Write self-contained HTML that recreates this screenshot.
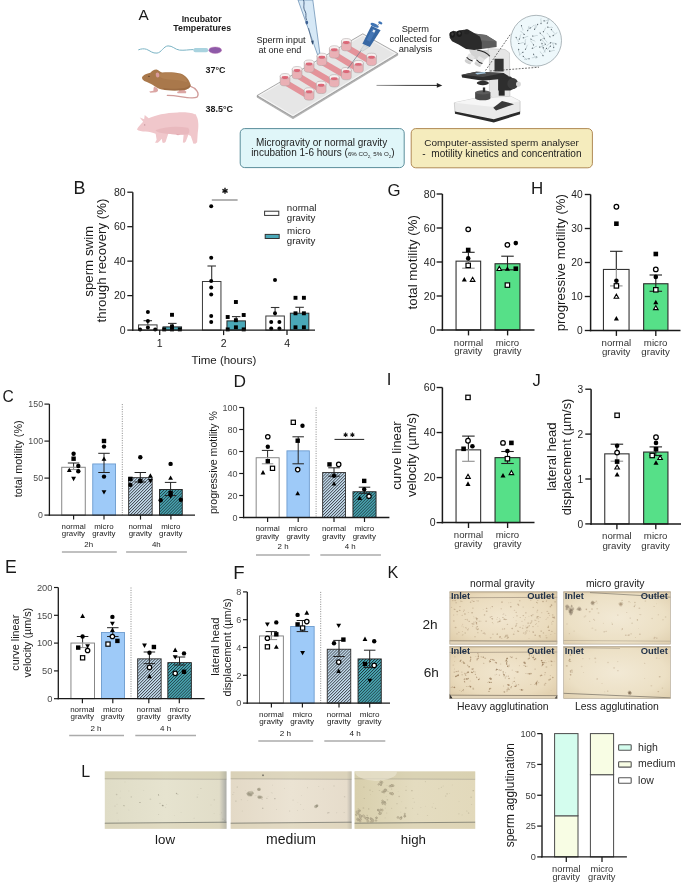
<!DOCTYPE html>
<html><head><meta charset="utf-8"><style>html,body{margin:0;padding:0;background:#fff;}svg{display:block;will-change:transform;}text{font-family:"Liberation Sans", sans-serif;}</style></head>
<body><svg width="685" height="884" viewBox="0 0 685 884" font-family='"Liberation Sans", sans-serif'>
<defs>
<pattern id="hl" patternUnits="userSpaceOnUse" width="2.1" height="2.1" patternTransform="rotate(45)">
<rect width="2.1" height="2.1" fill="#c9e2f3"/><rect width="0.85" height="2.1" fill="#454c55"/></pattern>
<pattern id="ht" patternUnits="userSpaceOnUse" width="2.1" height="2.1" patternTransform="rotate(45)">
<rect width="2.1" height="2.1" fill="#4fb3c1"/><rect width="0.85" height="2.1" fill="#1d3a40"/></pattern>

<radialGradient id="kg1" cx="0.5" cy="0.5" r="0.75"><stop offset="0" stop-color="#f1e6cf"/><stop offset="0.6" stop-color="#eadbbd"/><stop offset="1" stop-color="#d9c5a0"/></radialGradient>
<radialGradient id="kg2" cx="0.5" cy="0.5" r="0.75"><stop offset="0" stop-color="#f2e9d5"/><stop offset="0.6" stop-color="#ece0c5"/><stop offset="1" stop-color="#dccba9"/></radialGradient>
<linearGradient id="lg1" x1="0" y1="0" x2="1" y2="0"><stop offset="0" stop-color="#dfdcc6"/><stop offset="0.5" stop-color="#e6e3cf"/><stop offset="0.94" stop-color="#e1ddc8"/><stop offset="1" stop-color="#a9aaa6"/></linearGradient>
<linearGradient id="lg2" x1="0" y1="0" x2="1" y2="0"><stop offset="0" stop-color="#e3d9c6"/><stop offset="0.5" stop-color="#ebe3d3"/><stop offset="0.96" stop-color="#e6dccb"/><stop offset="1" stop-color="#b9b4aa"/></linearGradient>
<linearGradient id="lg3" x1="0" y1="0" x2="1" y2="0"><stop offset="0" stop-color="#d8cfac"/><stop offset="0.5" stop-color="#e4dcc0"/><stop offset="1" stop-color="#e2d9bb"/></linearGradient>
</defs>
<path d="M138.3,49.9 C141,48.8 144,48.4 146.5,49.3 C150,50.6 152.5,53.6 157,53.1 C161.5,52.6 163.5,46.2 168,45.9 C172.5,45.6 175,49.6 179.5,50.1 C184,50.6 189,49.6 193.6,49.6" fill="none" stroke="#7ab3c4" stroke-width="1.0"/><rect x="193.4" y="48.1" width="14.8" height="4.2" rx="2" fill="#a9d3df"/><ellipse cx="215.2" cy="50.2" rx="6.4" ry="3.3" fill="#8e5aa8" stroke="#c87fb8" stroke-width="0.4"/><g transform="translate(138,65) scale(0.09635)"><path d="M540,220 C600,240 645,290 612,333 C580,350 500,338 440,328 C390,320 340,316 305,316" fill="none" stroke="#d09c9a" stroke-width="14" stroke-linecap="round"/><path d="M168,222 L204,245 L208,270 L188,283 L128,287 L116,276 L160,266 L162,240 Z" fill="#dba6a4"/><path d="M415,250 L475,252 L502,278 L497,292 L412,293 L404,280 L428,270 Z" fill="#dba6a4"/><path d="M42,128 C50,110 75,92 128,80 C145,62 165,46 192,47 C212,52 222,68 250,78 C300,72 380,72 440,88 C500,108 535,160 545,205 C548,235 520,252 480,260 C420,266 340,266 280,260 C235,255 200,242 170,218 C140,196 100,180 65,165 C48,155 40,142 42,128 Z" fill="#a9784b"/><path d="M250,240 C320,250 420,250 480,240 C520,230 540,210 545,200 C548,235 520,252 480,260 C420,266 340,266 280,260 Z" fill="#976840" opacity="0.8"/><path d="M230,90 C300,78 400,80 450,100 C495,125 515,160 505,180 C440,150 330,160 260,140 C225,128 215,105 230,90 Z" fill="#b8865a" opacity="0.55"/><ellipse cx="203" cy="104" rx="19" ry="26" fill="#d79a9a" transform="rotate(-10 203 104)"/><circle cx="114" cy="118" r="7" fill="#4a3020"/></g><g transform="translate(134,110) scale(0.09927)"><path d="M30,196 C38,175 62,150 92,118 L58,76 L102,92 L108,50 L148,84 C210,50 320,28 440,24 C520,22 580,28 612,44 L622,42 L630,62 C652,100 652,170 642,232 L636,325 L618,340 L596,338 L592,320 L572,262 L548,250 L522,318 L508,330 L492,328 L500,250 C460,252 400,244 345,238 L318,322 L302,332 L286,328 L280,290 L262,310 L240,330 L212,330 L228,300 L218,240 C190,226 150,218 118,216 C80,216 45,212 30,196 Z" fill="#f0c7cb"/><path d="M215,205 C300,170 430,160 545,180 C565,205 560,240 535,248 C460,252 360,242 310,236 C265,232 232,225 215,205 Z" fill="#e4adb5" opacity="0.55"/><path d="M420,240 L470,250 L440,255 Z" fill="#e0a5ad"/><circle cx="108" cy="150" r="6" fill="#b88890"/></g><path d="M257,95.6 L293,117 L397.8,53.5 L397.8,55.2 L293,118.8 L257,97.2 Z" fill="#b8b8b8" stroke="#8a8a8a" stroke-width="0.4"/><path d="M257,95.6 L362.8,33.8 L397.8,53.5 L293,117 Z" fill="#e6e6e6" stroke="#8c8c8c" stroke-width="0.7"/><path d="M259.2,95.6 L362.8,35.2 L395.4,53.6 L293,115.6 Z" fill="none" stroke="#fafafa" stroke-width="0.8"/><line x1="285.03" y1="82.24" x2="309.12" y2="96.47" stroke="#e4939a" stroke-width="6.0"/><line x1="297.08" y1="75.23" x2="321.16" y2="89.90" stroke="#e4939a" stroke-width="6.0"/><line x1="309.12" y1="68.66" x2="334.30" y2="83.34" stroke="#e4939a" stroke-width="6.0"/><line x1="321.82" y1="61.88" x2="346.34" y2="76.11" stroke="#e4939a" stroke-width="6.0"/><line x1="334.30" y1="54.43" x2="358.39" y2="69.10" stroke="#e4939a" stroke-width="6.0"/><line x1="346.34" y1="47.21" x2="371.52" y2="61.88" stroke="#e4939a" stroke-width="6.0"/><path d="M280.13,76.24 L280.13,83.24 A4.9,2.6950000000000003 0 0 0 289.93,83.24 L289.93,76.24 Z" fill="#eab0b5" stroke="#a9a0a0" stroke-width="0.5"/><ellipse cx="285.03" cy="76.24" rx="4.9" ry="2.70" fill="#f7f0f0" stroke="#a9a0a0" stroke-width="0.5"/><ellipse cx="285.03" cy="77.54" rx="3.43" ry="1.47" fill="#dc6878"/><path d="M292.18,69.23 L292.18,76.23 A4.9,2.6950000000000003 0 0 0 301.98,76.23 L301.98,69.23 Z" fill="#eab0b5" stroke="#a9a0a0" stroke-width="0.5"/><ellipse cx="297.08" cy="69.23" rx="4.9" ry="2.70" fill="#f7f0f0" stroke="#a9a0a0" stroke-width="0.5"/><ellipse cx="297.08" cy="70.53" rx="3.43" ry="1.47" fill="#dc6878"/><path d="M304.22,62.66 L304.22,69.66 A4.9,2.6950000000000003 0 0 0 314.02,69.66 L314.02,62.66 Z" fill="#eab0b5" stroke="#a9a0a0" stroke-width="0.5"/><ellipse cx="309.12" cy="62.66" rx="4.9" ry="2.70" fill="#f7f0f0" stroke="#a9a0a0" stroke-width="0.5"/><ellipse cx="309.12" cy="63.96" rx="3.43" ry="1.47" fill="#dc6878"/><path d="M316.92,55.88 L316.92,62.88 A4.9,2.6950000000000003 0 0 0 326.72,62.88 L326.72,55.88 Z" fill="#eab0b5" stroke="#a9a0a0" stroke-width="0.5"/><ellipse cx="321.82" cy="55.88" rx="4.9" ry="2.70" fill="#f7f0f0" stroke="#a9a0a0" stroke-width="0.5"/><ellipse cx="321.82" cy="57.18" rx="3.43" ry="1.47" fill="#dc6878"/><path d="M329.40,48.43 L329.40,55.43 A4.9,2.6950000000000003 0 0 0 339.20,55.43 L339.20,48.43 Z" fill="#eab0b5" stroke="#a9a0a0" stroke-width="0.5"/><ellipse cx="334.30" cy="48.43" rx="4.9" ry="2.70" fill="#f7f0f0" stroke="#a9a0a0" stroke-width="0.5"/><ellipse cx="334.30" cy="49.73" rx="3.43" ry="1.47" fill="#dc6878"/><path d="M341.44,41.21 L341.44,48.21 A4.9,2.6950000000000003 0 0 0 351.24,48.21 L351.24,41.21 Z" fill="#eab0b5" stroke="#a9a0a0" stroke-width="0.5"/><ellipse cx="346.34" cy="41.21" rx="4.9" ry="2.70" fill="#f7f0f0" stroke="#a9a0a0" stroke-width="0.5"/><ellipse cx="346.34" cy="42.51" rx="3.43" ry="1.47" fill="#dc6878"/><path d="M304.22,90.47 L304.22,97.47 A4.9,2.6950000000000003 0 0 0 314.02,97.47 L314.02,90.47 Z" fill="#eab0b5" stroke="#a9a0a0" stroke-width="0.5"/><ellipse cx="309.12" cy="90.47" rx="4.9" ry="2.70" fill="#f7f0f0" stroke="#a9a0a0" stroke-width="0.5"/><ellipse cx="309.12" cy="91.77" rx="3.43" ry="1.47" fill="#dc6878"/><path d="M316.26,83.90 L316.26,90.90 A4.9,2.6950000000000003 0 0 0 326.06,90.90 L326.06,83.90 Z" fill="#eab0b5" stroke="#a9a0a0" stroke-width="0.5"/><ellipse cx="321.16" cy="83.90" rx="4.9" ry="2.70" fill="#f7f0f0" stroke="#a9a0a0" stroke-width="0.5"/><ellipse cx="321.16" cy="85.20" rx="3.43" ry="1.47" fill="#dc6878"/><path d="M329.40,77.34 L329.40,84.34 A4.9,2.6950000000000003 0 0 0 339.20,84.34 L339.20,77.34 Z" fill="#eab0b5" stroke="#a9a0a0" stroke-width="0.5"/><ellipse cx="334.30" cy="77.34" rx="4.9" ry="2.70" fill="#f7f0f0" stroke="#a9a0a0" stroke-width="0.5"/><ellipse cx="334.30" cy="78.64" rx="3.43" ry="1.47" fill="#dc6878"/><path d="M341.44,70.11 L341.44,77.11 A4.9,2.6950000000000003 0 0 0 351.24,77.11 L351.24,70.11 Z" fill="#eab0b5" stroke="#a9a0a0" stroke-width="0.5"/><ellipse cx="346.34" cy="70.11" rx="4.9" ry="2.70" fill="#f7f0f0" stroke="#a9a0a0" stroke-width="0.5"/><ellipse cx="346.34" cy="71.41" rx="3.43" ry="1.47" fill="#dc6878"/><path d="M353.49,63.10 L353.49,70.10 A4.9,2.6950000000000003 0 0 0 363.29,70.10 L363.29,63.10 Z" fill="#eab0b5" stroke="#a9a0a0" stroke-width="0.5"/><ellipse cx="358.39" cy="63.10" rx="4.9" ry="2.70" fill="#f7f0f0" stroke="#a9a0a0" stroke-width="0.5"/><ellipse cx="358.39" cy="64.40" rx="3.43" ry="1.47" fill="#dc6878"/><path d="M366.62,55.88 L366.62,62.88 A4.9,2.6950000000000003 0 0 0 376.42,62.88 L376.42,55.88 Z" fill="#eab0b5" stroke="#a9a0a0" stroke-width="0.5"/><ellipse cx="371.52" cy="55.88" rx="4.9" ry="2.70" fill="#f7f0f0" stroke="#a9a0a0" stroke-width="0.5"/><ellipse cx="371.52" cy="57.18" rx="3.43" ry="1.47" fill="#dc6878"/><path d="M298.0,0 L312.8,0 L319.8,53 L317.6,54.8 Z" fill="#d6e8f6" stroke="#5f86ad" stroke-width="0.7"/><path d="M303.5,0 C305,4 302.5,7 305,11 C307,14 305,17 306.5,20" fill="none" stroke="#2f4a6e" stroke-width="0.8"/><ellipse cx="306.8" cy="22.5" rx="1.3" ry="2.0" fill="#3d5f92"/><path d="M308.5,28 L312.5,44" stroke="#2f4a6e" stroke-width="0.6"/><path d="M311.2,41 L312.8,45 L313.8,40.6 Z" fill="#2f4a6e"/><line x1="361.5" y1="50" x2="347.6" y2="68.9" stroke="#6b7a86" stroke-width="0.7"/><path d="M363.8,45.2 L368.6,47.4 L362.4,51.2 L360.6,50.0 Z" fill="#d9dde0" stroke="#9aa" stroke-width="0.3"/><path d="M362.4,43.8 L371.3,25.8 L380.6,30.2 L369.8,46.9 Z" fill="#3767a3"/><path d="M366.5,40 L372.5,28.5 L376,30.2 L370,41.8 Z" fill="#4a7cba" opacity="0.8"/><rect x="372.8" y="29.8" width="2.2" height="2.6" fill="#e8eef4" transform="rotate(27 374 31)"/><ellipse cx="374.6" cy="25.3" rx="4.4" ry="1.7" fill="#3f74b5" transform="rotate(25 374.6 25.3)"/><line x1="376.8" y1="26" x2="379.6" y2="23.4" stroke="#8a96a2" stroke-width="0.8"/><ellipse cx="380.3" cy="22.9" rx="2.2" ry="1.3" fill="#3f74b5" transform="rotate(25 380.3 22.9)"/><g transform="translate(445,25) scale(0.11679)"><path d="M367,202 L514,210 L552,238 L556,610 L430,640 L380,600 L380,280 Z" fill="#e6e6e6" stroke="#bdbdbd" stroke-width="5"/><rect x="424" y="289" width="78" height="109" fill="#333"/><path d="M80,666 L258,628 L568,614 L643,652 L643,746 L418,816 L85,746 Z" fill="#e9e9e9" stroke="#b5b5b5" stroke-width="5"/><path d="M80,666 L258,628 L568,614 L643,652 L399,699 Z" fill="#f6f6f6"/><path d="M85,741 L418,807 L643,741 L643,764 L418,835 L85,760 Z" fill="#2a2a2a"/><path d="M413,708 L488,650 L591,678 L437,732 Z" fill="#3a3a3a"/><rect x="258" y="577" width="131" height="50" fill="#4a4a4a"/><ellipse cx="323.5" cy="627" rx="65.5" ry="18" fill="#4a4a4a"/><ellipse cx="323.5" cy="577" rx="65.5" ry="18" fill="#5c5c5c"/><rect x="324" y="535" width="20" height="40" fill="#2e2e2e"/><rect x="460" y="474" width="51" height="131" fill="#2a2a2a"/><path d="M455,440 L560,440 L598,468 L598,540 L560,560 L455,560 Z" fill="#2e2e2e"/><ellipse cx="580" cy="502" rx="46" ry="48" fill="#3c3c3c"/><ellipse cx="629" cy="506" rx="21" ry="23" fill="#dadada"/><ellipse cx="324" cy="497" rx="52" ry="19" fill="#2f2f2f"/><path d="M141,427 L267,401 L502,410 L544,436 L544,455 L324,478 L146,450 Z" fill="#2d2d2d"/><path d="M146,427 L267,401 L502,410 L324,446 Z" fill="#4a4a4a"/><path d="M258,410 L340,402 L352,414 L275,424 Z" fill="#a9cbe3"/><path d="M205,212 L372,214 L388,262 L335,300 L240,292 Z" fill="#d3d3d3"/><path d="M275,214 C325,222 362,240 384,268" fill="none" stroke="#1f1f1f" stroke-width="9"/><g transform="rotate(32 212 290)"><rect x="182" y="252" width="60" height="70" rx="8" fill="#e3e3e3"/><path d="M182,292 Q212,304 242,292" fill="none" stroke="#1f1f1f" stroke-width="8"/><ellipse cx="212" cy="322" rx="30" ry="12" fill="#cfcfcf"/></g><g transform="rotate(32 296 312)"><rect x="266" y="274" width="60" height="70" rx="8" fill="#e3e3e3"/><path d="M266,314 Q296,326 326,314" fill="none" stroke="#1f1f1f" stroke-width="8"/><ellipse cx="296" cy="344" rx="30" ry="12" fill="#cfcfcf"/></g><path d="M218,68 L352,86 L442,142 L442,188 L315,206 L248,188 Z" fill="#5b5b5b"/><path d="M218,68 L352,86 L442,142 L300,130 Z" fill="#6a6a6a"/><path d="M40,70 L70,50 L100,55 L130,45 L165,40 L200,40 L235,60 L300,100 L315,150 L315,205 L250,215 L180,205 L120,170 L60,140 L40,110 Z" fill="#2b2b2b"/><ellipse cx="62" cy="82" rx="23" ry="27" fill="#1a1a1a"/><ellipse cx="122" cy="75" rx="23" ry="27" fill="#1a1a1a"/><ellipse cx="186" cy="58" rx="22" ry="22" fill="#262626"/><ellipse cx="64" cy="78" rx="10" ry="13" fill="#3c3c3c"/><ellipse cx="124" cy="71" rx="10" ry="13" fill="#3c3c3c"/></g><line x1="485.5" y1="70.5" x2="511" y2="33.5" stroke="#444" stroke-width="0.8" stroke-dasharray="1.8,1.4"/><line x1="490" y1="71" x2="539" y2="67.2" stroke="#444" stroke-width="0.8" stroke-dasharray="1.8,1.4"/><circle cx="536.1" cy="40.7" r="25.4" fill="#eef8fb" stroke="#9aa6ab" stroke-width="0.8"/><path d="M532.4,48.2 C534.3,48.5 535.0,46.0 537.0,46.2" fill="none" stroke="#a3b2b9" stroke-width="0.5"/><ellipse cx="532.4" cy="48.2" rx="0.75" ry="0.55" fill="#56636a" transform="rotate(337 532.4 48.2)"/><path d="M532.7,36.0 C534.4,36.9 535.9,34.8 537.7,35.6" fill="none" stroke="#a3b2b9" stroke-width="0.5"/><ellipse cx="532.7" cy="36.0" rx="0.75" ry="0.55" fill="#56636a" transform="rotate(356 532.7 36.0)"/><path d="M523.4,37.8 C525.3,38.3 526.3,35.9 528.2,36.4" fill="none" stroke="#a3b2b9" stroke-width="0.5"/><ellipse cx="523.4" cy="37.8" rx="0.75" ry="0.55" fill="#56636a" transform="rotate(344 523.4 37.8)"/><path d="M550.4,46.2 C548.6,46.7 549.0,49.3 547.1,49.9" fill="none" stroke="#a3b2b9" stroke-width="0.5"/><ellipse cx="550.4" cy="46.2" rx="0.75" ry="0.55" fill="#56636a" transform="rotate(131 550.4 46.2)"/><path d="M542.0,43.5 C541.3,45.3 543.6,46.5 542.9,48.4" fill="none" stroke="#a3b2b9" stroke-width="0.5"/><ellipse cx="542.0" cy="43.5" rx="0.75" ry="0.55" fill="#56636a" transform="rotate(79 542.0 43.5)"/><path d="M518.7,49.6 C518.0,51.4 520.2,52.7 519.4,54.6" fill="none" stroke="#a3b2b9" stroke-width="0.5"/><ellipse cx="518.7" cy="49.6" rx="0.75" ry="0.55" fill="#56636a" transform="rotate(82 518.7 49.6)"/><path d="M543.3,47.8 C542.9,49.7 545.4,50.6 545.0,52.6" fill="none" stroke="#a3b2b9" stroke-width="0.5"/><ellipse cx="543.3" cy="47.8" rx="0.75" ry="0.55" fill="#56636a" transform="rotate(71 543.3 47.8)"/><path d="M521.5,25.7 C521.0,27.5 523.4,28.6 522.9,30.5" fill="none" stroke="#a3b2b9" stroke-width="0.5"/><ellipse cx="521.5" cy="25.7" rx="0.75" ry="0.55" fill="#56636a" transform="rotate(74 521.5 25.7)"/><path d="M524.1,34.4 C523.6,32.5 521.1,32.8 520.6,30.9" fill="none" stroke="#a3b2b9" stroke-width="0.5"/><ellipse cx="524.1" cy="34.4" rx="0.75" ry="0.55" fill="#56636a" transform="rotate(225 524.1 34.4)"/><path d="M540.7,40.0 C542.6,39.9 542.8,37.3 544.7,37.1" fill="none" stroke="#a3b2b9" stroke-width="0.5"/><ellipse cx="540.7" cy="40.0" rx="0.75" ry="0.55" fill="#56636a" transform="rotate(324 540.7 40.0)"/><path d="M543.4,31.7 C545.1,30.9 544.3,28.4 546.1,27.5" fill="none" stroke="#a3b2b9" stroke-width="0.5"/><ellipse cx="543.4" cy="31.7" rx="0.75" ry="0.55" fill="#56636a" transform="rotate(303 543.4 31.7)"/><path d="M529.1,58.8 C527.4,58.0 526.0,60.2 524.2,59.5" fill="none" stroke="#a3b2b9" stroke-width="0.5"/><ellipse cx="529.1" cy="58.8" rx="0.75" ry="0.55" fill="#56636a" transform="rotate(173 529.1 58.8)"/><path d="M543.0,55.6 C542.9,53.6 540.3,53.4 540.2,51.5" fill="none" stroke="#a3b2b9" stroke-width="0.5"/><ellipse cx="543.0" cy="55.6" rx="0.75" ry="0.55" fill="#56636a" transform="rotate(235 543.0 55.6)"/><path d="M527.7,30.6 C529.1,29.4 527.7,27.2 529.2,25.9" fill="none" stroke="#a3b2b9" stroke-width="0.5"/><ellipse cx="527.7" cy="30.6" rx="0.75" ry="0.55" fill="#56636a" transform="rotate(288 527.7 30.6)"/><path d="M531.0,39.1 C531.9,40.8 534.3,39.9 535.3,41.6" fill="none" stroke="#a3b2b9" stroke-width="0.5"/><ellipse cx="531.0" cy="39.1" rx="0.75" ry="0.55" fill="#56636a" transform="rotate(31 531.0 39.1)"/><path d="M545.2,44.3 C545.1,42.3 542.6,42.0 542.5,40.0" fill="none" stroke="#a3b2b9" stroke-width="0.5"/><ellipse cx="545.2" cy="44.3" rx="0.75" ry="0.55" fill="#56636a" transform="rotate(238 545.2 44.3)"/><path d="M530.1,28.0 C532.1,27.9 532.4,25.3 534.4,25.3" fill="none" stroke="#a3b2b9" stroke-width="0.5"/><ellipse cx="530.1" cy="28.0" rx="0.75" ry="0.55" fill="#56636a" transform="rotate(328 530.1 28.0)"/><path d="M524.8,44.1 C526.1,42.7 524.5,40.7 525.8,39.2" fill="none" stroke="#a3b2b9" stroke-width="0.5"/><ellipse cx="524.8" cy="44.1" rx="0.75" ry="0.55" fill="#56636a" transform="rotate(282 524.8 44.1)"/><path d="M541.0,23.4 C542.0,21.8 540.1,20.1 541.1,18.4" fill="none" stroke="#a3b2b9" stroke-width="0.5"/><ellipse cx="541.0" cy="23.4" rx="0.75" ry="0.55" fill="#56636a" transform="rotate(270 541.0 23.4)"/><path d="M536.7,57.0 C534.9,56.2 533.6,58.4 531.8,57.7" fill="none" stroke="#a3b2b9" stroke-width="0.5"/><ellipse cx="536.7" cy="57.0" rx="0.75" ry="0.55" fill="#56636a" transform="rotate(172 536.7 57.0)"/><path d="M516.2,37.5 C516.1,39.4 518.6,40.1 518.4,42.0" fill="none" stroke="#a3b2b9" stroke-width="0.5"/><ellipse cx="516.2" cy="37.5" rx="0.75" ry="0.55" fill="#56636a" transform="rotate(64 516.2 37.5)"/><path d="M534.6,29.3 C536.0,27.9 534.4,25.8 535.8,24.4" fill="none" stroke="#a3b2b9" stroke-width="0.5"/><ellipse cx="534.6" cy="29.3" rx="0.75" ry="0.55" fill="#56636a" transform="rotate(284 534.6 29.3)"/><path d="M537.6,24.5 C535.9,25.4 536.8,27.9 535.1,28.8" fill="none" stroke="#a3b2b9" stroke-width="0.5"/><ellipse cx="537.6" cy="24.5" rx="0.75" ry="0.55" fill="#56636a" transform="rotate(120 537.6 24.5)"/><path d="M547.3,23.1 C548.8,21.8 547.4,19.6 548.9,18.3" fill="none" stroke="#a3b2b9" stroke-width="0.5"/><ellipse cx="547.3" cy="23.1" rx="0.75" ry="0.55" fill="#56636a" transform="rotate(288 547.3 23.1)"/><path d="M518.8,43.5 C520.6,44.2 521.9,42.0 523.7,42.7" fill="none" stroke="#a3b2b9" stroke-width="0.5"/><ellipse cx="518.8" cy="43.5" rx="0.75" ry="0.55" fill="#56636a" transform="rotate(350 518.8 43.5)"/><path d="M522.9,52.3 C520.9,52.5 520.8,55.1 518.9,55.3" fill="none" stroke="#a3b2b9" stroke-width="0.5"/><ellipse cx="522.9" cy="52.3" rx="0.75" ry="0.55" fill="#56636a" transform="rotate(143 522.9 52.3)"/><path d="M550.6,42.8 C548.6,42.9 548.5,45.5 546.5,45.7" fill="none" stroke="#a3b2b9" stroke-width="0.5"/><ellipse cx="550.6" cy="42.8" rx="0.75" ry="0.55" fill="#56636a" transform="rotate(144 550.6 42.8)"/><path d="M539.7,47.1 C541.6,47.5 542.5,45.1 544.4,45.5" fill="none" stroke="#a3b2b9" stroke-width="0.5"/><ellipse cx="539.7" cy="47.1" rx="0.75" ry="0.55" fill="#56636a" transform="rotate(341 539.7 47.1)"/><path d="M553.7,47.5 C554.4,45.7 552.2,44.4 552.9,42.6" fill="none" stroke="#a3b2b9" stroke-width="0.5"/><ellipse cx="553.7" cy="47.5" rx="0.75" ry="0.55" fill="#56636a" transform="rotate(261 553.7 47.5)"/><path d="M533.6,54.3 C533.6,56.3 536.1,56.7 536.0,58.7" fill="none" stroke="#a3b2b9" stroke-width="0.5"/><ellipse cx="533.6" cy="54.3" rx="0.75" ry="0.55" fill="#56636a" transform="rotate(61 533.6 54.3)"/><path d="M523.3,56.4 C523.8,58.3 526.4,58.0 526.8,60.0" fill="none" stroke="#a3b2b9" stroke-width="0.5"/><ellipse cx="523.3" cy="56.4" rx="0.75" ry="0.55" fill="#56636a" transform="rotate(46 523.3 56.4)"/><path d="M544.2,38.5 C544.3,40.4 546.9,40.6 547.1,42.6" fill="none" stroke="#a3b2b9" stroke-width="0.5"/><ellipse cx="544.2" cy="38.5" rx="0.75" ry="0.55" fill="#56636a" transform="rotate(54 544.2 38.5)"/><path d="M553.2,35.5 C555.1,35.4 555.4,32.8 557.3,32.7" fill="none" stroke="#a3b2b9" stroke-width="0.5"/><ellipse cx="553.2" cy="35.5" rx="0.75" ry="0.55" fill="#56636a" transform="rotate(326 553.2 35.5)"/><path d="M519.3,39.1 C520.8,37.9 519.5,35.6 521.0,34.4" fill="none" stroke="#a3b2b9" stroke-width="0.5"/><ellipse cx="519.3" cy="39.1" rx="0.75" ry="0.55" fill="#56636a" transform="rotate(290 519.3 39.1)"/><path d="M551.4,29.5 C551.6,31.4 554.2,31.5 554.5,33.5" fill="none" stroke="#a3b2b9" stroke-width="0.5"/><ellipse cx="551.4" cy="29.5" rx="0.75" ry="0.55" fill="#56636a" transform="rotate(53 551.4 29.5)"/><path d="M525.5,49.2 C527.2,48.2 526.1,45.8 527.8,44.8" fill="none" stroke="#a3b2b9" stroke-width="0.5"/><ellipse cx="525.5" cy="49.2" rx="0.75" ry="0.55" fill="#56636a" transform="rotate(298 525.5 49.2)"/><path d="M549.7,51.1 C551.5,51.9 552.9,49.7 554.7,50.5" fill="none" stroke="#a3b2b9" stroke-width="0.5"/><ellipse cx="549.7" cy="51.1" rx="0.75" ry="0.55" fill="#56636a" transform="rotate(353 549.7 51.1)"/><path d="M533.5,44.9 C533.4,42.9 530.8,42.7 530.7,40.7" fill="none" stroke="#a3b2b9" stroke-width="0.5"/><ellipse cx="533.5" cy="44.9" rx="0.75" ry="0.55" fill="#56636a" transform="rotate(237 533.5 44.9)"/><path d="M546.5,48.4 C544.7,49.2 545.4,51.7 543.6,52.5" fill="none" stroke="#a3b2b9" stroke-width="0.5"/><ellipse cx="546.5" cy="48.4" rx="0.75" ry="0.55" fill="#56636a" transform="rotate(126 546.5 48.4)"/><path d="M555.9,43.9 C554.7,42.5 552.5,43.9 551.2,42.4" fill="none" stroke="#a3b2b9" stroke-width="0.5"/><ellipse cx="555.9" cy="43.9" rx="0.75" ry="0.55" fill="#56636a" transform="rotate(198 555.9 43.9)"/><path d="M540.2,33.1 C540.6,35.0 543.2,34.8 543.6,36.8" fill="none" stroke="#a3b2b9" stroke-width="0.5"/><ellipse cx="540.2" cy="33.1" rx="0.75" ry="0.55" fill="#56636a" transform="rotate(47 540.2 33.1)"/><path d="M547.8,27.1 C549.4,28.3 551.2,26.4 552.8,27.6" fill="none" stroke="#a3b2b9" stroke-width="0.5"/><ellipse cx="547.8" cy="27.1" rx="0.75" ry="0.55" fill="#56636a" transform="rotate(5 547.8 27.1)"/><path d="M544.1,20.9 C545.9,21.6 547.2,19.4 549.1,20.0" fill="none" stroke="#a3b2b9" stroke-width="0.5"/><ellipse cx="544.1" cy="20.9" rx="0.75" ry="0.55" fill="#56636a" transform="rotate(350 544.1 20.9)"/><path d="M549.9,36.8 C549.8,34.9 547.2,34.7 547.0,32.8" fill="none" stroke="#a3b2b9" stroke-width="0.5"/><ellipse cx="549.9" cy="36.8" rx="0.75" ry="0.55" fill="#56636a" transform="rotate(234 549.9 36.8)"/><text x="138.40" y="20.40" font-size="15.34" fill="#1a1a1a">A</text><text x="181.68" y="21.60" font-size="8.78" font-weight="bold" fill="#1a1a1a">Incubator</text><text x="173.36" y="30.50" font-size="8.83" font-weight="bold" fill="#1a1a1a">Temperatures</text><text x="205.58" y="73.20" font-size="8.94" font-weight="bold" fill="#1a1a1a">37°C</text><text x="205.58" y="112.00" font-size="8.96" font-weight="bold" fill="#1a1a1a">38.5°C</text><text x="256.39" y="42.70" font-size="9.14" fill="#222">Sperm input</text><text x="258.44" y="52.90" font-size="9.09" fill="#222">at one end</text><text x="401.68" y="31.80" font-size="9.28" fill="#222">Sperm</text><text x="389.42" y="42.30" font-size="9.52" fill="#222">collected for</text><text x="398.63" y="52.40" font-size="9.29" fill="#222">analysis</text><defs><linearGradient id="arr" x1="0" x2="1" y1="0" y2="0"><stop offset="0" stop-color="#9a9a9a"/><stop offset="0.5" stop-color="#444"/><stop offset="1" stop-color="#222"/></linearGradient></defs><rect x="376.5" y="84.9" width="61" height="1.0" fill="url(#arr)"/><path d="M442.3,85.4 L436.8,83.0 L436.8,87.8 Z" fill="#222"/><rect x="240.2" y="128.6" width="164" height="39" rx="4.5" fill="#e0f6f9" stroke="#5b8d9a" stroke-width="1.0"/><rect x="411.2" y="128.6" width="181.2" height="39.2" rx="4.5" fill="#f5ecbd" stroke="#b08a55" stroke-width="1.0"/><text x="256.00" y="146.00" font-size="10.00" fill="#1e1e1e">Microgravity or normal gravity</text><text x="251.15" y="156.4" font-size="10.0" fill="#1e1e1e">incubation 1-6 hours (<tspan font-size="6.2">6% CO</tspan><tspan font-size="4.4" dy="1.2">2,</tspan><tspan font-size="6.2" dy="-1.2"> 5% O</tspan><tspan font-size="4.4" dy="1.2">2</tspan><tspan dy="-1.2">)</tspan></text><text x="424.30" y="146.20" font-size="9.97" fill="#1e1e1e">Computer-assisted sperm analyser</text><text x="422.35" y="156.60" font-size="10.06" fill="#1e1e1e">-  motility kinetics and concentration</text><text x="73.56" y="194.00" font-size="17.94" fill="#1a1a1a">B</text><line x1="132.80" y1="192.20" x2="132.80" y2="330.80" stroke="#1a1a1a" stroke-width="1.4"/><line x1="127.30" y1="330.10" x2="132.80" y2="330.10" stroke="#1a1a1a" stroke-width="1.26"/><text x="119.84" y="333.83" font-size="10.50" fill="#262626">0</text><line x1="127.30" y1="295.62" x2="132.80" y2="295.62" stroke="#1a1a1a" stroke-width="1.26"/><text x="114.01" y="299.35" font-size="10.50" fill="#262626">20</text><line x1="127.30" y1="261.15" x2="132.80" y2="261.15" stroke="#1a1a1a" stroke-width="1.26"/><text x="114.01" y="264.88" font-size="10.50" fill="#262626">40</text><line x1="127.30" y1="226.68" x2="132.80" y2="226.68" stroke="#1a1a1a" stroke-width="1.26"/><text x="114.01" y="230.40" font-size="10.50" fill="#262626">60</text><line x1="127.30" y1="192.20" x2="132.80" y2="192.20" stroke="#1a1a1a" stroke-width="1.26"/><text x="114.01" y="195.93" font-size="10.50" fill="#262626">80</text><rect x="138.55" y="324.90" width="18.50" height="5.20" fill="#ffffff" stroke="#3a3a3a" stroke-width="1.0"/><rect x="163.05" y="326.90" width="18.50" height="3.20" fill="#4aa8b8" stroke="#2a2a2a" stroke-width="1.0"/><line x1="147.80" y1="320.70" x2="147.80" y2="324.40" stroke="#333" stroke-width="1.1"/><line x1="143.55" y1="320.70" x2="152.05" y2="320.70" stroke="#333" stroke-width="1.1"/><line x1="172.30" y1="323.40" x2="172.30" y2="326.40" stroke="#333" stroke-width="1.1"/><line x1="168.05" y1="323.40" x2="176.55" y2="323.40" stroke="#333" stroke-width="1.1"/><rect x="202.45" y="281.50" width="18.50" height="48.60" fill="#ffffff" stroke="#3a3a3a" stroke-width="1.0"/><rect x="226.95" y="320.90" width="18.50" height="9.20" fill="#4aa8b8" stroke="#2a2a2a" stroke-width="1.0"/><line x1="211.70" y1="266.00" x2="211.70" y2="281.00" stroke="#333" stroke-width="1.1"/><line x1="207.45" y1="266.00" x2="215.95" y2="266.00" stroke="#333" stroke-width="1.1"/><line x1="236.20" y1="316.60" x2="236.20" y2="320.40" stroke="#333" stroke-width="1.1"/><line x1="231.95" y1="316.60" x2="240.45" y2="316.60" stroke="#333" stroke-width="1.1"/><rect x="265.85" y="316.00" width="18.50" height="14.10" fill="#ffffff" stroke="#3a3a3a" stroke-width="1.0"/><rect x="290.35" y="313.20" width="18.50" height="16.90" fill="#4aa8b8" stroke="#2a2a2a" stroke-width="1.0"/><line x1="275.10" y1="307.50" x2="275.10" y2="315.50" stroke="#333" stroke-width="1.1"/><line x1="270.85" y1="307.50" x2="279.35" y2="307.50" stroke="#333" stroke-width="1.1"/><line x1="299.60" y1="307.30" x2="299.60" y2="312.70" stroke="#333" stroke-width="1.1"/><line x1="295.35" y1="307.30" x2="303.85" y2="307.30" stroke="#333" stroke-width="1.1"/><circle cx="147.90" cy="312.10" r="2.00" fill="#000"/><circle cx="147.90" cy="320.90" r="2.00" fill="#000"/><circle cx="147.90" cy="327.40" r="2.00" fill="#000"/><circle cx="140.10" cy="329.60" r="2.00" fill="#000"/><circle cx="155.20" cy="329.60" r="2.00" fill="#000"/><circle cx="211.20" cy="206.20" r="2.00" fill="#000"/><circle cx="211.20" cy="257.80" r="2.00" fill="#000"/><circle cx="211.20" cy="281.00" r="2.00" fill="#000"/><circle cx="211.20" cy="287.50" r="2.00" fill="#000"/><circle cx="211.20" cy="294.60" r="2.00" fill="#000"/><circle cx="211.20" cy="315.90" r="2.00" fill="#000"/><circle cx="211.20" cy="322.00" r="2.00" fill="#000"/><circle cx="275.00" cy="280.00" r="2.00" fill="#000"/><circle cx="275.00" cy="313.30" r="2.00" fill="#000"/><circle cx="271.20" cy="322.00" r="2.00" fill="#000"/><circle cx="279.40" cy="322.00" r="2.00" fill="#000"/><circle cx="271.20" cy="328.40" r="2.00" fill="#000"/><circle cx="279.40" cy="328.40" r="2.00" fill="#000"/><rect x="170.05" y="312.85" width="3.90" height="3.90" fill="#000"/><rect x="170.05" y="324.45" width="3.90" height="3.90" fill="#000"/><rect x="162.25" y="327.45" width="3.90" height="3.90" fill="#000"/><rect x="170.05" y="327.45" width="3.90" height="3.90" fill="#000"/><rect x="177.85" y="327.45" width="3.90" height="3.90" fill="#000"/><rect x="233.95" y="300.05" width="3.90" height="3.90" fill="#000"/><rect x="225.75" y="315.05" width="3.90" height="3.90" fill="#000"/><rect x="241.75" y="313.05" width="3.90" height="3.90" fill="#000"/><rect x="233.95" y="318.25" width="3.90" height="3.90" fill="#000"/><rect x="225.75" y="327.45" width="3.90" height="3.90" fill="#000"/><rect x="233.95" y="325.35" width="3.90" height="3.90" fill="#000"/><rect x="241.75" y="327.45" width="3.90" height="3.90" fill="#000"/><rect x="293.55" y="295.85" width="3.90" height="3.90" fill="#000"/><rect x="301.95" y="295.85" width="3.90" height="3.90" fill="#000"/><rect x="293.55" y="311.35" width="3.90" height="3.90" fill="#000"/><rect x="301.95" y="311.35" width="3.90" height="3.90" fill="#000"/><rect x="293.55" y="325.35" width="3.90" height="3.90" fill="#000"/><rect x="301.95" y="325.35" width="3.90" height="3.90" fill="#000"/><line x1="132.10" y1="330.10" x2="315.00" y2="330.10" stroke="#1a1a1a" stroke-width="1.4"/><line x1="159.70" y1="330.10" x2="159.70" y2="335.10" stroke="#1a1a1a" stroke-width="1.26"/><line x1="223.60" y1="330.10" x2="223.60" y2="335.10" stroke="#1a1a1a" stroke-width="1.26"/><line x1="287.00" y1="330.10" x2="287.00" y2="335.10" stroke="#1a1a1a" stroke-width="1.26"/><text x="156.63" y="346.80" font-size="10.50" fill="#1a1a1a">1</text><text x="220.69" y="346.80" font-size="10.50" fill="#1a1a1a">2</text><text x="284.14" y="346.80" font-size="10.50" fill="#1a1a1a">4</text><text x="191.57" y="363.60" font-size="11.51" fill="#1a1a1a">Time (hours)</text><text transform="translate(92.53,296.75) rotate(-90)" x="0" y="0" font-size="13.30" fill="#1a1a1a">sperm swim</text><text transform="translate(106.22,322.40) rotate(-90)" x="0" y="0" font-size="13.28" fill="#1a1a1a">through recovery (%)</text><line x1="211.80" y1="200.00" x2="237.60" y2="200.00" stroke="#8a8a8a" stroke-width="1.3"/><line x1="225.00" y1="187.80" x2="225.00" y2="193.80" stroke="#111" stroke-width="1.4"/><line x1="222.40" y1="189.30" x2="227.60" y2="192.30" stroke="#111" stroke-width="1.4"/><line x1="227.60" y1="189.30" x2="222.40" y2="192.30" stroke="#111" stroke-width="1.4"/><rect x="264.60" y="211.20" width="14.20" height="4.20" fill="#ffffff" stroke="#333" stroke-width="1.0"/><rect x="265.20" y="234.40" width="14.00" height="4.10" fill="#4aa8b8" stroke="#333" stroke-width="1.0"/><text x="286.87" y="211.30" font-size="9.70" fill="#1a1a1a">normal</text><text x="286.81" y="221.30" font-size="9.70" fill="#1a1a1a">gravity</text><text x="287.07" y="234.30" font-size="9.70" fill="#1a1a1a">micro</text><text x="286.81" y="243.50" font-size="9.70" fill="#1a1a1a">gravity</text><text x="2.42" y="401.80" font-size="15.59" fill="#1a1a1a">C</text><line x1="122.30" y1="404.10" x2="122.30" y2="515.10" stroke="#8a8a8a" stroke-width="1.0" stroke-dasharray="1,1.4"/><rect x="61.75" y="467.25" width="23.50" height="47.85" fill="#ffffff" stroke="#7a7a7a" stroke-width="0.9"/><rect x="92.75" y="463.95" width="22.80" height="51.15" fill="#9ecaf8" stroke="#6d9ccf" stroke-width="0.9"/><rect x="128.65" y="477.65" width="23.50" height="37.45" fill="url(#hl)" stroke="#2e2e2e" stroke-width="0.9"/><rect x="159.55" y="489.45" width="22.70" height="25.65" fill="url(#ht)" stroke="#1e1e1e" stroke-width="0.9"/><line x1="73.60" y1="463.00" x2="73.60" y2="466.80" stroke="#222" stroke-width="1.0"/><line x1="73.60" y1="466.80" x2="73.60" y2="469.60" stroke="#8f8f8f" stroke-width="1.0"/><line x1="67.85" y1="463.00" x2="79.35" y2="463.00" stroke="#222" stroke-width="1.0"/><line x1="67.85" y1="469.60" x2="79.35" y2="469.60" stroke="#8f8f8f" stroke-width="1.0"/><line x1="104.00" y1="453.30" x2="104.00" y2="472.50" stroke="#222" stroke-width="1.0"/><line x1="98.25" y1="453.30" x2="109.75" y2="453.30" stroke="#222" stroke-width="1.0"/><line x1="98.25" y1="472.50" x2="109.75" y2="472.50" stroke="#222" stroke-width="1.0"/><line x1="140.30" y1="472.50" x2="140.30" y2="482.00" stroke="#222" stroke-width="1.0"/><line x1="134.55" y1="472.50" x2="146.05" y2="472.50" stroke="#222" stroke-width="1.0"/><line x1="134.55" y1="482.00" x2="146.05" y2="482.00" stroke="#222" stroke-width="1.0"/><line x1="170.60" y1="482.40" x2="170.60" y2="495.60" stroke="#222" stroke-width="1.0"/><line x1="164.85" y1="482.40" x2="176.35" y2="482.40" stroke="#222" stroke-width="1.0"/><line x1="164.85" y1="495.60" x2="176.35" y2="495.60" stroke="#222" stroke-width="1.0"/><circle cx="73.60" cy="453.80" r="2.20" fill="#000"/><rect x="71.40" y="456.50" width="4.40" height="4.40" fill="#000"/><circle cx="78.30" cy="466.00" r="2.20" fill="#000"/><path d="M69.30,467.68L71.72,472.04L66.88,472.04Z" fill="#000"/><circle cx="78.30" cy="471.20" r="2.20" fill="#000"/><path d="M73.60,481.22L76.02,476.86L71.18,476.86Z" fill="#000"/><rect x="101.80" y="438.80" width="4.40" height="4.40" fill="#000"/><circle cx="104.00" cy="446.60" r="2.20" fill="#000"/><path d="M104.00,456.48L106.42,460.84L101.58,460.84Z" fill="#000"/><circle cx="104.00" cy="476.60" r="2.20" fill="#000"/><path d="M104.00,494.52L106.42,490.16L101.58,490.16Z" fill="#000"/><circle cx="140.30" cy="457.30" r="2.20" fill="#000"/><rect x="128.20" y="476.70" width="4.40" height="4.40" fill="#000"/><circle cx="130.40" cy="484.90" r="2.20" fill="#000"/><rect x="138.10" y="478.80" width="4.40" height="4.40" fill="#000"/><path d="M150.40,473.18L152.82,477.54L147.98,477.54Z" fill="#000"/><path d="M150.40,483.42L152.82,479.06L147.98,479.06Z" fill="#000"/><circle cx="170.60" cy="463.90" r="2.20" fill="#000"/><path d="M170.60,475.38L173.02,479.74L168.18,479.74Z" fill="#000"/><rect x="168.40" y="490.90" width="4.40" height="4.40" fill="#000"/><path d="M170.60,498.82L173.02,494.46L168.18,494.46Z" fill="#000"/><circle cx="160.70" cy="500.20" r="2.20" fill="#000"/><circle cx="180.80" cy="499.70" r="2.20" fill="#000"/><line x1="49.40" y1="404.10" x2="49.40" y2="515.75" stroke="#1a1a1a" stroke-width="1.3"/><line x1="44.40" y1="515.10" x2="49.40" y2="515.10" stroke="#1a1a1a" stroke-width="1.1700000000000002"/><text x="38.12" y="518.22" font-size="8.80" fill="#4a4a4a">0</text><line x1="44.40" y1="478.10" x2="49.40" y2="478.10" stroke="#1a1a1a" stroke-width="1.1700000000000002"/><text x="33.24" y="481.22" font-size="8.80" fill="#4a4a4a">50</text><line x1="44.40" y1="441.10" x2="49.40" y2="441.10" stroke="#1a1a1a" stroke-width="1.1700000000000002"/><text x="28.36" y="444.22" font-size="8.80" fill="#4a4a4a">100</text><line x1="44.40" y1="404.10" x2="49.40" y2="404.10" stroke="#1a1a1a" stroke-width="1.1700000000000002"/><text x="28.36" y="407.22" font-size="8.80" fill="#4a4a4a">150</text><line x1="48.75" y1="515.10" x2="195.00" y2="515.10" stroke="#1a1a1a" stroke-width="1.3"/><line x1="73.60" y1="515.10" x2="73.60" y2="519.60" stroke="#1a1a1a" stroke-width="1.1700000000000002"/><line x1="104.00" y1="515.10" x2="104.00" y2="519.60" stroke="#1a1a1a" stroke-width="1.1700000000000002"/><line x1="140.50" y1="515.10" x2="140.50" y2="519.60" stroke="#1a1a1a" stroke-width="1.1700000000000002"/><line x1="170.90" y1="515.10" x2="170.90" y2="519.60" stroke="#1a1a1a" stroke-width="1.1700000000000002"/><text x="61.53" y="528.60" font-size="7.90" fill="#1a1a1a">normal</text><text x="61.81" y="535.80" font-size="7.90" fill="#1a1a1a">gravity</text><text x="94.24" y="528.60" font-size="7.90" fill="#1a1a1a">micro</text><text x="92.21" y="535.80" font-size="7.90" fill="#1a1a1a">gravity</text><text x="128.43" y="528.60" font-size="7.90" fill="#1a1a1a">normal</text><text x="128.71" y="535.80" font-size="7.90" fill="#1a1a1a">gravity</text><text x="161.14" y="528.60" font-size="7.90" fill="#1a1a1a">micro</text><text x="159.11" y="535.80" font-size="7.90" fill="#1a1a1a">gravity</text><text x="84.37" y="547.00" font-size="7.90" fill="#1a1a1a">2h</text><text x="151.99" y="547.00" font-size="7.90" fill="#1a1a1a">4h</text><line x1="61.90" y1="552.00" x2="116.80" y2="552.00" stroke="#ababab" stroke-width="1.5"/><line x1="126.10" y1="552.00" x2="186.90" y2="552.00" stroke="#ababab" stroke-width="1.5"/><text transform="translate(22.08,497.16) rotate(-90)" x="0" y="0" font-size="10.80" fill="#1a1a1a">total motility (%)</text><text x="233.62" y="387.20" font-size="17.31" fill="#1a1a1a">D</text><line x1="316.10" y1="407.50" x2="316.10" y2="517.50" stroke="#8a8a8a" stroke-width="1.0" stroke-dasharray="1,1.4"/><rect x="256.15" y="457.75" width="23.00" height="59.75" fill="#ffffff" stroke="#7a7a7a" stroke-width="0.9"/><rect x="286.95" y="450.85" width="22.40" height="66.65" fill="#9ecaf8" stroke="#6d9ccf" stroke-width="0.9"/><rect x="322.65" y="472.45" width="22.90" height="45.05" fill="url(#hl)" stroke="#2e2e2e" stroke-width="0.9"/><rect x="352.95" y="491.75" width="23.10" height="25.75" fill="url(#ht)" stroke="#1e1e1e" stroke-width="0.9"/><line x1="267.60" y1="450.40" x2="267.60" y2="457.30" stroke="#222" stroke-width="1.0"/><line x1="267.60" y1="457.30" x2="267.60" y2="463.80" stroke="#8f8f8f" stroke-width="1.0"/><line x1="261.85" y1="450.40" x2="273.35" y2="450.40" stroke="#222" stroke-width="1.0"/><line x1="261.85" y1="463.80" x2="273.35" y2="463.80" stroke="#8f8f8f" stroke-width="1.0"/><line x1="298.20" y1="436.80" x2="298.20" y2="463.80" stroke="#222" stroke-width="1.0"/><line x1="292.45" y1="436.80" x2="303.95" y2="436.80" stroke="#222" stroke-width="1.0"/><line x1="292.45" y1="463.80" x2="303.95" y2="463.80" stroke="#222" stroke-width="1.0"/><line x1="334.00" y1="467.80" x2="334.00" y2="476.20" stroke="#222" stroke-width="1.0"/><line x1="328.25" y1="467.80" x2="339.75" y2="467.80" stroke="#222" stroke-width="1.0"/><line x1="328.25" y1="476.20" x2="339.75" y2="476.20" stroke="#222" stroke-width="1.0"/><line x1="364.50" y1="487.20" x2="364.50" y2="493.30" stroke="#222" stroke-width="1.0"/><line x1="358.75" y1="487.20" x2="370.25" y2="487.20" stroke="#222" stroke-width="1.0"/><line x1="358.75" y1="493.30" x2="370.25" y2="493.30" stroke="#222" stroke-width="1.0"/><circle cx="267.80" cy="436.80" r="2.20" fill="#fff" stroke="#000" stroke-width="1.25"/><circle cx="267.80" cy="446.80" r="2.20" fill="#000"/><rect x="265.60" y="459.00" width="4.40" height="4.40" fill="#000"/><path d="M263.00,470.08L265.42,474.44L260.58,474.44Z" fill="#000"/><rect x="270.40" y="466.20" width="4.20" height="4.20" fill="#fff" stroke="#000" stroke-width="1.2"/><rect x="291.20" y="420.20" width="4.20" height="4.20" fill="#fff" stroke="#000" stroke-width="1.2"/><circle cx="302.50" cy="425.70" r="2.20" fill="#000"/><rect x="295.50" y="438.50" width="4.40" height="4.40" fill="#000"/><circle cx="297.70" cy="469.60" r="2.20" fill="#fff" stroke="#000" stroke-width="1.25"/><path d="M297.70,490.88L300.12,495.24L295.28,495.24Z" fill="#000"/><rect x="327.30" y="462.20" width="4.40" height="4.40" fill="#000"/><circle cx="338.70" cy="464.40" r="2.20" fill="#fff" stroke="#000" stroke-width="1.25"/><circle cx="334.00" cy="475.70" r="2.20" fill="#000"/><path d="M334.00,481.18L336.42,485.54L331.58,485.54Z" fill="#000"/><rect x="362.00" y="478.70" width="4.40" height="4.40" fill="#000"/><circle cx="364.20" cy="489.30" r="2.20" fill="#000"/><path d="M359.70,495.58L362.12,499.94L357.28,499.94Z" fill="#000"/><circle cx="369.00" cy="496.20" r="2.20" fill="#fff" stroke="#000" stroke-width="1.25"/><line x1="243.60" y1="407.50" x2="243.60" y2="518.15" stroke="#1a1a1a" stroke-width="1.3"/><line x1="239.20" y1="517.50" x2="243.60" y2="517.50" stroke="#1a1a1a" stroke-width="1.1700000000000002"/><text x="232.52" y="520.70" font-size="9.00" fill="#4a4a4a">0</text><line x1="239.20" y1="495.50" x2="243.60" y2="495.50" stroke="#1a1a1a" stroke-width="1.1700000000000002"/><text x="227.52" y="498.69" font-size="9.00" fill="#4a4a4a">20</text><line x1="239.20" y1="473.50" x2="243.60" y2="473.50" stroke="#1a1a1a" stroke-width="1.1700000000000002"/><text x="227.52" y="476.69" font-size="9.00" fill="#4a4a4a">40</text><line x1="239.20" y1="451.50" x2="243.60" y2="451.50" stroke="#1a1a1a" stroke-width="1.1700000000000002"/><text x="227.52" y="454.69" font-size="9.00" fill="#4a4a4a">60</text><line x1="239.20" y1="429.50" x2="243.60" y2="429.50" stroke="#1a1a1a" stroke-width="1.1700000000000002"/><text x="227.52" y="432.69" font-size="9.00" fill="#4a4a4a">80</text><line x1="239.20" y1="407.50" x2="243.60" y2="407.50" stroke="#1a1a1a" stroke-width="1.1700000000000002"/><text x="222.53" y="410.69" font-size="9.00" fill="#4a4a4a">100</text><line x1="242.95" y1="517.50" x2="389.40" y2="517.50" stroke="#1a1a1a" stroke-width="1.3"/><line x1="267.60" y1="517.50" x2="267.60" y2="522.00" stroke="#1a1a1a" stroke-width="1.1700000000000002"/><line x1="298.20" y1="517.50" x2="298.20" y2="522.00" stroke="#1a1a1a" stroke-width="1.1700000000000002"/><line x1="334.00" y1="517.50" x2="334.00" y2="522.00" stroke="#1a1a1a" stroke-width="1.1700000000000002"/><line x1="364.50" y1="517.50" x2="364.50" y2="522.00" stroke="#1a1a1a" stroke-width="1.1700000000000002"/><text x="255.53" y="531.40" font-size="7.90" fill="#1a1a1a">normal</text><text x="255.81" y="539.00" font-size="7.90" fill="#1a1a1a">gravity</text><text x="288.44" y="531.40" font-size="7.90" fill="#1a1a1a">micro</text><text x="286.41" y="539.00" font-size="7.90" fill="#1a1a1a">gravity</text><text x="321.93" y="531.40" font-size="7.90" fill="#1a1a1a">normal</text><text x="322.21" y="539.00" font-size="7.90" fill="#1a1a1a">gravity</text><text x="354.74" y="531.40" font-size="7.90" fill="#1a1a1a">micro</text><text x="352.71" y="539.00" font-size="7.90" fill="#1a1a1a">gravity</text><text x="277.57" y="549.20" font-size="7.90" fill="#1a1a1a">2 h</text><text x="344.79" y="549.20" font-size="7.90" fill="#1a1a1a">4 h</text><line x1="256.00" y1="555.00" x2="309.80" y2="555.00" stroke="#ababab" stroke-width="1.5"/><line x1="320.30" y1="555.00" x2="380.90" y2="555.00" stroke="#ababab" stroke-width="1.5"/><text transform="translate(217.23,514.09) rotate(-90)" x="0" y="0" font-size="10.60" fill="#1a1a1a">progressive motility %</text><text x="4.99" y="573.10" font-size="17.61" fill="#1a1a1a">E</text><line x1="131.00" y1="587.50" x2="131.00" y2="698.70" stroke="#8a8a8a" stroke-width="1.0" stroke-dasharray="1,1.4"/><rect x="70.95" y="643.05" width="23.50" height="55.65" fill="#ffffff" stroke="#7a7a7a" stroke-width="0.9"/><rect x="101.45" y="632.55" width="23.10" height="66.15" fill="#9ecaf8" stroke="#6d9ccf" stroke-width="0.9"/><rect x="137.65" y="658.85" width="23.50" height="39.85" fill="url(#hl)" stroke="#2e2e2e" stroke-width="0.9"/><rect x="167.85" y="662.65" width="23.50" height="36.05" fill="url(#ht)" stroke="#1e1e1e" stroke-width="0.9"/><line x1="82.60" y1="636.50" x2="82.60" y2="642.60" stroke="#222" stroke-width="1.0"/><line x1="82.60" y1="642.60" x2="82.60" y2="647.60" stroke="#8f8f8f" stroke-width="1.0"/><line x1="76.85" y1="636.50" x2="88.35" y2="636.50" stroke="#222" stroke-width="1.0"/><line x1="76.85" y1="647.60" x2="88.35" y2="647.60" stroke="#8f8f8f" stroke-width="1.0"/><line x1="112.80" y1="627.70" x2="112.80" y2="636.50" stroke="#222" stroke-width="1.0"/><line x1="107.05" y1="627.70" x2="118.55" y2="627.70" stroke="#222" stroke-width="1.0"/><line x1="107.05" y1="636.50" x2="118.55" y2="636.50" stroke="#222" stroke-width="1.0"/><line x1="149.40" y1="652.00" x2="149.40" y2="663.60" stroke="#222" stroke-width="1.0"/><line x1="143.65" y1="652.00" x2="155.15" y2="652.00" stroke="#222" stroke-width="1.0"/><line x1="143.65" y1="663.60" x2="155.15" y2="663.60" stroke="#222" stroke-width="1.0"/><line x1="179.50" y1="657.00" x2="179.50" y2="665.00" stroke="#222" stroke-width="1.0"/><line x1="173.75" y1="657.00" x2="185.25" y2="657.00" stroke="#222" stroke-width="1.0"/><line x1="173.75" y1="665.00" x2="185.25" y2="665.00" stroke="#222" stroke-width="1.0"/><path d="M82.60,613.58L85.02,617.94L80.18,617.94Z" fill="#000"/><circle cx="82.60" cy="636.50" r="2.20" fill="#000"/><rect x="76.00" y="645.40" width="4.40" height="4.40" fill="#000"/><path d="M87.60,648.52L90.02,644.16L85.18,644.16Z" fill="#000"/><circle cx="87.60" cy="650.50" r="2.20" fill="#fff" stroke="#000" stroke-width="1.25"/><rect x="80.50" y="655.70" width="4.20" height="4.20" fill="#fff" stroke="#000" stroke-width="1.2"/><circle cx="112.40" cy="616.90" r="2.20" fill="#000"/><path d="M112.40,626.02L114.82,621.66L109.98,621.66Z" fill="#000"/><path d="M112.40,627.58L114.82,631.94L109.98,631.94Z" fill="#000"/><circle cx="112.40" cy="636.50" r="2.20" fill="#fff" stroke="#000" stroke-width="1.25"/><rect x="115.20" y="638.70" width="4.40" height="4.40" fill="#000"/><rect x="105.90" y="642.00" width="4.20" height="4.20" fill="#fff" stroke="#000" stroke-width="1.2"/><path d="M144.50,647.92L146.92,643.56L142.08,643.56Z" fill="#000"/><rect x="151.70" y="644.80" width="4.40" height="4.40" fill="#000"/><circle cx="149.50" cy="652.80" r="2.20" fill="#000"/><circle cx="149.50" cy="667.40" r="2.20" fill="#fff" stroke="#000" stroke-width="1.25"/><path d="M149.50,673.78L151.92,678.14L147.08,678.14Z" fill="#000"/><path d="M175.20,647.58L177.62,651.94L172.78,651.94Z" fill="#000"/><circle cx="184.00" cy="653.40" r="2.20" fill="#000"/><path d="M175.20,659.62L177.62,655.26L172.78,655.26Z" fill="#000"/><rect x="181.80" y="669.60" width="4.40" height="4.40" fill="#000"/><circle cx="175.20" cy="673.30" r="2.20" fill="#fff" stroke="#000" stroke-width="1.25"/><line x1="58.30" y1="587.50" x2="58.30" y2="699.35" stroke="#1a1a1a" stroke-width="1.3"/><line x1="54.00" y1="698.70" x2="58.30" y2="698.70" stroke="#1a1a1a" stroke-width="1.1700000000000002"/><text x="47.26" y="702.00" font-size="9.30" fill="#4a4a4a">0</text><line x1="54.00" y1="670.90" x2="58.30" y2="670.90" stroke="#1a1a1a" stroke-width="1.1700000000000002"/><text x="42.10" y="674.20" font-size="9.30" fill="#4a4a4a">50</text><line x1="54.00" y1="643.10" x2="58.30" y2="643.10" stroke="#1a1a1a" stroke-width="1.1700000000000002"/><text x="36.94" y="646.40" font-size="9.30" fill="#4a4a4a">100</text><line x1="54.00" y1="615.30" x2="58.30" y2="615.30" stroke="#1a1a1a" stroke-width="1.1700000000000002"/><text x="36.94" y="618.60" font-size="9.30" fill="#4a4a4a">150</text><line x1="54.00" y1="587.50" x2="58.30" y2="587.50" stroke="#1a1a1a" stroke-width="1.1700000000000002"/><text x="36.94" y="590.80" font-size="9.30" fill="#4a4a4a">200</text><line x1="57.65" y1="698.70" x2="204.60" y2="698.70" stroke="#1a1a1a" stroke-width="1.3"/><line x1="82.40" y1="698.70" x2="82.40" y2="703.20" stroke="#1a1a1a" stroke-width="1.1700000000000002"/><line x1="112.80" y1="698.70" x2="112.80" y2="703.20" stroke="#1a1a1a" stroke-width="1.1700000000000002"/><line x1="148.80" y1="698.70" x2="148.80" y2="703.20" stroke="#1a1a1a" stroke-width="1.1700000000000002"/><line x1="179.30" y1="698.70" x2="179.30" y2="703.20" stroke="#1a1a1a" stroke-width="1.1700000000000002"/><text x="70.18" y="711.50" font-size="8.00" fill="#1a1a1a">normal</text><text x="70.46" y="719.20" font-size="8.00" fill="#1a1a1a">gravity</text><text x="102.92" y="711.50" font-size="8.00" fill="#1a1a1a">micro</text><text x="100.86" y="719.20" font-size="8.00" fill="#1a1a1a">gravity</text><text x="136.58" y="711.50" font-size="8.00" fill="#1a1a1a">normal</text><text x="136.86" y="719.20" font-size="8.00" fill="#1a1a1a">gravity</text><text x="169.42" y="711.50" font-size="8.00" fill="#1a1a1a">micro</text><text x="167.36" y="719.20" font-size="8.00" fill="#1a1a1a">gravity</text><text x="90.40" y="731.00" font-size="8.00" fill="#1a1a1a">2 h</text><text x="160.12" y="731.00" font-size="8.00" fill="#1a1a1a">4 h</text><line x1="69.20" y1="735.60" x2="124.00" y2="735.60" stroke="#ababab" stroke-width="1.5"/><line x1="135.30" y1="735.60" x2="196.00" y2="735.60" stroke="#ababab" stroke-width="1.5"/><text transform="translate(18.98,670.73) rotate(-90)" x="0" y="0" font-size="10.84" fill="#1a1a1a">curve linear</text><text transform="translate(30.77,677.40) rotate(-90)" x="0" y="0" font-size="10.77" fill="#1a1a1a">velocity (µm/s)</text><text x="233.21" y="578.90" font-size="18.57" fill="#1a1a1a">F</text><line x1="320.70" y1="591.90" x2="320.70" y2="703.10" stroke="#8a8a8a" stroke-width="1.0" stroke-dasharray="1,1.4"/><rect x="259.55" y="635.95" width="23.80" height="67.15" fill="#ffffff" stroke="#7a7a7a" stroke-width="0.9"/><rect x="290.65" y="626.45" width="23.50" height="76.65" fill="#9ecaf8" stroke="#6d9ccf" stroke-width="0.9"/><rect x="327.25" y="649.25" width="23.50" height="53.85" fill="url(#hl)" stroke="#2e2e2e" stroke-width="0.9"/><rect x="358.05" y="658.95" width="23.20" height="44.15" fill="url(#ht)" stroke="#1e1e1e" stroke-width="0.9"/><line x1="271.40" y1="631.60" x2="271.40" y2="635.50" stroke="#222" stroke-width="1.0"/><line x1="271.40" y1="635.50" x2="271.40" y2="639.60" stroke="#8f8f8f" stroke-width="1.0"/><line x1="265.65" y1="631.60" x2="277.15" y2="631.60" stroke="#222" stroke-width="1.0"/><line x1="265.65" y1="639.60" x2="277.15" y2="639.60" stroke="#8f8f8f" stroke-width="1.0"/><line x1="302.40" y1="620.50" x2="302.40" y2="631.60" stroke="#222" stroke-width="1.0"/><line x1="296.65" y1="620.50" x2="308.15" y2="620.50" stroke="#222" stroke-width="1.0"/><line x1="296.65" y1="631.60" x2="308.15" y2="631.60" stroke="#222" stroke-width="1.0"/><line x1="339.00" y1="640.40" x2="339.00" y2="656.50" stroke="#222" stroke-width="1.0"/><line x1="333.25" y1="640.40" x2="344.75" y2="640.40" stroke="#222" stroke-width="1.0"/><line x1="333.25" y1="656.50" x2="344.75" y2="656.50" stroke="#222" stroke-width="1.0"/><line x1="369.70" y1="650.20" x2="369.70" y2="667.60" stroke="#222" stroke-width="1.0"/><line x1="363.95" y1="650.20" x2="375.45" y2="650.20" stroke="#222" stroke-width="1.0"/><line x1="363.95" y1="667.60" x2="375.45" y2="667.60" stroke="#222" stroke-width="1.0"/><path d="M267.40,626.82L269.82,622.46L264.98,622.46Z" fill="#000"/><circle cx="276.30" cy="622.40" r="2.20" fill="#000"/><rect x="274.10" y="632.10" width="4.40" height="4.40" fill="#000"/><circle cx="267.40" cy="638.20" r="2.20" fill="#fff" stroke="#000" stroke-width="1.25"/><rect x="265.30" y="644.70" width="4.20" height="4.20" fill="#fff" stroke="#000" stroke-width="1.2"/><path d="M276.30,644.38L278.72,648.74L273.88,648.74Z" fill="#000"/><circle cx="297.60" cy="614.90" r="2.20" fill="#000"/><path d="M306.80,610.28L309.22,614.64L304.38,614.64Z" fill="#000"/><rect x="295.40" y="622.20" width="4.40" height="4.40" fill="#000"/><circle cx="306.80" cy="621.60" r="2.20" fill="#fff" stroke="#000" stroke-width="1.25"/><rect x="300.50" y="625.90" width="4.20" height="4.20" fill="#fff" stroke="#000" stroke-width="1.2"/><path d="M302.60,655.32L305.02,650.96L300.18,650.96Z" fill="#000"/><path d="M338.70,628.12L341.12,623.76L336.28,623.76Z" fill="#000"/><rect x="341.20" y="637.40" width="4.40" height="4.40" fill="#000"/><circle cx="334.00" cy="643.20" r="2.20" fill="#000"/><circle cx="338.70" cy="662.10" r="2.20" fill="#fff" stroke="#000" stroke-width="1.25"/><path d="M338.70,668.58L341.12,672.94L336.28,672.94Z" fill="#000"/><path d="M365.00,636.58L367.42,640.94L362.58,640.94Z" fill="#000"/><circle cx="374.20" cy="641.30" r="2.20" fill="#000"/><rect x="362.80" y="661.80" width="4.40" height="4.40" fill="#000"/><circle cx="374.20" cy="665.40" r="2.20" fill="#fff" stroke="#000" stroke-width="1.25"/><path d="M369.80,683.12L372.22,678.76L367.38,678.76Z" fill="#000"/><line x1="247.30" y1="591.90" x2="247.30" y2="703.75" stroke="#1a1a1a" stroke-width="1.3"/><line x1="243.00" y1="703.10" x2="247.30" y2="703.10" stroke="#1a1a1a" stroke-width="1.1700000000000002"/><text x="236.32" y="706.37" font-size="9.20" fill="#4a4a4a">0</text><line x1="243.00" y1="675.30" x2="247.30" y2="675.30" stroke="#1a1a1a" stroke-width="1.1700000000000002"/><text x="236.45" y="678.57" font-size="9.20" fill="#4a4a4a">2</text><line x1="243.00" y1="647.50" x2="247.30" y2="647.50" stroke="#1a1a1a" stroke-width="1.1700000000000002"/><text x="236.27" y="650.77" font-size="9.20" fill="#4a4a4a">4</text><line x1="243.00" y1="619.70" x2="247.30" y2="619.70" stroke="#1a1a1a" stroke-width="1.1700000000000002"/><text x="236.36" y="622.97" font-size="9.20" fill="#4a4a4a">6</text><line x1="243.00" y1="591.90" x2="247.30" y2="591.90" stroke="#1a1a1a" stroke-width="1.1700000000000002"/><text x="236.36" y="595.17" font-size="9.20" fill="#4a4a4a">8</text><line x1="246.65" y1="703.10" x2="390.00" y2="703.10" stroke="#1a1a1a" stroke-width="1.3"/><line x1="271.40" y1="703.10" x2="271.40" y2="707.60" stroke="#1a1a1a" stroke-width="1.1700000000000002"/><line x1="302.40" y1="703.10" x2="302.40" y2="707.60" stroke="#1a1a1a" stroke-width="1.1700000000000002"/><line x1="339.00" y1="703.10" x2="339.00" y2="707.60" stroke="#1a1a1a" stroke-width="1.1700000000000002"/><line x1="369.70" y1="703.10" x2="369.70" y2="707.60" stroke="#1a1a1a" stroke-width="1.1700000000000002"/><text x="259.03" y="716.70" font-size="8.10" fill="#1a1a1a">normal</text><text x="259.31" y="724.30" font-size="8.10" fill="#1a1a1a">gravity</text><text x="292.40" y="716.70" font-size="8.10" fill="#1a1a1a">micro</text><text x="290.31" y="724.30" font-size="8.10" fill="#1a1a1a">gravity</text><text x="326.63" y="716.70" font-size="8.10" fill="#1a1a1a">normal</text><text x="326.91" y="724.30" font-size="8.10" fill="#1a1a1a">gravity</text><text x="359.70" y="716.70" font-size="8.10" fill="#1a1a1a">micro</text><text x="357.61" y="724.30" font-size="8.10" fill="#1a1a1a">gravity</text><text x="279.73" y="736.10" font-size="8.10" fill="#1a1a1a">2 h</text><text x="349.55" y="736.10" font-size="8.10" fill="#1a1a1a">4 h</text><line x1="258.30" y1="740.90" x2="313.20" y2="740.90" stroke="#ababab" stroke-width="1.5"/><line x1="324.30" y1="740.90" x2="385.30" y2="740.90" stroke="#ababab" stroke-width="1.5"/><text transform="translate(218.59,675.82) rotate(-90)" x="0" y="0" font-size="11.15" fill="#1a1a1a">lateral head</text><text transform="translate(230.50,696.39) rotate(-90)" x="0" y="0" font-size="10.89" fill="#1a1a1a">displacement (µm/s)</text><line x1="334.50" y1="439.40" x2="364.20" y2="439.40" stroke="#222" stroke-width="1.0"/><line x1="345.60" y1="432.60" x2="345.60" y2="437.00" stroke="#111" stroke-width="1.1"/><line x1="343.69" y1="433.70" x2="347.51" y2="435.90" stroke="#111" stroke-width="1.1"/><line x1="347.51" y1="433.70" x2="343.69" y2="435.90" stroke="#111" stroke-width="1.1"/><line x1="352.40" y1="432.60" x2="352.40" y2="437.00" stroke="#111" stroke-width="1.1"/><line x1="350.49" y1="433.70" x2="354.31" y2="435.90" stroke="#111" stroke-width="1.1"/><line x1="354.31" y1="433.70" x2="350.49" y2="435.90" stroke="#111" stroke-width="1.1"/><text x="387.46" y="195.80" font-size="16.79" fill="#1a1a1a">G</text><rect x="456.05" y="261.15" width="24.60" height="68.85" fill="#ffffff" stroke="#333" stroke-width="1.1"/><rect x="495.05" y="263.75" width="24.90" height="66.25" fill="#56e088" stroke="#2a2a2a" stroke-width="1.1"/><line x1="468.40" y1="252.30" x2="468.40" y2="260.60" stroke="#222" stroke-width="1.1"/><line x1="468.40" y1="260.60" x2="468.40" y2="268.20" stroke="#8f8f8f" stroke-width="1.1"/><line x1="462.15" y1="252.30" x2="474.65" y2="252.30" stroke="#222" stroke-width="1.1"/><line x1="462.15" y1="268.20" x2="474.65" y2="268.20" stroke="#8f8f8f" stroke-width="1.1"/><line x1="507.50" y1="256.20" x2="507.50" y2="269.80" stroke="#222" stroke-width="1.1"/><line x1="501.25" y1="256.20" x2="513.75" y2="256.20" stroke="#222" stroke-width="1.1"/><line x1="501.25" y1="269.80" x2="513.75" y2="269.80" stroke="#222" stroke-width="1.1"/><circle cx="468.20" cy="229.30" r="2.30" fill="#fff" stroke="#000" stroke-width="1.25"/><rect x="465.90" y="247.70" width="4.60" height="4.60" fill="#000"/><circle cx="468.20" cy="258.40" r="2.30" fill="#000"/><rect x="466.00" y="263.20" width="4.40" height="4.40" fill="#fff" stroke="#000" stroke-width="1.2"/><path d="M464.30,277.07L466.83,281.62L461.77,281.62Z" fill="#000"/><path d="M472.60,277.30L474.90,281.33L470.30,281.33Z" fill="#fff" stroke="#000" stroke-width="1.1" stroke-linejoin="miter"/><circle cx="507.40" cy="244.80" r="2.30" fill="#fff" stroke="#000" stroke-width="1.25"/><circle cx="515.80" cy="243.10" r="2.30" fill="#000"/><path d="M499.30,266.40L501.60,270.43L497.00,270.43Z" fill="#fff" stroke="#000" stroke-width="1.1" stroke-linejoin="miter"/><path d="M507.40,266.17L509.93,270.72L504.87,270.72Z" fill="#000"/><rect x="513.50" y="266.40" width="4.60" height="4.60" fill="#000"/><rect x="505.20" y="282.90" width="4.40" height="4.40" fill="#fff" stroke="#000" stroke-width="1.2"/><line x1="442.40" y1="194.00" x2="442.40" y2="330.75" stroke="#1a1a1a" stroke-width="1.5"/><line x1="436.60" y1="330.00" x2="442.40" y2="330.00" stroke="#1a1a1a" stroke-width="1.35"/><text x="429.64" y="333.73" font-size="10.50" fill="#1e1e1e">0</text><line x1="436.60" y1="296.00" x2="442.40" y2="296.00" stroke="#1a1a1a" stroke-width="1.35"/><text x="423.81" y="299.73" font-size="10.50" fill="#1e1e1e">20</text><line x1="436.60" y1="262.00" x2="442.40" y2="262.00" stroke="#1a1a1a" stroke-width="1.35"/><text x="423.81" y="265.73" font-size="10.50" fill="#1e1e1e">40</text><line x1="436.60" y1="228.00" x2="442.40" y2="228.00" stroke="#1a1a1a" stroke-width="1.35"/><text x="423.81" y="231.73" font-size="10.50" fill="#1e1e1e">60</text><line x1="436.60" y1="194.00" x2="442.40" y2="194.00" stroke="#1a1a1a" stroke-width="1.35"/><text x="423.81" y="197.73" font-size="10.50" fill="#1e1e1e">80</text><line x1="441.65" y1="330.00" x2="534.50" y2="330.00" stroke="#1a1a1a" stroke-width="1.5"/><line x1="468.50" y1="330.00" x2="468.50" y2="335.40" stroke="#1a1a1a" stroke-width="1.35"/><line x1="507.60" y1="330.00" x2="507.60" y2="335.40" stroke="#1a1a1a" stroke-width="1.35"/><text x="453.84" y="345.80" font-size="9.60" fill="#333">normal</text><text x="454.17" y="354.40" font-size="9.60" fill="#333">gravity</text><text x="495.74" y="345.80" font-size="9.60" fill="#333">micro</text><text x="493.27" y="354.40" font-size="9.60" fill="#333">gravity</text><text transform="translate(417.41,309.40) rotate(-90)" x="0" y="0" font-size="13.25" fill="#1a1a1a">total motility (%)</text><text x="530.94" y="194.00" font-size="16.96" fill="#1a1a1a">H</text><rect x="603.45" y="269.45" width="25.60" height="61.05" fill="#ffffff" stroke="#333" stroke-width="1.1"/><rect x="643.65" y="283.75" width="24.30" height="46.75" fill="#56e088" stroke="#2a2a2a" stroke-width="1.1"/><line x1="616.30" y1="251.30" x2="616.30" y2="268.90" stroke="#222" stroke-width="1.1"/><line x1="616.30" y1="268.90" x2="616.30" y2="285.90" stroke="#8f8f8f" stroke-width="1.1"/><line x1="610.05" y1="251.30" x2="622.55" y2="251.30" stroke="#222" stroke-width="1.1"/><line x1="610.05" y1="285.90" x2="622.55" y2="285.90" stroke="#8f8f8f" stroke-width="1.1"/><line x1="655.80" y1="275.00" x2="655.80" y2="291.30" stroke="#222" stroke-width="1.1"/><line x1="649.55" y1="275.00" x2="662.05" y2="275.00" stroke="#222" stroke-width="1.1"/><line x1="649.55" y1="291.30" x2="662.05" y2="291.30" stroke="#222" stroke-width="1.1"/><circle cx="616.40" cy="206.70" r="2.30" fill="#fff" stroke="#000" stroke-width="1.25"/><rect x="614.10" y="221.40" width="4.60" height="4.60" fill="#000"/><circle cx="616.40" cy="280.70" r="2.30" fill="#000"/><rect x="614.20" y="283.70" width="4.40" height="4.40" fill="#fff" stroke="#000" stroke-width="1.2"/><path d="M616.40,294.20L618.70,298.23L614.10,298.23Z" fill="#fff" stroke="#000" stroke-width="1.1" stroke-linejoin="miter"/><path d="M616.40,315.97L618.93,320.52L613.87,320.52Z" fill="#000"/><rect x="653.50" y="251.70" width="4.60" height="4.60" fill="#000"/><circle cx="655.80" cy="269.40" r="2.30" fill="#fff" stroke="#000" stroke-width="1.25"/><circle cx="655.80" cy="276.90" r="2.30" fill="#000"/><rect x="653.60" y="287.60" width="4.40" height="4.40" fill="#fff" stroke="#000" stroke-width="1.2"/><path d="M655.80,299.67L658.33,304.22L653.27,304.22Z" fill="#000"/><path d="M655.80,305.60L658.10,309.62L653.50,309.62Z" fill="#fff" stroke="#000" stroke-width="1.1" stroke-linejoin="miter"/><line x1="590.60" y1="194.50" x2="590.60" y2="331.25" stroke="#1a1a1a" stroke-width="1.5"/><line x1="584.80" y1="330.50" x2="590.60" y2="330.50" stroke="#1a1a1a" stroke-width="1.35"/><text x="576.90" y="334.12" font-size="10.20" fill="#1e1e1e">0</text><line x1="584.80" y1="296.50" x2="590.60" y2="296.50" stroke="#1a1a1a" stroke-width="1.35"/><text x="571.24" y="300.12" font-size="10.20" fill="#1e1e1e">10</text><line x1="584.80" y1="262.50" x2="590.60" y2="262.50" stroke="#1a1a1a" stroke-width="1.35"/><text x="571.24" y="266.12" font-size="10.20" fill="#1e1e1e">20</text><line x1="584.80" y1="228.50" x2="590.60" y2="228.50" stroke="#1a1a1a" stroke-width="1.35"/><text x="571.24" y="232.12" font-size="10.20" fill="#1e1e1e">30</text><line x1="584.80" y1="194.50" x2="590.60" y2="194.50" stroke="#1a1a1a" stroke-width="1.35"/><text x="571.24" y="198.12" font-size="10.20" fill="#1e1e1e">40</text><line x1="589.85" y1="330.50" x2="680.50" y2="330.50" stroke="#1a1a1a" stroke-width="1.5"/><line x1="616.40" y1="330.50" x2="616.40" y2="335.90" stroke="#1a1a1a" stroke-width="1.35"/><line x1="655.80" y1="330.50" x2="655.80" y2="335.90" stroke="#1a1a1a" stroke-width="1.35"/><text x="601.58" y="345.50" font-size="9.70" fill="#333">normal</text><text x="601.92" y="355.00" font-size="9.70" fill="#333">gravity</text><text x="643.82" y="345.50" font-size="9.70" fill="#333">micro</text><text x="641.32" y="355.00" font-size="9.70" fill="#333">gravity</text><text transform="translate(565.11,331.36) rotate(-90)" x="0" y="0" font-size="13.23" fill="#1a1a1a">progressive motility (%)</text><text x="386.78" y="385.30" font-size="16.84" fill="#1a1a1a">I</text><rect x="456.05" y="449.85" width="24.60" height="72.75" fill="#ffffff" stroke="#333" stroke-width="1.1"/><rect x="495.05" y="457.65" width="24.90" height="64.95" fill="#56e088" stroke="#2a2a2a" stroke-width="1.1"/><line x1="468.40" y1="436.10" x2="468.40" y2="449.30" stroke="#222" stroke-width="1.1"/><line x1="468.40" y1="449.30" x2="468.40" y2="461.30" stroke="#8f8f8f" stroke-width="1.1"/><line x1="462.15" y1="436.10" x2="474.65" y2="436.10" stroke="#222" stroke-width="1.1"/><line x1="462.15" y1="461.30" x2="474.65" y2="461.30" stroke="#8f8f8f" stroke-width="1.1"/><line x1="507.50" y1="451.50" x2="507.50" y2="463.50" stroke="#222" stroke-width="1.1"/><line x1="501.25" y1="451.50" x2="513.75" y2="451.50" stroke="#222" stroke-width="1.1"/><line x1="501.25" y1="463.50" x2="513.75" y2="463.50" stroke="#222" stroke-width="1.1"/><rect x="465.80" y="395.20" width="4.40" height="4.40" fill="#fff" stroke="#000" stroke-width="1.2"/><circle cx="468.00" cy="440.70" r="2.30" fill="#fff" stroke="#000" stroke-width="1.25"/><circle cx="472.40" cy="446.20" r="2.30" fill="#000"/><rect x="461.30" y="446.50" width="4.60" height="4.60" fill="#000"/><path d="M468.00,474.30L470.30,478.33L465.70,478.33Z" fill="#fff" stroke="#000" stroke-width="1.1" stroke-linejoin="miter"/><path d="M468.00,481.37L470.53,485.92L465.47,485.92Z" fill="#000"/><circle cx="503.00" cy="442.90" r="2.30" fill="#fff" stroke="#000" stroke-width="1.25"/><rect x="509.10" y="440.60" width="4.60" height="4.60" fill="#000"/><circle cx="507.40" cy="451.00" r="2.30" fill="#000"/><rect x="505.20" y="456.50" width="4.40" height="4.40" fill="#fff" stroke="#000" stroke-width="1.2"/><path d="M503.00,472.97L505.53,477.52L500.47,477.52Z" fill="#000"/><path d="M511.40,470.60L513.70,474.62L509.10,474.62Z" fill="#fff" stroke="#000" stroke-width="1.1" stroke-linejoin="miter"/><line x1="442.40" y1="387.50" x2="442.40" y2="523.35" stroke="#1a1a1a" stroke-width="1.5"/><line x1="436.60" y1="522.60" x2="442.40" y2="522.60" stroke="#1a1a1a" stroke-width="1.35"/><text x="429.64" y="526.33" font-size="10.50" fill="#1e1e1e">0</text><line x1="436.60" y1="477.57" x2="442.40" y2="477.57" stroke="#1a1a1a" stroke-width="1.35"/><text x="423.81" y="481.29" font-size="10.50" fill="#1e1e1e">20</text><line x1="436.60" y1="432.53" x2="442.40" y2="432.53" stroke="#1a1a1a" stroke-width="1.35"/><text x="423.81" y="436.26" font-size="10.50" fill="#1e1e1e">40</text><line x1="436.60" y1="387.50" x2="442.40" y2="387.50" stroke="#1a1a1a" stroke-width="1.35"/><text x="423.81" y="391.23" font-size="10.50" fill="#1e1e1e">60</text><line x1="441.65" y1="522.60" x2="534.50" y2="522.60" stroke="#1a1a1a" stroke-width="1.5"/><line x1="468.50" y1="522.60" x2="468.50" y2="528.00" stroke="#1a1a1a" stroke-width="1.35"/><line x1="507.60" y1="522.60" x2="507.60" y2="528.00" stroke="#1a1a1a" stroke-width="1.35"/><text x="453.84" y="538.00" font-size="9.60" fill="#333">normal</text><text x="454.17" y="547.40" font-size="9.60" fill="#333">gravity</text><text x="495.74" y="538.00" font-size="9.60" fill="#333">micro</text><text x="493.27" y="547.40" font-size="9.60" fill="#333">gravity</text><text transform="translate(401.04,489.83) rotate(-90)" x="0" y="0" font-size="13.27" fill="#1a1a1a">curve linear</text><text transform="translate(416.15,497.07) rotate(-90)" x="0" y="0" font-size="13.01" fill="#1a1a1a">velocity (µm/s)</text><text x="532.45" y="385.80" font-size="16.59" fill="#1a1a1a">J</text><rect x="604.75" y="453.85" width="24.30" height="70.05" fill="#ffffff" stroke="#333" stroke-width="1.1"/><rect x="643.65" y="452.05" width="24.30" height="71.85" fill="#56e088" stroke="#2a2a2a" stroke-width="1.1"/><line x1="616.90" y1="444.20" x2="616.90" y2="453.30" stroke="#222" stroke-width="1.1"/><line x1="616.90" y1="453.30" x2="616.90" y2="461.20" stroke="#8f8f8f" stroke-width="1.1"/><line x1="610.65" y1="444.20" x2="623.15" y2="444.20" stroke="#222" stroke-width="1.1"/><line x1="610.65" y1="461.20" x2="623.15" y2="461.20" stroke="#8f8f8f" stroke-width="1.1"/><line x1="655.80" y1="446.90" x2="655.80" y2="455.50" stroke="#222" stroke-width="1.1"/><line x1="649.55" y1="446.90" x2="662.05" y2="446.90" stroke="#222" stroke-width="1.1"/><line x1="649.55" y1="455.50" x2="662.05" y2="455.50" stroke="#222" stroke-width="1.1"/><rect x="614.90" y="413.10" width="4.40" height="4.40" fill="#fff" stroke="#000" stroke-width="1.2"/><circle cx="617.10" cy="445.80" r="2.30" fill="#000"/><circle cx="617.10" cy="452.60" r="2.30" fill="#fff" stroke="#000" stroke-width="1.25"/><rect x="614.80" y="459.30" width="4.60" height="4.60" fill="#000"/><path d="M617.10,465.00L619.40,469.03L614.80,469.03Z" fill="#fff" stroke="#000" stroke-width="1.1" stroke-linejoin="miter"/><path d="M617.10,471.97L619.63,476.52L614.57,476.52Z" fill="#000"/><circle cx="656.00" cy="437.20" r="2.30" fill="#fff" stroke="#000" stroke-width="1.25"/><circle cx="656.00" cy="442.90" r="2.30" fill="#000"/><rect x="653.70" y="446.90" width="4.60" height="4.60" fill="#000"/><rect x="650.00" y="453.30" width="4.40" height="4.40" fill="#fff" stroke="#000" stroke-width="1.2"/><path d="M660.10,455.50L662.40,459.53L657.80,459.53Z" fill="#fff" stroke="#000" stroke-width="1.1" stroke-linejoin="miter"/><path d="M656.00,460.27L658.53,464.82L653.47,464.82Z" fill="#000"/><line x1="591.10" y1="389.20" x2="591.10" y2="524.65" stroke="#1a1a1a" stroke-width="1.5"/><line x1="585.30" y1="523.90" x2="591.10" y2="523.90" stroke="#1a1a1a" stroke-width="1.35"/><text x="577.40" y="527.52" font-size="10.20" fill="#1e1e1e">0</text><line x1="585.30" y1="479.00" x2="591.10" y2="479.00" stroke="#1a1a1a" stroke-width="1.35"/><text x="577.50" y="482.62" font-size="10.20" fill="#1e1e1e">1</text><line x1="585.30" y1="434.10" x2="591.10" y2="434.10" stroke="#1a1a1a" stroke-width="1.35"/><text x="577.55" y="437.72" font-size="10.20" fill="#1e1e1e">2</text><line x1="585.30" y1="389.20" x2="591.10" y2="389.20" stroke="#1a1a1a" stroke-width="1.35"/><text x="577.45" y="392.82" font-size="10.20" fill="#1e1e1e">3</text><line x1="590.35" y1="523.90" x2="681.00" y2="523.90" stroke="#1a1a1a" stroke-width="1.5"/><line x1="616.90" y1="523.90" x2="616.90" y2="529.30" stroke="#1a1a1a" stroke-width="1.35"/><line x1="655.80" y1="523.90" x2="655.80" y2="529.30" stroke="#1a1a1a" stroke-width="1.35"/><text x="602.08" y="539.00" font-size="9.70" fill="#333">normal</text><text x="602.42" y="548.50" font-size="9.70" fill="#333">gravity</text><text x="643.82" y="539.00" font-size="9.70" fill="#333">micro</text><text x="641.32" y="548.50" font-size="9.70" fill="#333">gravity</text><text transform="translate(556.49,490.85) rotate(-90)" x="0" y="0" font-size="13.11" fill="#1a1a1a">lateral head</text><text transform="translate(571.03,515.32) rotate(-90)" x="0" y="0" font-size="12.94" fill="#1a1a1a">displacement (µm/s)</text><rect x="554.60" y="815.80" width="23.40" height="41.10" fill="#f8fde4" stroke="#4a4a4a" stroke-width="1.0"/><rect x="554.60" y="733.60" width="23.40" height="82.20" fill="#d4fdee" stroke="#4a4a4a" stroke-width="1.0"/><rect x="590.40" y="774.70" width="23.20" height="82.20" fill="#fff" stroke="#4a4a4a" stroke-width="1.0"/><rect x="590.40" y="733.60" width="23.20" height="41.10" fill="#f8fde4" stroke="#4a4a4a" stroke-width="1.0"/><line x1="542.00" y1="733.60" x2="542.00" y2="857.60" stroke="#1a1a1a" stroke-width="1.4"/><line x1="537.20" y1="856.90" x2="542.00" y2="856.90" stroke="#1a1a1a" stroke-width="1.26"/><text x="530.72" y="860.17" font-size="9.20" fill="#3a3a3a">0</text><line x1="537.20" y1="826.07" x2="542.00" y2="826.07" stroke="#1a1a1a" stroke-width="1.26"/><text x="525.66" y="829.34" font-size="9.20" fill="#3a3a3a">25</text><line x1="537.20" y1="795.25" x2="542.00" y2="795.25" stroke="#1a1a1a" stroke-width="1.26"/><text x="525.61" y="798.52" font-size="9.20" fill="#3a3a3a">50</text><line x1="537.20" y1="764.42" x2="542.00" y2="764.42" stroke="#1a1a1a" stroke-width="1.26"/><text x="525.66" y="767.69" font-size="9.20" fill="#3a3a3a">75</text><line x1="537.20" y1="733.60" x2="542.00" y2="733.60" stroke="#1a1a1a" stroke-width="1.26"/><text x="520.50" y="736.87" font-size="9.20" fill="#3a3a3a">100</text><line x1="541.30" y1="856.90" x2="626.90" y2="856.90" stroke="#1a1a1a" stroke-width="1.4"/><line x1="566.30" y1="856.90" x2="566.30" y2="861.90" stroke="#1a1a1a" stroke-width="1.26"/><line x1="602.00" y1="856.90" x2="602.00" y2="861.90" stroke="#1a1a1a" stroke-width="1.26"/><text x="552.09" y="871.60" font-size="9.30" fill="#333">normal</text><text x="552.42" y="879.80" font-size="9.30" fill="#333">gravity</text><text x="590.51" y="871.60" font-size="9.30" fill="#333">micro</text><text x="588.12" y="879.80" font-size="9.30" fill="#333">gravity</text><text transform="translate(514.38,847.31) rotate(-90)" x="0" y="0" font-size="11.95" fill="#1a1a1a">sperm agglutination</text><rect x="618.6" y="744.80" width="12.6" height="5.50" rx="0.7" fill="#d4fdee" stroke="#555" stroke-width="1.1"/><text x="638.06" y="750.70" font-size="10.50" fill="#2a2a2a">high</text><rect x="618.6" y="761.80" width="12.6" height="5.30" rx="0.7" fill="#f8fde4" stroke="#555" stroke-width="1.1"/><text x="638.12" y="767.30" font-size="10.50" fill="#2a2a2a">medium</text><rect x="618.6" y="777.80" width="12.6" height="5.40" rx="0.7" fill="#fff" stroke="#555" stroke-width="1.1"/><text x="638.12" y="783.50" font-size="10.50" fill="#2a2a2a">low</text><text x="387.61" y="578.40" font-size="16.17" fill="#1a1a1a">K</text><text x="469.93" y="586.80" font-size="10.30" fill="#222">normal gravity</text><text x="585.93" y="586.80" font-size="10.35" fill="#222">micro gravity</text><rect x="449.6" y="591.5" width="107.60" height="52.90" fill="url(#kg1)"/><rect x="449.6" y="591.5" width="107.60" height="1.6" fill="#cbb99a" opacity="0.8"/><line x1="449.60" y1="597.80" x2="557.20" y2="597.30" stroke="#8f8270" stroke-width="0.6"/><rect x="449.6" y="640.80" width="107.60" height="3.6" fill="#e4d6bb"/><line x1="449.60" y1="640.80" x2="557.20" y2="641.20" stroke="#7b705f" stroke-width="0.7"/><ellipse cx="465.2" cy="633.0" rx="0.85" ry="0.66" fill="#8d6f50" opacity="0.28"/><ellipse cx="502.9" cy="617.5" rx="0.79" ry="0.61" fill="#8d6f50" opacity="0.40"/><ellipse cx="460.9" cy="601.1" rx="0.89" ry="0.68" fill="#8d6f50" opacity="0.32"/><ellipse cx="530.8" cy="600.1" rx="0.69" ry="0.53" fill="#8d6f50" opacity="0.39"/><ellipse cx="475.0" cy="636.8" rx="0.92" ry="0.71" fill="#8d6f50" opacity="0.23"/><ellipse cx="453.8" cy="621.1" rx="0.94" ry="0.73" fill="#8d6f50" opacity="0.31"/><ellipse cx="473.8" cy="616.4" rx="0.47" ry="0.36" fill="#8d6f50" opacity="0.27"/><ellipse cx="496.9" cy="619.3" rx="0.58" ry="0.44" fill="#8d6f50" opacity="0.27"/><ellipse cx="474.0" cy="617.9" rx="0.61" ry="0.47" fill="#8d6f50" opacity="0.22"/><ellipse cx="538.7" cy="621.6" rx="0.79" ry="0.61" fill="#8d6f50" opacity="0.26"/><ellipse cx="554.9" cy="633.5" rx="0.52" ry="0.40" fill="#8d6f50" opacity="0.30"/><ellipse cx="526.6" cy="627.7" rx="0.94" ry="0.72" fill="#8d6f50" opacity="0.32"/><ellipse cx="537.9" cy="626.1" rx="0.61" ry="0.47" fill="#8d6f50" opacity="0.36"/><ellipse cx="543.4" cy="632.9" rx="0.72" ry="0.55" fill="#8d6f50" opacity="0.36"/><ellipse cx="454.7" cy="609.4" rx="0.87" ry="0.67" fill="#8d6f50" opacity="0.32"/><ellipse cx="469.2" cy="621.3" rx="0.82" ry="0.63" fill="#8d6f50" opacity="0.38"/><ellipse cx="490.3" cy="617.1" rx="0.72" ry="0.55" fill="#8d6f50" opacity="0.40"/><ellipse cx="505.6" cy="615.3" rx="0.71" ry="0.55" fill="#8d6f50" opacity="0.23"/><ellipse cx="455.6" cy="627.4" rx="0.97" ry="0.74" fill="#8d6f50" opacity="0.36"/><ellipse cx="492.3" cy="606.6" rx="0.72" ry="0.55" fill="#8d6f50" opacity="0.45"/><ellipse cx="531.7" cy="621.0" rx="0.90" ry="0.69" fill="#8d6f50" opacity="0.27"/><ellipse cx="504.8" cy="637.1" rx="0.76" ry="0.58" fill="#8d6f50" opacity="0.33"/><ellipse cx="479.3" cy="621.3" rx="0.95" ry="0.73" fill="#8d6f50" opacity="0.22"/><ellipse cx="533.1" cy="631.9" rx="0.92" ry="0.70" fill="#8d6f50" opacity="0.39"/><ellipse cx="535.7" cy="620.2" rx="0.75" ry="0.57" fill="#8d6f50" opacity="0.32"/><ellipse cx="457.0" cy="633.8" rx="0.75" ry="0.58" fill="#8d6f50" opacity="0.27"/><ellipse cx="503.9" cy="618.9" rx="0.64" ry="0.49" fill="#8d6f50" opacity="0.30"/><ellipse cx="507.4" cy="624.3" rx="0.77" ry="0.59" fill="#8d6f50" opacity="0.33"/><ellipse cx="454.0" cy="608.9" rx="0.55" ry="0.42" fill="#8d6f50" opacity="0.35"/><ellipse cx="541.2" cy="631.1" rx="0.87" ry="0.67" fill="#8d6f50" opacity="0.41"/><ellipse cx="477.8" cy="632.7" rx="0.81" ry="0.62" fill="#8d6f50" opacity="0.24"/><ellipse cx="452.8" cy="600.6" rx="0.85" ry="0.65" fill="#8d6f50" opacity="0.28"/><ellipse cx="462.6" cy="624.3" rx="0.63" ry="0.49" fill="#8d6f50" opacity="0.24"/><ellipse cx="467.8" cy="620.5" rx="0.54" ry="0.42" fill="#8d6f50" opacity="0.28"/><ellipse cx="525.5" cy="617.7" rx="0.62" ry="0.48" fill="#8d6f50" opacity="0.33"/><ellipse cx="453.6" cy="615.0" rx="0.67" ry="0.52" fill="#8d6f50" opacity="0.26"/><ellipse cx="462.5" cy="635.0" rx="0.72" ry="0.55" fill="#8d6f50" opacity="0.27"/><ellipse cx="514.5" cy="631.8" rx="0.47" ry="0.36" fill="#8d6f50" opacity="0.22"/><ellipse cx="466.4" cy="628.0" rx="0.54" ry="0.41" fill="#8d6f50" opacity="0.38"/><ellipse cx="522.0" cy="621.2" rx="0.57" ry="0.44" fill="#8d6f50" opacity="0.44"/><ellipse cx="534.6" cy="620.1" rx="0.57" ry="0.44" fill="#8d6f50" opacity="0.37"/><ellipse cx="492.4" cy="622.4" rx="0.62" ry="0.48" fill="#8d6f50" opacity="0.37"/><ellipse cx="457.2" cy="611.6" rx="0.96" ry="0.74" fill="#8d6f50" opacity="0.42"/><ellipse cx="483.1" cy="633.4" rx="0.62" ry="0.47" fill="#8d6f50" opacity="0.44"/><ellipse cx="528.9" cy="616.2" rx="0.59" ry="0.45" fill="#8d6f50" opacity="0.22"/><ellipse cx="543.0" cy="601.5" rx="0.88" ry="0.68" fill="#8d6f50" opacity="0.44"/><ellipse cx="510.8" cy="606.7" rx="0.91" ry="0.70" fill="#8d6f50" opacity="0.44"/><ellipse cx="524.7" cy="619.8" rx="0.65" ry="0.50" fill="#8d6f50" opacity="0.30"/><ellipse cx="472.6" cy="626.2" rx="0.68" ry="0.52" fill="#8d6f50" opacity="0.26"/><ellipse cx="462.0" cy="625.9" rx="0.61" ry="0.47" fill="#8d6f50" opacity="0.33"/><ellipse cx="485.1" cy="633.9" rx="0.92" ry="0.71" fill="#8d6f50" opacity="0.22"/><ellipse cx="472.1" cy="612.7" rx="0.97" ry="0.74" fill="#8d6f50" opacity="0.40"/><ellipse cx="486.6" cy="608.3" rx="0.81" ry="0.62" fill="#8d6f50" opacity="0.41"/><ellipse cx="548.6" cy="613.4" rx="0.91" ry="0.70" fill="#8d6f50" opacity="0.38"/><ellipse cx="501.8" cy="638.3" rx="0.58" ry="0.44" fill="#8d6f50" opacity="0.39"/><ellipse cx="460.0" cy="606.6" rx="0.93" ry="0.71" fill="#8d6f50" opacity="0.27"/><ellipse cx="530.5" cy="623.3" rx="0.89" ry="0.69" fill="#8d6f50" opacity="0.30"/><ellipse cx="486.7" cy="611.3" rx="0.91" ry="0.70" fill="#8d6f50" opacity="0.36"/><ellipse cx="550.9" cy="634.5" rx="0.53" ry="0.40" fill="#8d6f50" opacity="0.35"/><ellipse cx="462.0" cy="601.5" rx="0.49" ry="0.38" fill="#8d6f50" opacity="0.42"/><ellipse cx="533.5" cy="632.2" rx="0.63" ry="0.49" fill="#8d6f50" opacity="0.36"/><ellipse cx="532.9" cy="614.7" rx="0.75" ry="0.58" fill="#8d6f50" opacity="0.27"/><ellipse cx="459.7" cy="610.4" rx="0.92" ry="0.71" fill="#8d6f50" opacity="0.35"/><ellipse cx="547.9" cy="617.8" rx="0.60" ry="0.46" fill="#8d6f50" opacity="0.40"/><ellipse cx="537.7" cy="600.5" rx="0.80" ry="0.62" fill="#8d6f50" opacity="0.24"/><ellipse cx="463.1" cy="634.4" rx="0.48" ry="0.37" fill="#8d6f50" opacity="0.28"/><ellipse cx="554.5" cy="616.4" rx="0.52" ry="0.40" fill="#8d6f50" opacity="0.26"/><ellipse cx="476.4" cy="628.9" rx="0.51" ry="0.39" fill="#8d6f50" opacity="0.43"/><ellipse cx="490.7" cy="637.7" rx="0.93" ry="0.71" fill="#8d6f50" opacity="0.29"/><ellipse cx="477.6" cy="618.6" rx="0.51" ry="0.39" fill="#8d6f50" opacity="0.37"/><ellipse cx="455.2" cy="600.4" rx="0.97" ry="0.74" fill="#8d6f50" opacity="0.29"/><ellipse cx="513.5" cy="617.5" rx="0.62" ry="0.48" fill="#8d6f50" opacity="0.23"/><ellipse cx="546.6" cy="637.7" rx="0.96" ry="0.74" fill="#8d6f50" opacity="0.25"/><ellipse cx="473.6" cy="624.0" rx="0.96" ry="0.74" fill="#8d6f50" opacity="0.34"/><ellipse cx="523.1" cy="625.7" rx="0.59" ry="0.45" fill="#8d6f50" opacity="0.34"/><ellipse cx="483.2" cy="609.6" rx="0.50" ry="0.38" fill="#8d6f50" opacity="0.28"/><ellipse cx="554.0" cy="617.4" rx="0.79" ry="0.61" fill="#8d6f50" opacity="0.37"/><ellipse cx="549.5" cy="615.2" rx="0.61" ry="0.47" fill="#8d6f50" opacity="0.30"/><ellipse cx="484.2" cy="633.0" rx="0.92" ry="0.71" fill="#8d6f50" opacity="0.29"/><ellipse cx="486.1" cy="621.2" rx="0.76" ry="0.58" fill="#8d6f50" opacity="0.36"/><ellipse cx="476.7" cy="600.8" rx="0.58" ry="0.45" fill="#8d6f50" opacity="0.24"/><ellipse cx="508.8" cy="602.8" rx="0.49" ry="0.38" fill="#8d6f50" opacity="0.37"/><ellipse cx="481.5" cy="630.8" rx="0.71" ry="0.55" fill="#8d6f50" opacity="0.42"/><ellipse cx="467.2" cy="619.5" rx="0.87" ry="0.67" fill="#8d6f50" opacity="0.24"/><ellipse cx="550.4" cy="606.7" rx="0.86" ry="0.66" fill="#8d6f50" opacity="0.45"/><ellipse cx="537.0" cy="612.4" rx="0.51" ry="0.39" fill="#8d6f50" opacity="0.34"/><ellipse cx="547.3" cy="611.4" rx="0.92" ry="0.71" fill="#8d6f50" opacity="0.25"/><ellipse cx="546.3" cy="601.2" rx="0.62" ry="0.48" fill="#8d6f50" opacity="0.43"/><ellipse cx="535.2" cy="635.3" rx="0.89" ry="0.69" fill="#8d6f50" opacity="0.39"/><ellipse cx="523.2" cy="606.9" rx="0.68" ry="0.52" fill="#8d6f50" opacity="0.26"/><ellipse cx="525.9" cy="626.0" rx="0.59" ry="0.45" fill="#8d6f50" opacity="0.23"/><ellipse cx="551.9" cy="631.4" rx="0.74" ry="0.57" fill="#8d6f50" opacity="0.34"/><ellipse cx="540.1" cy="617.6" rx="0.66" ry="0.51" fill="#8d6f50" opacity="0.30"/><ellipse cx="478.1" cy="600.9" rx="0.79" ry="0.61" fill="#8d6f50" opacity="0.32"/><ellipse cx="510.8" cy="602.4" rx="0.64" ry="0.49" fill="#8d6f50" opacity="0.25"/><ellipse cx="464.2" cy="610.1" rx="0.89" ry="0.68" fill="#8d6f50" opacity="0.31"/><ellipse cx="493.1" cy="623.8" rx="0.58" ry="0.44" fill="#8d6f50" opacity="0.22"/><ellipse cx="506.4" cy="619.5" rx="0.79" ry="0.61" fill="#8d6f50" opacity="0.32"/><ellipse cx="522.9" cy="628.5" rx="0.58" ry="0.45" fill="#8d6f50" opacity="0.33"/><ellipse cx="501.2" cy="608.8" rx="0.67" ry="0.51" fill="#8d6f50" opacity="0.35"/><ellipse cx="546.0" cy="635.7" rx="0.60" ry="0.46" fill="#8d6f50" opacity="0.37"/><ellipse cx="456.1" cy="602.8" rx="0.72" ry="0.55" fill="#8d6f50" opacity="0.42"/><ellipse cx="467.8" cy="629.8" rx="0.91" ry="0.70" fill="#8d6f50" opacity="0.29"/><ellipse cx="523.5" cy="633.0" rx="0.65" ry="0.50" fill="#8d6f50" opacity="0.38"/><ellipse cx="528.1" cy="623.1" rx="0.90" ry="0.69" fill="#8d6f50" opacity="0.43"/><ellipse cx="551.5" cy="622.2" rx="0.55" ry="0.42" fill="#8d6f50" opacity="0.28"/><ellipse cx="473.9" cy="622.2" rx="0.85" ry="0.65" fill="#8d6f50" opacity="0.23"/><ellipse cx="522.4" cy="627.9" rx="0.64" ry="0.49" fill="#8d6f50" opacity="0.34"/><ellipse cx="468.3" cy="628.4" rx="0.48" ry="0.37" fill="#8d6f50" opacity="0.45"/><ellipse cx="535.6" cy="624.4" rx="0.59" ry="0.46" fill="#8d6f50" opacity="0.43"/><ellipse cx="551.5" cy="605.4" rx="0.86" ry="0.66" fill="#8d6f50" opacity="0.41"/><ellipse cx="520.1" cy="627.2" rx="0.69" ry="0.53" fill="#8d6f50" opacity="0.43"/><ellipse cx="552.7" cy="614.9" rx="0.87" ry="0.67" fill="#8d6f50" opacity="0.32"/><ellipse cx="468.3" cy="612.7" rx="0.52" ry="0.40" fill="#8d6f50" opacity="0.43"/><ellipse cx="551.5" cy="604.6" rx="0.77" ry="0.59" fill="#8d6f50" opacity="0.31"/><ellipse cx="463.5" cy="611.5" rx="0.58" ry="0.45" fill="#8d6f50" opacity="0.39"/><ellipse cx="451.5" cy="607.4" rx="0.68" ry="0.53" fill="#8d6f50" opacity="0.22"/><ellipse cx="516.7" cy="623.6" rx="0.89" ry="0.68" fill="#8d6f50" opacity="0.27"/><ellipse cx="480.9" cy="621.1" rx="0.60" ry="0.46" fill="#8d6f50" opacity="0.35"/><ellipse cx="477.3" cy="626.6" rx="0.87" ry="0.67" fill="#8d6f50" opacity="0.41"/><ellipse cx="552.9" cy="621.2" rx="0.71" ry="0.55" fill="#8d6f50" opacity="0.42"/><ellipse cx="531.5" cy="622.2" rx="0.65" ry="0.50" fill="#8d6f50" opacity="0.29"/><ellipse cx="462.4" cy="631.4" rx="0.52" ry="0.40" fill="#8d6f50" opacity="0.39"/><ellipse cx="508.1" cy="637.5" rx="0.85" ry="0.65" fill="#8d6f50" opacity="0.44"/><ellipse cx="465.4" cy="619.5" rx="0.75" ry="0.58" fill="#8d6f50" opacity="0.29"/><ellipse cx="503.7" cy="613.9" rx="0.73" ry="0.56" fill="#8d6f50" opacity="0.22"/><ellipse cx="497.4" cy="617.5" rx="0.61" ry="0.47" fill="#8d6f50" opacity="0.31"/><ellipse cx="533.0" cy="626.6" rx="0.71" ry="0.55" fill="#8d6f50" opacity="0.37"/><ellipse cx="490.6" cy="607.9" rx="0.46" ry="0.35" fill="#8d6f50" opacity="0.28"/><ellipse cx="513.7" cy="634.3" rx="0.89" ry="0.68" fill="#8d6f50" opacity="0.34"/><ellipse cx="554.3" cy="618.0" rx="0.89" ry="0.68" fill="#8d6f50" opacity="0.31"/><ellipse cx="529.0" cy="638.4" rx="0.61" ry="0.47" fill="#8d6f50" opacity="0.26"/><ellipse cx="516.0" cy="620.7" rx="0.64" ry="0.49" fill="#8d6f50" opacity="0.22"/><ellipse cx="491.8" cy="616.6" rx="0.67" ry="0.51" fill="#8d6f50" opacity="0.42"/><ellipse cx="512.2" cy="628.5" rx="0.92" ry="0.71" fill="#8d6f50" opacity="0.39"/><ellipse cx="502.6" cy="629.0" rx="0.79" ry="0.61" fill="#8d6f50" opacity="0.37"/><ellipse cx="517.0" cy="615.8" rx="0.78" ry="0.60" fill="#8d6f50" opacity="0.37"/><ellipse cx="549.1" cy="630.4" rx="0.90" ry="0.69" fill="#8d6f50" opacity="0.40"/><ellipse cx="536.4" cy="623.6" rx="0.64" ry="0.49" fill="#8d6f50" opacity="0.28"/><ellipse cx="525.2" cy="634.0" rx="0.74" ry="0.57" fill="#8d6f50" opacity="0.25"/><ellipse cx="538.2" cy="618.8" rx="0.70" ry="0.54" fill="#8d6f50" opacity="0.23"/><ellipse cx="504.5" cy="629.0" rx="0.67" ry="0.52" fill="#8d6f50" opacity="0.30"/><ellipse cx="519.8" cy="600.8" rx="0.72" ry="0.55" fill="#8d6f50" opacity="0.44"/><ellipse cx="523.3" cy="615.6" rx="0.81" ry="0.63" fill="#8d6f50" opacity="0.36"/><ellipse cx="472.9" cy="608.1" rx="0.92" ry="0.70" fill="#8d6f50" opacity="0.28"/><ellipse cx="458.9" cy="632.3" rx="0.73" ry="0.56" fill="#8d6f50" opacity="0.30"/><ellipse cx="504.6" cy="628.7" rx="0.54" ry="0.42" fill="#8d6f50" opacity="0.37"/><ellipse cx="525.7" cy="631.7" rx="0.60" ry="0.46" fill="#8d6f50" opacity="0.36"/><ellipse cx="475.4" cy="621.8" rx="0.54" ry="0.42" fill="#8d6f50" opacity="0.40"/><ellipse cx="541.8" cy="612.8" rx="0.57" ry="0.44" fill="#8d6f50" opacity="0.44"/><ellipse cx="525.0" cy="632.8" rx="0.47" ry="0.36" fill="#8d6f50" opacity="0.43"/><ellipse cx="516.2" cy="612.3" rx="0.68" ry="0.52" fill="#8d6f50" opacity="0.40"/><ellipse cx="533.3" cy="607.4" rx="0.78" ry="0.60" fill="#8d6f50" opacity="0.26"/><ellipse cx="552.9" cy="617.3" rx="0.93" ry="0.72" fill="#8d6f50" opacity="0.39"/><ellipse cx="514.5" cy="610.2" rx="0.73" ry="0.56" fill="#8d6f50" opacity="0.25"/><ellipse cx="465.5" cy="627.8" rx="0.64" ry="0.49" fill="#8d6f50" opacity="0.39"/><ellipse cx="476.3" cy="627.9" rx="0.83" ry="0.64" fill="#8d6f50" opacity="0.29"/><ellipse cx="462.2" cy="615.4" rx="0.71" ry="0.55" fill="#8d6f50" opacity="0.24"/><ellipse cx="470.6" cy="602.2" rx="0.77" ry="0.59" fill="#8d6f50" opacity="0.42"/><ellipse cx="473.8" cy="601.4" rx="0.82" ry="0.63" fill="#8d6f50" opacity="0.41"/><ellipse cx="551.9" cy="623.9" rx="0.63" ry="0.49" fill="#8d6f50" opacity="0.41"/><ellipse cx="463.4" cy="626.9" rx="0.50" ry="0.39" fill="#8d6f50" opacity="0.31"/><ellipse cx="502.9" cy="614.7" rx="0.54" ry="0.42" fill="#8d6f50" opacity="0.27"/><ellipse cx="536.9" cy="618.0" rx="0.76" ry="0.58" fill="#8d6f50" opacity="0.27"/><ellipse cx="525.9" cy="612.8" rx="0.76" ry="0.59" fill="#8d6f50" opacity="0.43"/><ellipse cx="555.1" cy="601.8" rx="0.87" ry="0.67" fill="#8d6f50" opacity="0.42"/><ellipse cx="484.5" cy="614.9" rx="0.76" ry="0.58" fill="#8d6f50" opacity="0.43"/><ellipse cx="492.9" cy="634.2" rx="0.85" ry="0.65" fill="#8d6f50" opacity="0.26"/><ellipse cx="546.7" cy="600.6" rx="0.53" ry="0.41" fill="#8d6f50" opacity="0.37"/><ellipse cx="457.1" cy="614.8" rx="0.52" ry="0.40" fill="#8d6f50" opacity="0.33"/><circle cx="499.5" cy="621.5" r="0.60" fill="#8d6e4c" opacity="0.35"/><circle cx="499.2" cy="621.2" r="0.57" fill="#8d6e4c" opacity="0.35"/><circle cx="497.6" cy="622.0" r="0.51" fill="#8d6e4c" opacity="0.35"/><circle cx="498.8" cy="621.8" r="0.60" fill="#8d6e4c" opacity="0.35"/><circle cx="537.3" cy="602.5" r="0.44" fill="#8d6e4c" opacity="0.37"/><circle cx="536.6" cy="602.4" r="0.61" fill="#8d6e4c" opacity="0.37"/><circle cx="537.5" cy="603.3" r="0.38" fill="#8d6e4c" opacity="0.37"/><circle cx="478.3" cy="629.0" r="0.73" fill="#8d6e4c" opacity="0.36"/><circle cx="477.4" cy="629.5" r="0.71" fill="#8d6e4c" opacity="0.36"/><circle cx="499.8" cy="637.1" r="0.74" fill="#8d6e4c" opacity="0.38"/><circle cx="500.0" cy="637.8" r="0.39" fill="#8d6e4c" opacity="0.38"/><circle cx="500.3" cy="636.6" r="0.57" fill="#8d6e4c" opacity="0.38"/><circle cx="500.0" cy="637.8" r="0.40" fill="#8d6e4c" opacity="0.38"/><circle cx="518.6" cy="604.2" r="0.51" fill="#8d6e4c" opacity="0.30"/><circle cx="518.6" cy="605.2" r="0.75" fill="#8d6e4c" opacity="0.30"/><circle cx="517.9" cy="604.6" r="0.48" fill="#8d6e4c" opacity="0.30"/><circle cx="517.8" cy="604.1" r="0.58" fill="#8d6e4c" opacity="0.30"/><circle cx="476.7" cy="623.9" r="0.60" fill="#8d6e4c" opacity="0.44"/><circle cx="476.3" cy="623.0" r="0.64" fill="#8d6e4c" opacity="0.44"/><circle cx="476.6" cy="622.6" r="0.62" fill="#8d6e4c" opacity="0.44"/><circle cx="492.3" cy="619.2" r="0.45" fill="#8d6e4c" opacity="0.27"/><circle cx="492.4" cy="618.7" r="0.42" fill="#8d6e4c" opacity="0.27"/><circle cx="491.7" cy="618.6" r="0.57" fill="#8d6e4c" opacity="0.27"/><circle cx="492.5" cy="618.7" r="0.72" fill="#8d6e4c" opacity="0.27"/><circle cx="472.4" cy="601.2" r="0.39" fill="#8d6e4c" opacity="0.26"/><circle cx="472.1" cy="600.3" r="0.64" fill="#8d6e4c" opacity="0.26"/><circle cx="505.9" cy="636.6" r="0.60" fill="#8d6e4c" opacity="0.34"/><circle cx="505.9" cy="636.1" r="0.75" fill="#8d6e4c" opacity="0.34"/><circle cx="506.1" cy="635.2" r="0.71" fill="#8d6e4c" opacity="0.34"/><circle cx="527.6" cy="627.5" r="0.73" fill="#8d6e4c" opacity="0.32"/><circle cx="529.3" cy="625.7" r="0.61" fill="#8d6e4c" opacity="0.32"/><circle cx="527.8" cy="626.5" r="0.39" fill="#8d6e4c" opacity="0.32"/><circle cx="528.8" cy="626.3" r="0.48" fill="#8d6e4c" opacity="0.32"/><circle cx="548.0" cy="627.5" r="0.54" fill="#8d6e4c" opacity="0.36"/><circle cx="548.5" cy="626.1" r="0.60" fill="#8d6e4c" opacity="0.36"/><circle cx="548.3" cy="627.4" r="0.47" fill="#8d6e4c" opacity="0.36"/><circle cx="548.2" cy="626.9" r="0.71" fill="#8d6e4c" opacity="0.36"/><circle cx="520.0" cy="617.6" r="0.43" fill="#8d6e4c" opacity="0.38"/><circle cx="520.3" cy="617.5" r="0.43" fill="#8d6e4c" opacity="0.38"/><circle cx="464.7" cy="613.9" r="0.72" fill="#8d6e4c" opacity="0.26"/><circle cx="464.9" cy="614.0" r="0.62" fill="#8d6e4c" opacity="0.26"/><circle cx="465.5" cy="614.0" r="0.48" fill="#8d6e4c" opacity="0.26"/><circle cx="537.9" cy="610.0" r="0.40" fill="#8d6e4c" opacity="0.31"/><circle cx="537.0" cy="611.2" r="0.44" fill="#8d6e4c" opacity="0.31"/><circle cx="537.4" cy="610.2" r="0.53" fill="#8d6e4c" opacity="0.31"/><circle cx="515.7" cy="626.2" r="0.65" fill="#8d6e4c" opacity="0.39"/><circle cx="516.3" cy="625.1" r="0.66" fill="#8d6e4c" opacity="0.39"/><circle cx="507.1" cy="638.3" r="0.64" fill="#8d6e4c" opacity="0.28"/><circle cx="507.5" cy="635.2" r="0.71" fill="#8d6e4c" opacity="0.28"/><circle cx="507.6" cy="636.3" r="0.67" fill="#8d6e4c" opacity="0.28"/><circle cx="507.5" cy="638.1" r="0.43" fill="#8d6e4c" opacity="0.28"/><circle cx="526.2" cy="632.9" r="0.67" fill="#8d6e4c" opacity="0.29"/><circle cx="527.0" cy="631.4" r="0.49" fill="#8d6e4c" opacity="0.29"/><circle cx="526.9" cy="630.4" r="0.66" fill="#8d6e4c" opacity="0.29"/><circle cx="502.2" cy="602.0" r="0.54" fill="#8d6e4c" opacity="0.41"/><circle cx="501.8" cy="602.1" r="0.62" fill="#8d6e4c" opacity="0.41"/><circle cx="497.0" cy="634.2" r="0.61" fill="#8d6e4c" opacity="0.40"/><circle cx="497.5" cy="634.0" r="0.47" fill="#8d6e4c" opacity="0.40"/><circle cx="497.6" cy="633.9" r="0.43" fill="#8d6e4c" opacity="0.40"/><circle cx="539.3" cy="636.0" r="0.57" fill="#8d6e4c" opacity="0.29"/><circle cx="540.3" cy="636.0" r="0.75" fill="#8d6e4c" opacity="0.29"/><circle cx="539.4" cy="635.8" r="0.72" fill="#8d6e4c" opacity="0.29"/><circle cx="540.2" cy="637.4" r="0.51" fill="#8d6e4c" opacity="0.29"/><circle cx="476.8" cy="619.2" r="0.36" fill="#8d6e4c" opacity="0.44"/><circle cx="476.9" cy="618.9" r="0.36" fill="#8d6e4c" opacity="0.44"/><circle cx="476.1" cy="617.9" r="0.64" fill="#8d6e4c" opacity="0.44"/><circle cx="476.6" cy="618.7" r="0.52" fill="#8d6e4c" opacity="0.42"/><circle cx="476.8" cy="619.1" r="0.41" fill="#8d6e4c" opacity="0.42"/><circle cx="477.1" cy="618.7" r="0.56" fill="#8d6e4c" opacity="0.42"/><circle cx="477.0" cy="620.7" r="0.44" fill="#8d6e4c" opacity="0.42"/><circle cx="529.4" cy="631.4" r="0.40" fill="#8d6e4c" opacity="0.31"/><circle cx="529.1" cy="630.8" r="0.39" fill="#8d6e4c" opacity="0.31"/><circle cx="537.0" cy="616.9" r="0.49" fill="#8d6e4c" opacity="0.33"/><circle cx="537.2" cy="617.0" r="0.60" fill="#8d6e4c" opacity="0.33"/><circle cx="538.5" cy="616.6" r="0.67" fill="#8d6e4c" opacity="0.33"/><circle cx="537.4" cy="616.7" r="0.60" fill="#8d6e4c" opacity="0.33"/><circle cx="546.5" cy="618.8" r="0.37" fill="#8d6e4c" opacity="0.28"/><circle cx="546.0" cy="619.5" r="0.48" fill="#8d6e4c" opacity="0.28"/><circle cx="499.4" cy="618.7" r="0.49" fill="#8d6e4c" opacity="0.25"/><circle cx="500.3" cy="619.8" r="0.39" fill="#8d6e4c" opacity="0.25"/><circle cx="500.0" cy="620.4" r="0.69" fill="#8d6e4c" opacity="0.25"/><circle cx="500.6" cy="621.5" r="0.58" fill="#8d6e4c" opacity="0.25"/><circle cx="472.0" cy="623.6" r="0.51" fill="#8d6e4c" opacity="0.31"/><circle cx="472.4" cy="623.9" r="0.66" fill="#8d6e4c" opacity="0.31"/><circle cx="531.7" cy="615.8" r="0.71" fill="#8d6e4c" opacity="0.32"/><circle cx="531.1" cy="615.8" r="0.47" fill="#8d6e4c" opacity="0.32"/><circle cx="531.1" cy="615.2" r="0.38" fill="#8d6e4c" opacity="0.32"/><circle cx="504.4" cy="619.1" r="0.45" fill="#8d6e4c" opacity="0.33"/><circle cx="504.3" cy="618.9" r="0.50" fill="#8d6e4c" opacity="0.33"/><circle cx="504.1" cy="619.3" r="0.57" fill="#8d6e4c" opacity="0.33"/><circle cx="505.4" cy="619.4" r="0.75" fill="#8d6e4c" opacity="0.33"/><circle cx="517.8" cy="631.0" r="0.74" fill="#8d6e4c" opacity="0.40"/><circle cx="518.7" cy="631.5" r="0.52" fill="#8d6e4c" opacity="0.40"/><rect x="449.90000000000003" y="591.8" width="107.00" height="52.30" fill="none" stroke="#b3ab9f" stroke-width="0.6"/><text x="450.89" y="598.80" font-size="9.34" font-weight="bold" fill="#1f3048">Inlet</text><text x="527.22" y="598.80" font-size="9.38" font-weight="bold" fill="#1f3048">Outlet</text><rect x="449.6" y="646.2" width="107.60" height="52.60" fill="url(#kg1)"/><rect x="449.6" y="646.2" width="107.60" height="1.6" fill="#cbb99a" opacity="0.8"/><line x1="449.60" y1="652.50" x2="557.20" y2="652.00" stroke="#8f8270" stroke-width="0.6"/><rect x="449.6" y="695.20" width="107.60" height="3.6" fill="#e4d6bb"/><line x1="449.60" y1="695.20" x2="557.20" y2="695.60" stroke="#7b705f" stroke-width="0.7"/><circle cx="552.9" cy="661.6" r="0.38" fill="#8d6e4c" opacity="0.40"/><circle cx="548.9" cy="661.6" r="0.42" fill="#8d6e4c" opacity="0.40"/><circle cx="551.5" cy="661.2" r="0.70" fill="#8d6e4c" opacity="0.40"/><circle cx="550.9" cy="661.0" r="0.52" fill="#8d6e4c" opacity="0.40"/><circle cx="470.3" cy="661.1" r="0.73" fill="#8d6e4c" opacity="0.60"/><circle cx="470.7" cy="659.6" r="0.61" fill="#8d6e4c" opacity="0.60"/><circle cx="470.8" cy="658.3" r="0.42" fill="#8d6e4c" opacity="0.60"/><circle cx="470.6" cy="657.2" r="0.72" fill="#8d6e4c" opacity="0.60"/><circle cx="504.0" cy="674.5" r="0.58" fill="#8d6e4c" opacity="0.58"/><circle cx="504.2" cy="675.2" r="0.71" fill="#8d6e4c" opacity="0.58"/><circle cx="503.5" cy="674.2" r="0.39" fill="#8d6e4c" opacity="0.58"/><circle cx="504.0" cy="676.4" r="0.43" fill="#8d6e4c" opacity="0.58"/><circle cx="503.2" cy="673.2" r="0.43" fill="#8d6e4c" opacity="0.58"/><circle cx="503.2" cy="671.9" r="0.71" fill="#8d6e4c" opacity="0.58"/><circle cx="516.9" cy="671.8" r="0.40" fill="#8d6e4c" opacity="0.54"/><circle cx="515.7" cy="671.3" r="0.40" fill="#8d6e4c" opacity="0.54"/><circle cx="517.1" cy="671.9" r="0.62" fill="#8d6e4c" opacity="0.54"/><circle cx="518.0" cy="671.8" r="0.64" fill="#8d6e4c" opacity="0.54"/><circle cx="517.9" cy="672.6" r="0.45" fill="#8d6e4c" opacity="0.54"/><circle cx="463.9" cy="663.0" r="0.43" fill="#8d6e4c" opacity="0.37"/><circle cx="464.7" cy="663.4" r="0.54" fill="#8d6e4c" opacity="0.37"/><circle cx="462.9" cy="661.9" r="0.58" fill="#8d6e4c" opacity="0.37"/><circle cx="464.0" cy="662.8" r="0.71" fill="#8d6e4c" opacity="0.37"/><circle cx="463.7" cy="662.7" r="0.69" fill="#8d6e4c" opacity="0.37"/><circle cx="463.9" cy="663.5" r="0.60" fill="#8d6e4c" opacity="0.37"/><circle cx="463.5" cy="661.5" r="0.45" fill="#8d6e4c" opacity="0.37"/><circle cx="541.4" cy="660.4" r="0.55" fill="#8d6e4c" opacity="0.49"/><circle cx="542.6" cy="660.4" r="0.36" fill="#8d6e4c" opacity="0.49"/><circle cx="541.6" cy="660.8" r="0.74" fill="#8d6e4c" opacity="0.49"/><circle cx="541.3" cy="660.8" r="0.41" fill="#8d6e4c" opacity="0.49"/><circle cx="545.1" cy="660.3" r="0.35" fill="#8d6e4c" opacity="0.49"/><circle cx="490.2" cy="678.1" r="0.45" fill="#8d6e4c" opacity="0.57"/><circle cx="490.9" cy="679.4" r="0.55" fill="#8d6e4c" opacity="0.57"/><circle cx="490.6" cy="679.0" r="0.55" fill="#8d6e4c" opacity="0.57"/><circle cx="490.5" cy="678.1" r="0.62" fill="#8d6e4c" opacity="0.57"/><circle cx="491.3" cy="678.7" r="0.72" fill="#8d6e4c" opacity="0.57"/><circle cx="489.7" cy="678.5" r="0.69" fill="#8d6e4c" opacity="0.57"/><circle cx="473.1" cy="668.5" r="0.60" fill="#8d6e4c" opacity="0.43"/><circle cx="473.3" cy="669.3" r="0.45" fill="#8d6e4c" opacity="0.43"/><circle cx="472.4" cy="669.4" r="0.58" fill="#8d6e4c" opacity="0.43"/><circle cx="472.0" cy="668.9" r="0.62" fill="#8d6e4c" opacity="0.43"/><circle cx="531.7" cy="656.1" r="0.48" fill="#8d6e4c" opacity="0.59"/><circle cx="535.6" cy="658.9" r="0.71" fill="#8d6e4c" opacity="0.59"/><circle cx="535.3" cy="658.8" r="0.46" fill="#8d6e4c" opacity="0.59"/><circle cx="533.0" cy="657.6" r="0.44" fill="#8d6e4c" opacity="0.59"/><circle cx="532.9" cy="657.6" r="0.71" fill="#8d6e4c" opacity="0.59"/><circle cx="533.4" cy="658.0" r="0.39" fill="#8d6e4c" opacity="0.59"/><circle cx="536.2" cy="684.4" r="0.67" fill="#8d6e4c" opacity="0.41"/><circle cx="536.4" cy="682.8" r="0.50" fill="#8d6e4c" opacity="0.41"/><circle cx="536.6" cy="684.8" r="0.60" fill="#8d6e4c" opacity="0.41"/><circle cx="537.4" cy="681.2" r="0.62" fill="#8d6e4c" opacity="0.41"/><circle cx="536.7" cy="681.8" r="0.38" fill="#8d6e4c" opacity="0.41"/><circle cx="466.8" cy="673.1" r="0.58" fill="#8d6e4c" opacity="0.47"/><circle cx="467.9" cy="672.1" r="0.72" fill="#8d6e4c" opacity="0.47"/><circle cx="468.0" cy="672.0" r="0.42" fill="#8d6e4c" opacity="0.47"/><circle cx="468.3" cy="672.2" r="0.68" fill="#8d6e4c" opacity="0.47"/><circle cx="468.7" cy="672.1" r="0.44" fill="#8d6e4c" opacity="0.47"/><circle cx="467.7" cy="672.5" r="0.59" fill="#8d6e4c" opacity="0.47"/><circle cx="476.4" cy="676.3" r="0.40" fill="#8d6e4c" opacity="0.44"/><circle cx="476.6" cy="677.3" r="0.47" fill="#8d6e4c" opacity="0.44"/><circle cx="476.8" cy="677.6" r="0.64" fill="#8d6e4c" opacity="0.44"/><circle cx="475.4" cy="674.4" r="0.61" fill="#8d6e4c" opacity="0.44"/><circle cx="478.3" cy="656.2" r="0.50" fill="#8d6e4c" opacity="0.39"/><circle cx="478.3" cy="656.0" r="0.55" fill="#8d6e4c" opacity="0.39"/><circle cx="478.3" cy="655.0" r="0.63" fill="#8d6e4c" opacity="0.39"/><circle cx="478.4" cy="656.6" r="0.69" fill="#8d6e4c" opacity="0.39"/><circle cx="477.8" cy="653.4" r="0.68" fill="#8d6e4c" opacity="0.39"/><circle cx="508.4" cy="688.0" r="0.37" fill="#8d6e4c" opacity="0.46"/><circle cx="508.0" cy="688.1" r="0.71" fill="#8d6e4c" opacity="0.46"/><circle cx="507.0" cy="691.1" r="0.63" fill="#8d6e4c" opacity="0.46"/><circle cx="507.2" cy="689.7" r="0.72" fill="#8d6e4c" opacity="0.46"/><circle cx="496.6" cy="669.6" r="0.71" fill="#8d6e4c" opacity="0.56"/><circle cx="501.1" cy="670.0" r="0.54" fill="#8d6e4c" opacity="0.56"/><circle cx="496.8" cy="669.2" r="0.44" fill="#8d6e4c" opacity="0.56"/><circle cx="496.7" cy="669.1" r="0.52" fill="#8d6e4c" opacity="0.56"/><circle cx="499.2" cy="669.9" r="0.59" fill="#8d6e4c" opacity="0.56"/><circle cx="497.5" cy="669.5" r="0.57" fill="#8d6e4c" opacity="0.56"/><circle cx="500.5" cy="670.4" r="0.41" fill="#8d6e4c" opacity="0.56"/><circle cx="535.9" cy="683.8" r="0.36" fill="#8d6e4c" opacity="0.58"/><circle cx="536.5" cy="683.1" r="0.68" fill="#8d6e4c" opacity="0.58"/><circle cx="536.6" cy="682.2" r="0.44" fill="#8d6e4c" opacity="0.58"/><circle cx="536.0" cy="683.0" r="0.61" fill="#8d6e4c" opacity="0.58"/><circle cx="536.8" cy="683.0" r="0.52" fill="#8d6e4c" opacity="0.58"/><circle cx="534.6" cy="684.3" r="0.40" fill="#8d6e4c" opacity="0.58"/><circle cx="536.0" cy="683.4" r="0.49" fill="#8d6e4c" opacity="0.58"/><circle cx="523.4" cy="665.4" r="0.45" fill="#8d6e4c" opacity="0.45"/><circle cx="527.1" cy="666.1" r="0.37" fill="#8d6e4c" opacity="0.45"/><circle cx="524.9" cy="665.6" r="0.52" fill="#8d6e4c" opacity="0.45"/><circle cx="525.4" cy="666.5" r="0.62" fill="#8d6e4c" opacity="0.45"/><circle cx="525.9" cy="666.2" r="0.56" fill="#8d6e4c" opacity="0.45"/><circle cx="464.7" cy="673.3" r="0.67" fill="#8d6e4c" opacity="0.36"/><circle cx="465.6" cy="675.0" r="0.46" fill="#8d6e4c" opacity="0.36"/><circle cx="465.7" cy="673.5" r="0.38" fill="#8d6e4c" opacity="0.36"/><circle cx="465.8" cy="675.4" r="0.56" fill="#8d6e4c" opacity="0.36"/><circle cx="465.2" cy="674.2" r="0.55" fill="#8d6e4c" opacity="0.36"/><circle cx="490.0" cy="688.4" r="0.69" fill="#8d6e4c" opacity="0.40"/><circle cx="488.9" cy="691.2" r="0.50" fill="#8d6e4c" opacity="0.40"/><circle cx="489.9" cy="688.7" r="0.74" fill="#8d6e4c" opacity="0.40"/><circle cx="489.5" cy="689.3" r="0.74" fill="#8d6e4c" opacity="0.40"/><circle cx="489.1" cy="691.4" r="0.65" fill="#8d6e4c" opacity="0.40"/><circle cx="528.1" cy="673.7" r="0.61" fill="#8d6e4c" opacity="0.41"/><circle cx="529.5" cy="673.7" r="0.67" fill="#8d6e4c" opacity="0.41"/><circle cx="525.6" cy="673.6" r="0.46" fill="#8d6e4c" opacity="0.41"/><circle cx="531.2" cy="673.8" r="0.53" fill="#8d6e4c" opacity="0.41"/><circle cx="529.8" cy="674.1" r="0.73" fill="#8d6e4c" opacity="0.41"/><circle cx="529.0" cy="673.7" r="0.55" fill="#8d6e4c" opacity="0.41"/><circle cx="530.9" cy="673.5" r="0.70" fill="#8d6e4c" opacity="0.41"/><circle cx="463.4" cy="690.8" r="0.35" fill="#8d6e4c" opacity="0.54"/><circle cx="463.4" cy="689.5" r="0.50" fill="#8d6e4c" opacity="0.54"/><circle cx="461.4" cy="691.6" r="0.46" fill="#8d6e4c" opacity="0.54"/><circle cx="462.8" cy="690.4" r="0.52" fill="#8d6e4c" opacity="0.54"/><circle cx="512.5" cy="683.1" r="0.37" fill="#8d6e4c" opacity="0.55"/><circle cx="513.1" cy="681.8" r="0.37" fill="#8d6e4c" opacity="0.55"/><circle cx="514.4" cy="681.2" r="0.56" fill="#8d6e4c" opacity="0.55"/><circle cx="514.0" cy="681.5" r="0.39" fill="#8d6e4c" opacity="0.55"/><circle cx="467.9" cy="665.7" r="0.51" fill="#8d6e4c" opacity="0.36"/><circle cx="467.8" cy="665.3" r="0.47" fill="#8d6e4c" opacity="0.36"/><circle cx="469.2" cy="666.9" r="0.72" fill="#8d6e4c" opacity="0.36"/><circle cx="468.7" cy="666.7" r="0.56" fill="#8d6e4c" opacity="0.36"/><circle cx="469.3" cy="666.6" r="0.54" fill="#8d6e4c" opacity="0.36"/><circle cx="469.3" cy="666.7" r="0.44" fill="#8d6e4c" opacity="0.36"/><circle cx="467.3" cy="665.0" r="0.39" fill="#8d6e4c" opacity="0.36"/><circle cx="506.3" cy="676.8" r="0.39" fill="#8d6e4c" opacity="0.37"/><circle cx="506.3" cy="676.0" r="0.47" fill="#8d6e4c" opacity="0.37"/><circle cx="505.3" cy="677.9" r="0.67" fill="#8d6e4c" opacity="0.37"/><circle cx="505.5" cy="676.3" r="0.37" fill="#8d6e4c" opacity="0.37"/><circle cx="541.1" cy="675.3" r="0.56" fill="#8d6e4c" opacity="0.37"/><circle cx="541.3" cy="675.0" r="0.59" fill="#8d6e4c" opacity="0.37"/><circle cx="541.8" cy="675.4" r="0.72" fill="#8d6e4c" opacity="0.37"/><circle cx="540.3" cy="675.7" r="0.59" fill="#8d6e4c" opacity="0.37"/><circle cx="540.7" cy="676.1" r="0.48" fill="#8d6e4c" opacity="0.37"/><circle cx="544.8" cy="674.7" r="0.51" fill="#8d6e4c" opacity="0.37"/><circle cx="508.2" cy="666.9" r="0.40" fill="#8d6e4c" opacity="0.53"/><circle cx="507.7" cy="666.2" r="0.54" fill="#8d6e4c" opacity="0.53"/><circle cx="507.6" cy="666.4" r="0.52" fill="#8d6e4c" opacity="0.53"/><circle cx="507.8" cy="666.0" r="0.63" fill="#8d6e4c" opacity="0.53"/><circle cx="506.7" cy="664.3" r="0.74" fill="#8d6e4c" opacity="0.53"/><circle cx="515.4" cy="686.2" r="0.72" fill="#8d6e4c" opacity="0.46"/><circle cx="518.2" cy="684.7" r="0.42" fill="#8d6e4c" opacity="0.46"/><circle cx="514.7" cy="686.2" r="0.55" fill="#8d6e4c" opacity="0.46"/><circle cx="515.5" cy="686.4" r="0.50" fill="#8d6e4c" opacity="0.46"/><circle cx="518.8" cy="684.7" r="0.50" fill="#8d6e4c" opacity="0.46"/><circle cx="516.4" cy="685.9" r="0.63" fill="#8d6e4c" opacity="0.46"/><circle cx="467.7" cy="679.1" r="0.71" fill="#8d6e4c" opacity="0.54"/><circle cx="466.7" cy="678.8" r="0.64" fill="#8d6e4c" opacity="0.54"/><circle cx="468.3" cy="678.4" r="0.71" fill="#8d6e4c" opacity="0.54"/><circle cx="466.6" cy="679.1" r="0.43" fill="#8d6e4c" opacity="0.54"/><circle cx="466.7" cy="678.8" r="0.58" fill="#8d6e4c" opacity="0.54"/><circle cx="465.9" cy="679.1" r="0.50" fill="#8d6e4c" opacity="0.54"/><circle cx="490.6" cy="659.2" r="0.38" fill="#8d6e4c" opacity="0.52"/><circle cx="489.4" cy="661.1" r="0.56" fill="#8d6e4c" opacity="0.52"/><circle cx="490.3" cy="661.4" r="0.56" fill="#8d6e4c" opacity="0.52"/><circle cx="490.9" cy="659.5" r="0.62" fill="#8d6e4c" opacity="0.52"/><circle cx="490.3" cy="661.4" r="0.60" fill="#8d6e4c" opacity="0.52"/><circle cx="489.8" cy="662.2" r="0.48" fill="#8d6e4c" opacity="0.52"/><circle cx="489.7" cy="660.3" r="0.39" fill="#8d6e4c" opacity="0.52"/><circle cx="512.7" cy="656.6" r="0.36" fill="#8d6e4c" opacity="0.35"/><circle cx="511.3" cy="657.3" r="0.53" fill="#8d6e4c" opacity="0.35"/><circle cx="511.1" cy="657.3" r="0.43" fill="#8d6e4c" opacity="0.35"/><circle cx="510.4" cy="656.7" r="0.45" fill="#8d6e4c" opacity="0.35"/><circle cx="510.1" cy="656.5" r="0.40" fill="#8d6e4c" opacity="0.35"/><circle cx="512.0" cy="657.5" r="0.71" fill="#8d6e4c" opacity="0.35"/><circle cx="468.5" cy="686.4" r="0.41" fill="#8d6e4c" opacity="0.47"/><circle cx="466.3" cy="686.5" r="0.44" fill="#8d6e4c" opacity="0.47"/><circle cx="470.3" cy="686.6" r="0.59" fill="#8d6e4c" opacity="0.47"/><circle cx="467.1" cy="686.6" r="0.40" fill="#8d6e4c" opacity="0.47"/><circle cx="470.5" cy="687.0" r="0.72" fill="#8d6e4c" opacity="0.47"/><circle cx="470.7" cy="686.4" r="0.65" fill="#8d6e4c" opacity="0.47"/><circle cx="469.6" cy="686.1" r="0.62" fill="#8d6e4c" opacity="0.47"/><circle cx="456.2" cy="671.5" r="0.40" fill="#8d6e4c" opacity="0.39"/><circle cx="456.8" cy="671.5" r="0.60" fill="#8d6e4c" opacity="0.39"/><circle cx="458.3" cy="671.3" r="0.68" fill="#8d6e4c" opacity="0.39"/><circle cx="455.6" cy="671.8" r="0.40" fill="#8d6e4c" opacity="0.39"/><circle cx="457.0" cy="671.8" r="0.35" fill="#8d6e4c" opacity="0.39"/><circle cx="507.1" cy="661.4" r="0.68" fill="#8d6e4c" opacity="0.47"/><circle cx="506.7" cy="662.7" r="0.63" fill="#8d6e4c" opacity="0.47"/><circle cx="506.3" cy="663.3" r="0.40" fill="#8d6e4c" opacity="0.47"/><circle cx="506.4" cy="661.9" r="0.41" fill="#8d6e4c" opacity="0.47"/><circle cx="506.4" cy="662.1" r="0.41" fill="#8d6e4c" opacity="0.47"/><circle cx="506.6" cy="663.3" r="0.54" fill="#8d6e4c" opacity="0.47"/><circle cx="509.6" cy="664.8" r="0.41" fill="#8d6e4c" opacity="0.36"/><circle cx="509.7" cy="666.3" r="0.35" fill="#8d6e4c" opacity="0.36"/><circle cx="509.2" cy="665.9" r="0.38" fill="#8d6e4c" opacity="0.36"/><circle cx="508.9" cy="665.3" r="0.55" fill="#8d6e4c" opacity="0.36"/><circle cx="508.3" cy="676.2" r="0.60" fill="#8d6e4c" opacity="0.44"/><circle cx="508.7" cy="678.2" r="0.36" fill="#8d6e4c" opacity="0.44"/><circle cx="509.2" cy="678.0" r="0.36" fill="#8d6e4c" opacity="0.44"/><circle cx="509.2" cy="678.7" r="0.38" fill="#8d6e4c" opacity="0.44"/><circle cx="509.0" cy="678.6" r="0.68" fill="#8d6e4c" opacity="0.44"/><circle cx="509.5" cy="685.0" r="0.54" fill="#8d6e4c" opacity="0.52"/><circle cx="508.7" cy="684.5" r="0.37" fill="#8d6e4c" opacity="0.52"/><circle cx="507.8" cy="684.4" r="0.44" fill="#8d6e4c" opacity="0.52"/><circle cx="508.6" cy="685.3" r="0.70" fill="#8d6e4c" opacity="0.52"/><circle cx="507.9" cy="684.7" r="0.68" fill="#8d6e4c" opacity="0.52"/><circle cx="508.7" cy="684.9" r="0.50" fill="#8d6e4c" opacity="0.52"/><circle cx="464.5" cy="679.0" r="0.67" fill="#8d6e4c" opacity="0.46"/><circle cx="464.7" cy="682.1" r="0.48" fill="#8d6e4c" opacity="0.46"/><circle cx="464.1" cy="679.6" r="0.50" fill="#8d6e4c" opacity="0.46"/><circle cx="464.9" cy="682.2" r="0.35" fill="#8d6e4c" opacity="0.46"/><circle cx="464.5" cy="681.4" r="0.64" fill="#8d6e4c" opacity="0.46"/><circle cx="543.1" cy="664.2" r="0.67" fill="#8d6e4c" opacity="0.46"/><circle cx="542.9" cy="664.2" r="0.74" fill="#8d6e4c" opacity="0.46"/><circle cx="542.3" cy="665.4" r="0.60" fill="#8d6e4c" opacity="0.46"/><circle cx="542.5" cy="664.3" r="0.61" fill="#8d6e4c" opacity="0.46"/><circle cx="541.8" cy="666.1" r="0.44" fill="#8d6e4c" opacity="0.46"/><circle cx="542.8" cy="665.1" r="0.46" fill="#8d6e4c" opacity="0.46"/><circle cx="521.6" cy="689.7" r="0.51" fill="#8d6e4c" opacity="0.51"/><circle cx="522.9" cy="689.7" r="0.47" fill="#8d6e4c" opacity="0.51"/><circle cx="521.2" cy="689.6" r="0.46" fill="#8d6e4c" opacity="0.51"/><circle cx="521.3" cy="689.9" r="0.70" fill="#8d6e4c" opacity="0.51"/><circle cx="522.5" cy="690.1" r="0.64" fill="#8d6e4c" opacity="0.51"/><circle cx="521.5" cy="689.9" r="0.60" fill="#8d6e4c" opacity="0.51"/><circle cx="519.9" cy="689.3" r="0.36" fill="#8d6e4c" opacity="0.51"/><circle cx="484.4" cy="658.1" r="0.40" fill="#8d6e4c" opacity="0.40"/><circle cx="485.8" cy="658.6" r="0.39" fill="#8d6e4c" opacity="0.40"/><circle cx="483.4" cy="657.2" r="0.62" fill="#8d6e4c" opacity="0.40"/><circle cx="481.1" cy="656.7" r="0.56" fill="#8d6e4c" opacity="0.40"/><circle cx="485.2" cy="658.2" r="0.66" fill="#8d6e4c" opacity="0.40"/><circle cx="483.3" cy="657.2" r="0.69" fill="#8d6e4c" opacity="0.40"/><circle cx="482.0" cy="657.0" r="0.48" fill="#8d6e4c" opacity="0.40"/><circle cx="544.3" cy="662.7" r="0.50" fill="#8d6e4c" opacity="0.45"/><circle cx="542.9" cy="662.6" r="0.72" fill="#8d6e4c" opacity="0.45"/><circle cx="543.9" cy="662.4" r="0.44" fill="#8d6e4c" opacity="0.45"/><circle cx="542.3" cy="662.6" r="0.45" fill="#8d6e4c" opacity="0.45"/><circle cx="542.5" cy="662.5" r="0.54" fill="#8d6e4c" opacity="0.45"/><circle cx="542.3" cy="662.4" r="0.73" fill="#8d6e4c" opacity="0.45"/><circle cx="544.0" cy="662.4" r="0.64" fill="#8d6e4c" opacity="0.45"/><circle cx="552.8" cy="677.6" r="0.75" fill="#8d6e4c" opacity="0.54"/><circle cx="549.4" cy="679.9" r="0.39" fill="#8d6e4c" opacity="0.54"/><circle cx="548.9" cy="679.9" r="0.63" fill="#8d6e4c" opacity="0.54"/><circle cx="550.2" cy="679.3" r="0.73" fill="#8d6e4c" opacity="0.54"/><circle cx="528.3" cy="658.9" r="0.72" fill="#8d6e4c" opacity="0.41"/><circle cx="530.0" cy="654.5" r="0.48" fill="#8d6e4c" opacity="0.41"/><circle cx="529.3" cy="654.4" r="0.57" fill="#8d6e4c" opacity="0.41"/><circle cx="529.7" cy="656.6" r="0.38" fill="#8d6e4c" opacity="0.41"/><circle cx="529.4" cy="655.2" r="0.67" fill="#8d6e4c" opacity="0.41"/><circle cx="529.3" cy="658.2" r="0.57" fill="#8d6e4c" opacity="0.41"/><circle cx="529.2" cy="658.3" r="0.70" fill="#8d6e4c" opacity="0.41"/><circle cx="507.5" cy="658.5" r="0.52" fill="#8d6e4c" opacity="0.59"/><circle cx="506.8" cy="658.9" r="0.64" fill="#8d6e4c" opacity="0.59"/><circle cx="507.2" cy="658.2" r="0.74" fill="#8d6e4c" opacity="0.59"/><circle cx="506.3" cy="660.4" r="0.61" fill="#8d6e4c" opacity="0.59"/><circle cx="505.3" cy="661.4" r="0.46" fill="#8d6e4c" opacity="0.59"/><circle cx="506.3" cy="660.2" r="0.71" fill="#8d6e4c" opacity="0.59"/><circle cx="506.5" cy="658.4" r="0.38" fill="#8d6e4c" opacity="0.59"/><circle cx="477.2" cy="658.9" r="0.53" fill="#8d6e4c" opacity="0.46"/><circle cx="477.2" cy="659.2" r="0.62" fill="#8d6e4c" opacity="0.46"/><circle cx="477.0" cy="660.2" r="0.47" fill="#8d6e4c" opacity="0.46"/><circle cx="478.3" cy="658.3" r="0.75" fill="#8d6e4c" opacity="0.46"/><circle cx="524.6" cy="662.5" r="0.46" fill="#8d6e4c" opacity="0.46"/><circle cx="524.5" cy="663.1" r="0.71" fill="#8d6e4c" opacity="0.46"/><circle cx="525.0" cy="662.5" r="0.49" fill="#8d6e4c" opacity="0.46"/><circle cx="525.3" cy="663.0" r="0.55" fill="#8d6e4c" opacity="0.46"/><circle cx="524.7" cy="662.8" r="0.40" fill="#8d6e4c" opacity="0.46"/><circle cx="523.8" cy="662.6" r="0.71" fill="#8d6e4c" opacity="0.46"/><circle cx="525.1" cy="663.4" r="0.73" fill="#8d6e4c" opacity="0.46"/><circle cx="489.6" cy="682.2" r="0.50" fill="#8d6e4c" opacity="0.56"/><circle cx="487.5" cy="682.4" r="0.36" fill="#8d6e4c" opacity="0.56"/><circle cx="489.3" cy="682.3" r="0.64" fill="#8d6e4c" opacity="0.56"/><circle cx="491.4" cy="682.4" r="0.62" fill="#8d6e4c" opacity="0.56"/><circle cx="490.0" cy="682.4" r="0.69" fill="#8d6e4c" opacity="0.56"/><circle cx="488.4" cy="681.8" r="0.37" fill="#8d6e4c" opacity="0.56"/><circle cx="457.9" cy="675.1" r="0.59" fill="#8d6e4c" opacity="0.57"/><circle cx="458.5" cy="674.7" r="0.50" fill="#8d6e4c" opacity="0.57"/><circle cx="455.7" cy="676.5" r="0.66" fill="#8d6e4c" opacity="0.57"/><circle cx="458.0" cy="675.5" r="0.72" fill="#8d6e4c" opacity="0.57"/><circle cx="458.0" cy="675.6" r="0.52" fill="#8d6e4c" opacity="0.57"/><circle cx="455.9" cy="676.3" r="0.58" fill="#8d6e4c" opacity="0.57"/><circle cx="456.7" cy="675.9" r="0.73" fill="#8d6e4c" opacity="0.57"/><circle cx="492.9" cy="659.2" r="0.48" fill="#8d6e4c" opacity="0.52"/><circle cx="496.5" cy="662.9" r="0.60" fill="#8d6e4c" opacity="0.52"/><circle cx="496.1" cy="662.7" r="0.65" fill="#8d6e4c" opacity="0.52"/><circle cx="494.1" cy="660.5" r="0.58" fill="#8d6e4c" opacity="0.52"/><circle cx="491.8" cy="659.2" r="0.38" fill="#8d6e4c" opacity="0.52"/><circle cx="492.8" cy="659.7" r="0.74" fill="#8d6e4c" opacity="0.52"/><circle cx="495.3" cy="662.2" r="0.56" fill="#8d6e4c" opacity="0.52"/><circle cx="460.5" cy="660.5" r="0.40" fill="#8d6e4c" opacity="0.49"/><circle cx="460.4" cy="661.1" r="0.50" fill="#8d6e4c" opacity="0.49"/><circle cx="461.0" cy="660.2" r="0.64" fill="#8d6e4c" opacity="0.49"/><circle cx="460.2" cy="661.3" r="0.70" fill="#8d6e4c" opacity="0.49"/><circle cx="452.6" cy="686.8" r="0.44" fill="#8d6e4c" opacity="0.46"/><circle cx="454.3" cy="687.2" r="0.73" fill="#8d6e4c" opacity="0.46"/><circle cx="454.6" cy="687.5" r="0.71" fill="#8d6e4c" opacity="0.46"/><circle cx="451.2" cy="687.3" r="0.51" fill="#8d6e4c" opacity="0.46"/><circle cx="452.4" cy="687.4" r="0.35" fill="#8d6e4c" opacity="0.46"/><circle cx="454.0" cy="687.5" r="0.61" fill="#8d6e4c" opacity="0.46"/><circle cx="479.2" cy="679.7" r="0.41" fill="#8d6e4c" opacity="0.55"/><circle cx="479.6" cy="678.3" r="0.44" fill="#8d6e4c" opacity="0.55"/><circle cx="478.7" cy="679.2" r="0.56" fill="#8d6e4c" opacity="0.55"/><circle cx="478.6" cy="679.6" r="0.72" fill="#8d6e4c" opacity="0.55"/><circle cx="511.0" cy="687.7" r="0.62" fill="#8d6e4c" opacity="0.56"/><circle cx="508.9" cy="688.9" r="0.52" fill="#8d6e4c" opacity="0.56"/><circle cx="511.4" cy="686.5" r="0.53" fill="#8d6e4c" opacity="0.56"/><circle cx="509.0" cy="689.6" r="0.58" fill="#8d6e4c" opacity="0.56"/><circle cx="533.6" cy="655.7" r="0.48" fill="#8d6e4c" opacity="0.54"/><circle cx="533.6" cy="657.2" r="0.71" fill="#8d6e4c" opacity="0.54"/><circle cx="534.3" cy="659.4" r="0.57" fill="#8d6e4c" opacity="0.54"/><circle cx="534.4" cy="659.7" r="0.54" fill="#8d6e4c" opacity="0.54"/><circle cx="473.7" cy="671.1" r="0.46" fill="#8d6e4c" opacity="0.59"/><circle cx="473.8" cy="671.8" r="0.56" fill="#8d6e4c" opacity="0.59"/><circle cx="471.6" cy="672.2" r="0.68" fill="#8d6e4c" opacity="0.59"/><circle cx="472.3" cy="672.6" r="0.61" fill="#8d6e4c" opacity="0.59"/><circle cx="472.1" cy="672.5" r="0.44" fill="#8d6e4c" opacity="0.59"/><ellipse cx="551.1" cy="690.4" rx="0.48" ry="0.37" fill="#8d6f50" opacity="0.22"/><ellipse cx="538.5" cy="682.6" rx="0.80" ry="0.62" fill="#8d6f50" opacity="0.26"/><ellipse cx="514.5" cy="677.9" rx="0.76" ry="0.58" fill="#8d6f50" opacity="0.23"/><ellipse cx="496.1" cy="670.1" rx="0.83" ry="0.64" fill="#8d6f50" opacity="0.40"/><ellipse cx="550.4" cy="675.6" rx="0.69" ry="0.53" fill="#8d6f50" opacity="0.25"/><ellipse cx="454.9" cy="656.7" rx="0.70" ry="0.54" fill="#8d6f50" opacity="0.26"/><ellipse cx="490.8" cy="688.3" rx="0.73" ry="0.56" fill="#8d6f50" opacity="0.31"/><ellipse cx="475.8" cy="656.6" rx="0.62" ry="0.48" fill="#8d6f50" opacity="0.23"/><ellipse cx="504.5" cy="692.3" rx="0.81" ry="0.62" fill="#8d6f50" opacity="0.24"/><ellipse cx="544.6" cy="684.9" rx="0.84" ry="0.64" fill="#8d6f50" opacity="0.38"/><ellipse cx="530.9" cy="684.6" rx="0.64" ry="0.49" fill="#8d6f50" opacity="0.40"/><ellipse cx="551.7" cy="661.6" rx="0.85" ry="0.65" fill="#8d6f50" opacity="0.34"/><ellipse cx="499.4" cy="675.1" rx="0.71" ry="0.55" fill="#8d6f50" opacity="0.38"/><ellipse cx="503.5" cy="686.1" rx="0.64" ry="0.49" fill="#8d6f50" opacity="0.38"/><ellipse cx="545.2" cy="672.6" rx="0.75" ry="0.58" fill="#8d6f50" opacity="0.38"/><ellipse cx="526.8" cy="673.5" rx="0.57" ry="0.44" fill="#8d6f50" opacity="0.26"/><ellipse cx="524.3" cy="661.8" rx="0.93" ry="0.71" fill="#8d6f50" opacity="0.25"/><ellipse cx="546.4" cy="667.0" rx="0.95" ry="0.73" fill="#8d6f50" opacity="0.34"/><ellipse cx="503.8" cy="674.6" rx="0.79" ry="0.61" fill="#8d6f50" opacity="0.32"/><ellipse cx="483.7" cy="663.3" rx="0.72" ry="0.55" fill="#8d6f50" opacity="0.39"/><ellipse cx="516.3" cy="658.5" rx="0.88" ry="0.68" fill="#8d6f50" opacity="0.35"/><ellipse cx="546.0" cy="662.7" rx="0.84" ry="0.65" fill="#8d6f50" opacity="0.21"/><ellipse cx="519.4" cy="665.7" rx="0.57" ry="0.44" fill="#8d6f50" opacity="0.38"/><ellipse cx="462.2" cy="674.8" rx="0.90" ry="0.69" fill="#8d6f50" opacity="0.25"/><ellipse cx="473.1" cy="687.9" rx="0.67" ry="0.52" fill="#8d6f50" opacity="0.34"/><ellipse cx="454.4" cy="669.0" rx="0.54" ry="0.42" fill="#8d6f50" opacity="0.33"/><ellipse cx="459.8" cy="690.6" rx="0.47" ry="0.36" fill="#8d6f50" opacity="0.35"/><ellipse cx="453.3" cy="665.1" rx="0.88" ry="0.68" fill="#8d6f50" opacity="0.23"/><ellipse cx="470.3" cy="681.0" rx="0.66" ry="0.50" fill="#8d6f50" opacity="0.21"/><ellipse cx="554.7" cy="661.2" rx="0.47" ry="0.36" fill="#8d6f50" opacity="0.27"/><ellipse cx="515.5" cy="682.9" rx="0.51" ry="0.40" fill="#8d6f50" opacity="0.27"/><ellipse cx="454.3" cy="672.1" rx="0.85" ry="0.66" fill="#8d6f50" opacity="0.35"/><ellipse cx="545.5" cy="683.4" rx="0.90" ry="0.69" fill="#8d6f50" opacity="0.34"/><ellipse cx="500.6" cy="664.0" rx="0.80" ry="0.61" fill="#8d6f50" opacity="0.26"/><ellipse cx="461.8" cy="672.1" rx="0.91" ry="0.70" fill="#8d6f50" opacity="0.23"/><ellipse cx="512.3" cy="670.1" rx="0.72" ry="0.56" fill="#8d6f50" opacity="0.23"/><ellipse cx="551.5" cy="665.2" rx="0.77" ry="0.59" fill="#8d6f50" opacity="0.28"/><ellipse cx="453.0" cy="676.1" rx="0.53" ry="0.41" fill="#8d6f50" opacity="0.21"/><ellipse cx="454.6" cy="661.6" rx="0.50" ry="0.39" fill="#8d6f50" opacity="0.33"/><ellipse cx="504.3" cy="691.7" rx="0.94" ry="0.72" fill="#8d6f50" opacity="0.40"/><ellipse cx="475.4" cy="672.0" rx="0.59" ry="0.45" fill="#8d6f50" opacity="0.32"/><ellipse cx="516.4" cy="685.0" rx="0.82" ry="0.63" fill="#8d6f50" opacity="0.25"/><ellipse cx="495.3" cy="675.0" rx="0.46" ry="0.35" fill="#8d6f50" opacity="0.21"/><ellipse cx="493.9" cy="659.8" rx="0.83" ry="0.64" fill="#8d6f50" opacity="0.25"/><ellipse cx="461.5" cy="662.4" rx="0.58" ry="0.44" fill="#8d6f50" opacity="0.24"/><ellipse cx="505.6" cy="672.7" rx="0.62" ry="0.47" fill="#8d6f50" opacity="0.33"/><ellipse cx="473.3" cy="688.9" rx="0.96" ry="0.74" fill="#8d6f50" opacity="0.35"/><ellipse cx="496.5" cy="674.4" rx="0.76" ry="0.58" fill="#8d6f50" opacity="0.21"/><ellipse cx="494.8" cy="674.9" rx="0.55" ry="0.42" fill="#8d6f50" opacity="0.22"/><ellipse cx="535.1" cy="669.1" rx="0.72" ry="0.56" fill="#8d6f50" opacity="0.38"/><path d="M449.6,693.8 L452.6,698.8 L449.6,698.8 Z" fill="#1a1a1a"/><path d="M557.2,694.8 L554.7,698.8 L557.2,698.8 Z" fill="#1a1a1a"/><rect x="449.90000000000003" y="646.5" width="107.00" height="52.00" fill="none" stroke="#b3ab9f" stroke-width="0.6"/><text x="450.89" y="653.50" font-size="9.34" font-weight="bold" fill="#1f3048">Inlet</text><text x="527.22" y="653.50" font-size="9.38" font-weight="bold" fill="#1f3048">Outlet</text><rect x="563.4" y="591.5" width="107.30" height="52.90" fill="url(#kg2)"/><rect x="563.4" y="591.5" width="107.30" height="1.6" fill="#cbb99a" opacity="0.8"/><line x1="590.00" y1="592.60" x2="670.70" y2="597.20" stroke="#6f6a60" stroke-width="0.6"/><line x1="563.40" y1="640.50" x2="670.70" y2="641.20" stroke="#a09580" stroke-width="0.5"/><ellipse cx="589.7" cy="621.2" rx="0.67" ry="0.52" fill="#8a6a48" opacity="0.27"/><ellipse cx="630.2" cy="602.5" rx="0.46" ry="0.36" fill="#8a6a48" opacity="0.32"/><ellipse cx="592.0" cy="609.1" rx="1.04" ry="0.80" fill="#8a6a48" opacity="0.24"/><ellipse cx="652.1" cy="618.5" rx="0.83" ry="0.64" fill="#8a6a48" opacity="0.18"/><ellipse cx="631.1" cy="633.8" rx="0.76" ry="0.59" fill="#8a6a48" opacity="0.30"/><ellipse cx="634.9" cy="602.5" rx="0.90" ry="0.69" fill="#8a6a48" opacity="0.27"/><ellipse cx="596.3" cy="601.2" rx="0.96" ry="0.74" fill="#8a6a48" opacity="0.24"/><ellipse cx="639.9" cy="634.2" rx="0.87" ry="0.67" fill="#8a6a48" opacity="0.33"/><ellipse cx="606.1" cy="631.2" rx="0.72" ry="0.55" fill="#8a6a48" opacity="0.34"/><ellipse cx="656.6" cy="603.8" rx="0.53" ry="0.41" fill="#8a6a48" opacity="0.19"/><ellipse cx="665.6" cy="617.0" rx="0.82" ry="0.63" fill="#8a6a48" opacity="0.21"/><ellipse cx="617.8" cy="615.0" rx="0.66" ry="0.51" fill="#8a6a48" opacity="0.27"/><ellipse cx="625.8" cy="635.2" rx="0.85" ry="0.66" fill="#8a6a48" opacity="0.34"/><ellipse cx="654.2" cy="638.5" rx="0.85" ry="0.65" fill="#8a6a48" opacity="0.18"/><ellipse cx="654.7" cy="637.5" rx="0.98" ry="0.76" fill="#8a6a48" opacity="0.26"/><ellipse cx="639.4" cy="608.2" rx="0.94" ry="0.72" fill="#8a6a48" opacity="0.26"/><ellipse cx="594.6" cy="602.5" rx="0.95" ry="0.73" fill="#8a6a48" opacity="0.35"/><ellipse cx="574.1" cy="631.1" rx="0.70" ry="0.53" fill="#8a6a48" opacity="0.18"/><ellipse cx="595.6" cy="629.9" rx="0.97" ry="0.74" fill="#8a6a48" opacity="0.16"/><ellipse cx="629.0" cy="601.7" rx="0.88" ry="0.67" fill="#8a6a48" opacity="0.22"/><ellipse cx="656.8" cy="638.1" rx="0.75" ry="0.58" fill="#8a6a48" opacity="0.35"/><ellipse cx="597.2" cy="603.0" rx="0.81" ry="0.62" fill="#8a6a48" opacity="0.16"/><ellipse cx="585.5" cy="615.9" rx="0.81" ry="0.62" fill="#8a6a48" opacity="0.18"/><ellipse cx="569.3" cy="633.8" rx="0.64" ry="0.49" fill="#8a6a48" opacity="0.34"/><ellipse cx="658.4" cy="614.7" rx="0.72" ry="0.56" fill="#8a6a48" opacity="0.25"/><ellipse cx="632.1" cy="623.2" rx="0.78" ry="0.60" fill="#8a6a48" opacity="0.27"/><ellipse cx="663.0" cy="619.7" rx="0.71" ry="0.54" fill="#8a6a48" opacity="0.29"/><ellipse cx="589.7" cy="611.7" rx="1.03" ry="0.79" fill="#8a6a48" opacity="0.25"/><ellipse cx="622.1" cy="600.4" rx="0.70" ry="0.54" fill="#8a6a48" opacity="0.27"/><ellipse cx="567.0" cy="624.0" rx="0.82" ry="0.63" fill="#8a6a48" opacity="0.16"/><ellipse cx="630.3" cy="618.1" rx="0.85" ry="0.66" fill="#8a6a48" opacity="0.22"/><ellipse cx="638.6" cy="628.7" rx="0.47" ry="0.36" fill="#8a6a48" opacity="0.16"/><ellipse cx="635.4" cy="637.5" rx="0.60" ry="0.46" fill="#8a6a48" opacity="0.24"/><ellipse cx="626.7" cy="612.4" rx="0.67" ry="0.51" fill="#8a6a48" opacity="0.21"/><ellipse cx="603.4" cy="623.2" rx="0.63" ry="0.49" fill="#8a6a48" opacity="0.23"/><ellipse cx="645.4" cy="601.0" rx="0.79" ry="0.61" fill="#8a6a48" opacity="0.30"/><ellipse cx="597.2" cy="608.7" rx="0.93" ry="0.71" fill="#8a6a48" opacity="0.20"/><ellipse cx="584.4" cy="616.9" rx="0.86" ry="0.66" fill="#8a6a48" opacity="0.17"/><ellipse cx="598.5" cy="613.0" rx="0.94" ry="0.73" fill="#8a6a48" opacity="0.24"/><ellipse cx="654.1" cy="606.6" rx="0.65" ry="0.50" fill="#8a6a48" opacity="0.28"/><circle cx="570.8" cy="609.8" r="1.19" fill="#857664" opacity="0.44"/><circle cx="570.3" cy="610.9" r="1.03" fill="#857664" opacity="0.45"/><circle cx="571.6" cy="613.0" r="1.46" fill="#857664" opacity="0.33"/><circle cx="566.7" cy="609.0" r="1.21" fill="#857664" opacity="0.50"/><circle cx="569.9" cy="610.1" r="1.74" fill="#857664" opacity="0.38"/><circle cx="570.2" cy="612.3" r="1.16" fill="#857664" opacity="0.49"/><circle cx="569.9" cy="611.9" r="1.38" fill="#857664" opacity="0.41"/><circle cx="573.1" cy="608.4" r="1.16" fill="#857664" opacity="0.34"/><circle cx="571.6" cy="605.6" r="0.83" fill="#857664" opacity="0.45"/><circle cx="571.7" cy="606.8" r="1.02" fill="#857664" opacity="0.46"/><circle cx="569.2" cy="607.6" r="1.44" fill="#857664" opacity="0.34"/><circle cx="571.8" cy="610.4" r="1.13" fill="#857664" opacity="0.38"/><circle cx="567.1" cy="606.2" r="1.76" fill="#857664" opacity="0.50"/><circle cx="573.1" cy="609.5" r="1.11" fill="#857664" opacity="0.34"/><circle cx="567.2" cy="607.2" r="1.47" fill="#857664" opacity="0.32"/><circle cx="570.8" cy="614.0" r="1.40" fill="#857664" opacity="0.44"/><circle cx="571.6" cy="611.4" r="1.71" fill="#857664" opacity="0.43"/><circle cx="571.3" cy="609.6" r="1.25" fill="#857664" opacity="0.46"/><circle cx="579.3" cy="609.6" r="1.10" fill="#8a7a66" opacity="0.38"/><circle cx="577.2" cy="609.3" r="0.90" fill="#8a7a66" opacity="0.32"/><circle cx="579.2" cy="608.3" r="1.74" fill="#8a7a66" opacity="0.38"/><circle cx="578.6" cy="609.3" r="1.56" fill="#8a7a66" opacity="0.26"/><circle cx="580.0" cy="609.4" r="1.64" fill="#8a7a66" opacity="0.37"/><circle cx="592.3" cy="603.0" r="1.62" fill="#8d7a62" opacity="0.25"/><circle cx="592.6" cy="602.3" r="1.71" fill="#8d7a62" opacity="0.24"/><circle cx="592.8" cy="602.5" r="1.30" fill="#8d7a62" opacity="0.35"/><circle cx="592.4" cy="603.3" r="1.74" fill="#8d7a62" opacity="0.30"/><circle cx="593.2" cy="604.3" r="1.30" fill="#8d7a62" opacity="0.22"/><circle cx="620.1" cy="603.8" r="1.64" fill="#9a8468" opacity="0.34"/><circle cx="621.5" cy="603.5" r="1.75" fill="#9a8468" opacity="0.27"/><circle cx="620.9" cy="604.3" r="1.31" fill="#9a8468" opacity="0.23"/><circle cx="620.9" cy="604.9" r="1.58" fill="#9a8468" opacity="0.32"/><circle cx="622.2" cy="629.3" r="0.72" fill="#8d6e4c" opacity="0.24"/><circle cx="622.4" cy="628.7" r="0.58" fill="#8d6e4c" opacity="0.24"/><circle cx="621.4" cy="630.0" r="0.35" fill="#8d6e4c" opacity="0.24"/><circle cx="640.8" cy="614.6" r="0.58" fill="#8d6e4c" opacity="0.21"/><circle cx="639.8" cy="614.5" r="0.58" fill="#8d6e4c" opacity="0.21"/><circle cx="635.1" cy="605.0" r="0.59" fill="#8d6e4c" opacity="0.32"/><circle cx="634.3" cy="606.5" r="0.71" fill="#8d6e4c" opacity="0.32"/><circle cx="634.7" cy="606.0" r="0.39" fill="#8d6e4c" opacity="0.32"/><circle cx="604.3" cy="631.8" r="0.73" fill="#8d6e4c" opacity="0.24"/><circle cx="603.8" cy="631.9" r="0.36" fill="#8d6e4c" opacity="0.24"/><circle cx="637.3" cy="619.8" r="0.65" fill="#8d6e4c" opacity="0.28"/><circle cx="637.5" cy="620.0" r="0.64" fill="#8d6e4c" opacity="0.28"/><circle cx="593.8" cy="619.4" r="0.69" fill="#8d6e4c" opacity="0.27"/><circle cx="594.6" cy="620.6" r="0.50" fill="#8d6e4c" opacity="0.27"/><circle cx="612.1" cy="624.5" r="0.39" fill="#8d6e4c" opacity="0.34"/><circle cx="612.4" cy="624.1" r="0.52" fill="#8d6e4c" opacity="0.34"/><circle cx="611.8" cy="622.9" r="0.36" fill="#8d6e4c" opacity="0.34"/><circle cx="629.2" cy="635.0" r="0.64" fill="#8d6e4c" opacity="0.32"/><circle cx="628.2" cy="635.3" r="0.73" fill="#8d6e4c" opacity="0.32"/><circle cx="586.8" cy="608.8" r="0.39" fill="#8d6e4c" opacity="0.32"/><circle cx="586.1" cy="609.2" r="0.63" fill="#8d6e4c" opacity="0.32"/><circle cx="586.5" cy="609.6" r="0.69" fill="#8d6e4c" opacity="0.32"/><circle cx="591.4" cy="628.1" r="0.40" fill="#8d6e4c" opacity="0.21"/><circle cx="592.7" cy="628.2" r="0.60" fill="#8d6e4c" opacity="0.21"/><rect x="563.6999999999999" y="591.8" width="106.70" height="52.30" fill="none" stroke="#b3ab9f" stroke-width="0.6"/><text x="564.69" y="598.80" font-size="9.34" font-weight="bold" fill="#1f3048">Inlet</text><text x="640.72" y="598.80" font-size="9.38" font-weight="bold" fill="#1f3048">Outlet</text><rect x="563.4" y="646.2" width="107.30" height="52.60" fill="url(#kg2)"/><rect x="563.4" y="646.2" width="107.30" height="1.6" fill="#cbb99a" opacity="0.8"/><line x1="563.40" y1="693.30" x2="670.70" y2="697.80" stroke="#5f5a52" stroke-width="0.6"/><line x1="563.40" y1="647.50" x2="620.00" y2="648.50" stroke="#a09580" stroke-width="0.5"/><ellipse cx="589.5" cy="658.7" rx="0.69" ry="0.53" fill="#8a6a48" opacity="0.18"/><ellipse cx="571.8" cy="670.2" rx="0.99" ry="0.76" fill="#8a6a48" opacity="0.31"/><ellipse cx="644.7" cy="663.3" rx="0.77" ry="0.59" fill="#8a6a48" opacity="0.21"/><ellipse cx="582.9" cy="658.8" rx="0.58" ry="0.45" fill="#8a6a48" opacity="0.34"/><ellipse cx="651.4" cy="685.8" rx="0.92" ry="0.71" fill="#8a6a48" opacity="0.19"/><ellipse cx="597.2" cy="678.9" rx="0.88" ry="0.68" fill="#8a6a48" opacity="0.32"/><ellipse cx="656.7" cy="658.0" rx="0.81" ry="0.62" fill="#8a6a48" opacity="0.28"/><ellipse cx="617.7" cy="661.6" rx="0.73" ry="0.56" fill="#8a6a48" opacity="0.17"/><ellipse cx="662.4" cy="688.1" rx="0.78" ry="0.60" fill="#8a6a48" opacity="0.21"/><ellipse cx="659.7" cy="676.8" rx="0.97" ry="0.75" fill="#8a6a48" opacity="0.32"/><ellipse cx="617.9" cy="670.7" rx="0.81" ry="0.62" fill="#8a6a48" opacity="0.24"/><ellipse cx="581.7" cy="666.5" rx="0.93" ry="0.72" fill="#8a6a48" opacity="0.16"/><ellipse cx="569.7" cy="678.9" rx="0.62" ry="0.48" fill="#8a6a48" opacity="0.26"/><ellipse cx="614.1" cy="667.9" rx="1.04" ry="0.80" fill="#8a6a48" opacity="0.19"/><ellipse cx="608.0" cy="662.5" rx="0.83" ry="0.63" fill="#8a6a48" opacity="0.21"/><ellipse cx="602.0" cy="683.5" rx="0.64" ry="0.49" fill="#8a6a48" opacity="0.26"/><ellipse cx="659.2" cy="658.6" rx="0.49" ry="0.38" fill="#8a6a48" opacity="0.20"/><ellipse cx="644.7" cy="678.5" rx="0.59" ry="0.46" fill="#8a6a48" opacity="0.22"/><ellipse cx="583.4" cy="672.4" rx="0.48" ry="0.37" fill="#8a6a48" opacity="0.29"/><ellipse cx="658.3" cy="691.6" rx="0.88" ry="0.68" fill="#8a6a48" opacity="0.34"/><ellipse cx="566.8" cy="665.9" rx="1.02" ry="0.78" fill="#8a6a48" opacity="0.31"/><ellipse cx="607.7" cy="691.1" rx="0.82" ry="0.63" fill="#8a6a48" opacity="0.31"/><ellipse cx="595.5" cy="662.1" rx="0.71" ry="0.55" fill="#8a6a48" opacity="0.18"/><ellipse cx="604.7" cy="691.8" rx="0.65" ry="0.50" fill="#8a6a48" opacity="0.15"/><ellipse cx="569.6" cy="661.2" rx="0.91" ry="0.70" fill="#8a6a48" opacity="0.22"/><ellipse cx="595.2" cy="658.4" rx="1.03" ry="0.79" fill="#8a6a48" opacity="0.23"/><circle cx="569.9" cy="661.0" r="0.58" fill="#8d6e4c" opacity="0.37"/><circle cx="570.8" cy="661.5" r="0.53" fill="#8d6e4c" opacity="0.37"/><circle cx="568.6" cy="660.4" r="0.42" fill="#8d6e4c" opacity="0.37"/><circle cx="572.0" cy="672.4" r="0.64" fill="#8d6e4c" opacity="0.26"/><circle cx="570.4" cy="671.4" r="0.72" fill="#8d6e4c" opacity="0.26"/><circle cx="572.3" cy="671.7" r="0.48" fill="#8d6e4c" opacity="0.26"/><circle cx="570.4" cy="671.1" r="0.36" fill="#8d6e4c" opacity="0.42"/><circle cx="571.9" cy="671.6" r="0.38" fill="#8d6e4c" opacity="0.42"/><circle cx="570.4" cy="670.8" r="0.56" fill="#8d6e4c" opacity="0.42"/><circle cx="570.1" cy="655.0" r="0.69" fill="#8d6e4c" opacity="0.29"/><circle cx="570.7" cy="655.1" r="0.71" fill="#8d6e4c" opacity="0.29"/><circle cx="570.9" cy="674.8" r="0.64" fill="#8d6e4c" opacity="0.37"/><circle cx="570.4" cy="674.7" r="0.74" fill="#8d6e4c" opacity="0.37"/><circle cx="569.2" cy="660.9" r="0.47" fill="#8d6e4c" opacity="0.43"/><circle cx="569.0" cy="660.1" r="0.44" fill="#8d6e4c" opacity="0.43"/><circle cx="569.6" cy="659.4" r="0.75" fill="#8d6e4c" opacity="0.43"/><circle cx="570.7" cy="672.8" r="0.43" fill="#8d6e4c" opacity="0.33"/><circle cx="570.6" cy="672.4" r="0.46" fill="#8d6e4c" opacity="0.33"/><circle cx="570.3" cy="659.5" r="0.37" fill="#8d6e4c" opacity="0.28"/><circle cx="569.8" cy="659.1" r="0.51" fill="#8d6e4c" opacity="0.28"/><circle cx="629.3" cy="692.9" r="1.08" fill="#7d6a52" opacity="0.34"/><circle cx="629.4" cy="692.2" r="1.69" fill="#7d6a52" opacity="0.32"/><circle cx="629.2" cy="693.1" r="1.02" fill="#7d6a52" opacity="0.40"/><circle cx="630.3" cy="693.1" r="1.45" fill="#7d6a52" opacity="0.41"/><circle cx="629.8" cy="693.8" r="1.61" fill="#7d6a52" opacity="0.30"/><circle cx="630.0" cy="692.2" r="1.14" fill="#7d6a52" opacity="0.33"/><circle cx="579.8" cy="650.2" r="0.94" fill="#8d7a62" opacity="0.31"/><circle cx="578.6" cy="649.4" r="1.25" fill="#8d7a62" opacity="0.32"/><circle cx="579.7" cy="650.1" r="1.17" fill="#8d7a62" opacity="0.38"/><rect x="563.6999999999999" y="646.5" width="106.70" height="52.00" fill="none" stroke="#b3ab9f" stroke-width="0.6"/><text x="564.69" y="653.50" font-size="9.34" font-weight="bold" fill="#1f3048">Inlet</text><text x="640.72" y="653.50" font-size="9.38" font-weight="bold" fill="#1f3048">Outlet</text><text x="422.52" y="628.60" font-size="13.67" fill="#222">2h</text><text x="423.72" y="676.50" font-size="13.57" fill="#222">6h</text><text x="457.07" y="710.20" font-size="10.43" fill="#222">Heavy agglutination</text><text x="575.07" y="710.20" font-size="10.40" fill="#222">Less agglutination</text><text x="81.32" y="776.80" font-size="15.96" fill="#1a1a1a">L</text><rect x="104.8" y="771.4" width="121.70" height="57.40" fill="url(#lg1)"/><rect x="104.8" y="771.4" width="121.70" height="7.4" fill="#cfc8a6" opacity="0.45"/><rect x="104.8" y="823.00" width="121.70" height="5.8" fill="#d6cfb0" opacity="0.45"/><line x1="104.80" y1="778.80" x2="226.50" y2="779.30" stroke="#9a9686" stroke-width="0.55"/><line x1="104.80" y1="823.20" x2="226.50" y2="822.20" stroke="#5d6058" stroke-width="0.65"/><ellipse cx="160.0" cy="803.3" rx="0.81" ry="0.62" fill="#8e8a78" opacity="0.28"/><ellipse cx="166.6" cy="804.4" rx="0.47" ry="0.36" fill="#8e8a78" opacity="0.29"/><ellipse cx="181.1" cy="812.4" rx="0.43" ry="0.33" fill="#8e8a78" opacity="0.25"/><ellipse cx="117.1" cy="813.1" rx="0.71" ry="0.54" fill="#8e8a78" opacity="0.19"/><ellipse cx="222.9" cy="819.1" rx="0.69" ry="0.53" fill="#8e8a78" opacity="0.32"/><ellipse cx="125.0" cy="782.1" rx="0.63" ry="0.48" fill="#8e8a78" opacity="0.19"/><ellipse cx="128.9" cy="790.9" rx="0.40" ry="0.31" fill="#8e8a78" opacity="0.28"/><ellipse cx="158.6" cy="814.4" rx="0.63" ry="0.48" fill="#8e8a78" opacity="0.32"/><ellipse cx="165.6" cy="807.3" rx="0.60" ry="0.46" fill="#8e8a78" opacity="0.24"/><ellipse cx="224.7" cy="820.3" rx="0.77" ry="0.59" fill="#8e8a78" opacity="0.34"/><ellipse cx="143.7" cy="790.5" rx="0.52" ry="0.40" fill="#8e8a78" opacity="0.20"/><ellipse cx="197.3" cy="797.1" rx="0.78" ry="0.60" fill="#8e8a78" opacity="0.27"/><ellipse cx="220.0" cy="814.5" rx="0.39" ry="0.30" fill="#8e8a78" opacity="0.23"/><ellipse cx="214.3" cy="799.8" rx="0.84" ry="0.64" fill="#8e8a78" opacity="0.27"/><ellipse cx="115.0" cy="806.0" rx="0.74" ry="0.57" fill="#8e8a78" opacity="0.24"/><ellipse cx="116.6" cy="794.5" rx="0.83" ry="0.64" fill="#8e8a78" opacity="0.35"/><ellipse cx="120.3" cy="791.1" rx="0.44" ry="0.34" fill="#8e8a78" opacity="0.19"/><ellipse cx="200.9" cy="788.4" rx="0.64" ry="0.50" fill="#8e8a78" opacity="0.28"/><ellipse cx="128.9" cy="810.0" rx="0.45" ry="0.35" fill="#8e8a78" opacity="0.32"/><ellipse cx="120.1" cy="797.9" rx="0.49" ry="0.37" fill="#8e8a78" opacity="0.24"/><ellipse cx="221.5" cy="812.8" rx="0.53" ry="0.41" fill="#8e8a78" opacity="0.37"/><ellipse cx="131.3" cy="796.9" rx="0.78" ry="0.60" fill="#8e8a78" opacity="0.32"/><ellipse cx="118.2" cy="820.1" rx="0.49" ry="0.37" fill="#8e8a78" opacity="0.24"/><ellipse cx="198.0" cy="794.3" rx="0.52" ry="0.40" fill="#8e8a78" opacity="0.20"/><ellipse cx="117.0" cy="804.2" rx="0.50" ry="0.39" fill="#8e8a78" opacity="0.31"/><ellipse cx="150.4" cy="799.2" rx="0.83" ry="0.64" fill="#8e8a78" opacity="0.29"/><ellipse cx="174.5" cy="815.3" rx="0.47" ry="0.36" fill="#8e8a78" opacity="0.21"/><ellipse cx="214.1" cy="813.4" rx="0.50" ry="0.39" fill="#8e8a78" opacity="0.22"/><ellipse cx="194.1" cy="818.2" rx="0.48" ry="0.37" fill="#8e8a78" opacity="0.39"/><ellipse cx="211.0" cy="805.0" rx="0.58" ry="0.45" fill="#8e8a78" opacity="0.20"/><circle cx="163.0" cy="805.7" r="0.70" fill="#7f7b68" opacity="0.40"/><circle cx="162.5" cy="805.5" r="0.74" fill="#7f7b68" opacity="0.40"/><circle cx="162.8" cy="805.3" r="0.58" fill="#7f7b68" opacity="0.40"/><circle cx="139.8" cy="802.5" r="0.55" fill="#7f7b68" opacity="0.56"/><circle cx="140.6" cy="802.6" r="0.40" fill="#7f7b68" opacity="0.56"/><circle cx="158.5" cy="794.5" r="0.59" fill="#7f7b68" opacity="0.43"/><circle cx="158.6" cy="795.3" r="0.57" fill="#7f7b68" opacity="0.43"/><circle cx="177.9" cy="794.2" r="0.45" fill="#7f7b68" opacity="0.45"/><circle cx="176.6" cy="793.5" r="0.66" fill="#7f7b68" opacity="0.45"/><circle cx="176.2" cy="793.6" r="0.36" fill="#7f7b68" opacity="0.45"/><circle cx="123.8" cy="805.6" r="0.46" fill="#7f7b68" opacity="0.52"/><circle cx="124.1" cy="805.7" r="0.53" fill="#7f7b68" opacity="0.52"/><rect x="230.7" y="771.4" width="120.90" height="57.40" fill="url(#lg2)"/><rect x="230.7" y="771.4" width="120.90" height="7.4" fill="#cfc8a6" opacity="0.45"/><rect x="230.7" y="823.00" width="120.90" height="5.8" fill="#d6cfb0" opacity="0.45"/><line x1="230.70" y1="778.80" x2="351.60" y2="779.30" stroke="#9a9686" stroke-width="0.55"/><line x1="230.70" y1="823.20" x2="351.60" y2="822.20" stroke="#5d6058" stroke-width="0.65"/><ellipse cx="262.7" cy="808.2" rx="0.70" ry="0.54" fill="#8e8a78" opacity="0.37"/><ellipse cx="254.1" cy="790.5" rx="0.46" ry="0.35" fill="#8e8a78" opacity="0.23"/><ellipse cx="318.7" cy="786.6" rx="0.63" ry="0.49" fill="#8e8a78" opacity="0.23"/><ellipse cx="266.9" cy="798.3" rx="0.77" ry="0.59" fill="#8e8a78" opacity="0.31"/><ellipse cx="233.9" cy="792.3" rx="0.46" ry="0.35" fill="#8e8a78" opacity="0.37"/><ellipse cx="327.7" cy="812.9" rx="0.77" ry="0.59" fill="#8e8a78" opacity="0.34"/><ellipse cx="344.1" cy="812.5" rx="0.51" ry="0.39" fill="#8e8a78" opacity="0.37"/><ellipse cx="289.6" cy="810.9" rx="0.65" ry="0.50" fill="#8e8a78" opacity="0.27"/><ellipse cx="275.1" cy="798.3" rx="0.53" ry="0.41" fill="#8e8a78" opacity="0.21"/><ellipse cx="328.8" cy="812.6" rx="0.84" ry="0.64" fill="#8e8a78" opacity="0.33"/><ellipse cx="297.5" cy="810.7" rx="0.45" ry="0.35" fill="#8e8a78" opacity="0.33"/><ellipse cx="284.5" cy="788.4" rx="0.48" ry="0.37" fill="#8e8a78" opacity="0.29"/><ellipse cx="262.1" cy="799.4" rx="0.67" ry="0.51" fill="#8e8a78" opacity="0.27"/><ellipse cx="247.6" cy="800.6" rx="0.50" ry="0.38" fill="#8e8a78" opacity="0.23"/><ellipse cx="255.1" cy="795.8" rx="0.42" ry="0.33" fill="#8e8a78" opacity="0.32"/><ellipse cx="344.6" cy="796.7" rx="0.72" ry="0.55" fill="#8e8a78" opacity="0.39"/><ellipse cx="237.3" cy="787.0" rx="0.76" ry="0.58" fill="#8e8a78" opacity="0.36"/><ellipse cx="307.5" cy="787.7" rx="0.58" ry="0.44" fill="#8e8a78" opacity="0.37"/><ellipse cx="336.7" cy="812.8" rx="0.48" ry="0.37" fill="#8e8a78" opacity="0.37"/><ellipse cx="276.4" cy="809.4" rx="0.45" ry="0.35" fill="#8e8a78" opacity="0.39"/><ellipse cx="303.4" cy="809.7" rx="0.49" ry="0.37" fill="#8e8a78" opacity="0.32"/><ellipse cx="300.7" cy="804.6" rx="0.55" ry="0.43" fill="#8e8a78" opacity="0.34"/><ellipse cx="272.4" cy="793.0" rx="0.46" ry="0.36" fill="#8e8a78" opacity="0.33"/><ellipse cx="245.4" cy="790.3" rx="0.42" ry="0.32" fill="#8e8a78" opacity="0.32"/><ellipse cx="297.8" cy="802.7" rx="0.41" ry="0.31" fill="#8e8a78" opacity="0.28"/><ellipse cx="272.6" cy="785.1" rx="0.39" ry="0.30" fill="#8e8a78" opacity="0.40"/><ellipse cx="246.5" cy="793.3" rx="0.51" ry="0.39" fill="#8e8a78" opacity="0.31"/><ellipse cx="241.3" cy="799.8" rx="0.56" ry="0.43" fill="#8e8a78" opacity="0.36"/><ellipse cx="232.9" cy="794.6" rx="0.62" ry="0.47" fill="#8e8a78" opacity="0.39"/><ellipse cx="293.1" cy="800.0" rx="0.69" ry="0.53" fill="#8e8a78" opacity="0.25"/><ellipse cx="235.9" cy="801.1" rx="0.80" ry="0.62" fill="#8e8a78" opacity="0.34"/><ellipse cx="262.7" cy="808.2" rx="0.78" ry="0.60" fill="#8e8a78" opacity="0.24"/><ellipse cx="301.5" cy="795.4" rx="0.50" ry="0.39" fill="#8e8a78" opacity="0.24"/><ellipse cx="256.2" cy="795.2" rx="0.41" ry="0.31" fill="#8e8a78" opacity="0.27"/><ellipse cx="242.4" cy="811.1" rx="0.66" ry="0.51" fill="#8e8a78" opacity="0.18"/><ellipse cx="323.4" cy="788.9" rx="0.61" ry="0.47" fill="#8e8a78" opacity="0.30"/><ellipse cx="271.4" cy="792.8" rx="0.59" ry="0.45" fill="#8e8a78" opacity="0.21"/><ellipse cx="334.0" cy="785.9" rx="0.76" ry="0.59" fill="#8e8a78" opacity="0.23"/><ellipse cx="268.0" cy="796.6" rx="0.41" ry="0.31" fill="#8e8a78" opacity="0.21"/><ellipse cx="274.8" cy="798.7" rx="0.79" ry="0.61" fill="#8e8a78" opacity="0.40"/><circle cx="250.6" cy="794.8" r="0.96" fill="#9c9580" opacity="0.56"/><circle cx="250.7" cy="794.8" r="1.73" fill="#9c9580" opacity="0.46"/><circle cx="252.5" cy="793.2" r="1.35" fill="#9c9580" opacity="0.51"/><circle cx="249.3" cy="792.9" r="1.80" fill="#9c9580" opacity="0.46"/><circle cx="252.7" cy="793.3" r="0.83" fill="#9c9580" opacity="0.42"/><circle cx="248.4" cy="793.7" r="0.98" fill="#9c9580" opacity="0.51"/><circle cx="249.1" cy="794.7" r="1.73" fill="#9c9580" opacity="0.54"/><circle cx="251.2" cy="795.0" r="1.24" fill="#9c9580" opacity="0.56"/><circle cx="248.3" cy="793.8" r="1.79" fill="#9c9580" opacity="0.56"/><circle cx="251.5" cy="792.1" r="1.39" fill="#9c9580" opacity="0.40"/><circle cx="258.8" cy="789.5" r="1.53" fill="#9c9580" opacity="0.48"/><circle cx="259.2" cy="789.2" r="1.72" fill="#9c9580" opacity="0.40"/><circle cx="259.3" cy="789.5" r="0.98" fill="#9c9580" opacity="0.44"/><circle cx="258.3" cy="789.3" r="1.19" fill="#9c9580" opacity="0.36"/><circle cx="258.7" cy="796.7" r="1.26" fill="#9c9580" opacity="0.53"/><circle cx="261.2" cy="797.2" r="1.53" fill="#9c9580" opacity="0.53"/><circle cx="260.2" cy="797.3" r="0.97" fill="#9c9580" opacity="0.60"/><circle cx="260.0" cy="796.9" r="1.54" fill="#9c9580" opacity="0.40"/><circle cx="259.2" cy="798.1" r="1.03" fill="#9c9580" opacity="0.39"/><circle cx="258.6" cy="797.5" r="1.12" fill="#9c9580" opacity="0.52"/><circle cx="316.8" cy="805.8" r="1.36" fill="#8f8a75" opacity="0.48"/><circle cx="317.1" cy="805.8" r="1.25" fill="#8f8a75" opacity="0.50"/><circle cx="315.8" cy="806.6" r="1.68" fill="#8f8a75" opacity="0.53"/><rect x="262.5" y="774.5" width="1" height="1.6" fill="#333"/><rect x="354.6" y="771.4" width="120.60" height="57.40" fill="url(#lg3)"/><rect x="354.6" y="771.4" width="120.60" height="7.4" fill="#cfc8a6" opacity="0.45"/><rect x="354.6" y="823.00" width="120.60" height="5.8" fill="#d6cfb0" opacity="0.45"/><line x1="354.60" y1="778.80" x2="475.20" y2="779.30" stroke="#9a9686" stroke-width="0.55"/><line x1="354.60" y1="823.20" x2="475.20" y2="822.20" stroke="#5d6058" stroke-width="0.65"/><ellipse cx="368.7" cy="808.9" rx="0.69" ry="0.53" fill="#8a8266" opacity="0.39"/><ellipse cx="388.0" cy="791.5" rx="0.72" ry="0.56" fill="#8a8266" opacity="0.32"/><ellipse cx="391.7" cy="808.2" rx="0.57" ry="0.44" fill="#8a8266" opacity="0.35"/><ellipse cx="370.0" cy="790.2" rx="0.80" ry="0.62" fill="#8a8266" opacity="0.26"/><ellipse cx="386.7" cy="812.9" rx="0.68" ry="0.52" fill="#8a8266" opacity="0.21"/><ellipse cx="420.9" cy="807.4" rx="0.47" ry="0.36" fill="#8a8266" opacity="0.32"/><ellipse cx="370.6" cy="794.6" rx="0.43" ry="0.33" fill="#8a8266" opacity="0.22"/><ellipse cx="471.1" cy="797.2" rx="0.84" ry="0.65" fill="#8a8266" opacity="0.28"/><ellipse cx="427.5" cy="815.5" rx="0.70" ry="0.54" fill="#8a8266" opacity="0.20"/><ellipse cx="425.4" cy="806.2" rx="0.47" ry="0.36" fill="#8a8266" opacity="0.20"/><ellipse cx="459.0" cy="801.5" rx="0.48" ry="0.37" fill="#8a8266" opacity="0.28"/><ellipse cx="381.8" cy="812.6" rx="0.62" ry="0.48" fill="#8a8266" opacity="0.20"/><ellipse cx="452.3" cy="785.0" rx="0.52" ry="0.40" fill="#8a8266" opacity="0.19"/><ellipse cx="443.2" cy="785.9" rx="0.63" ry="0.48" fill="#8a8266" opacity="0.20"/><ellipse cx="412.6" cy="808.2" rx="0.63" ry="0.49" fill="#8a8266" opacity="0.28"/><ellipse cx="413.1" cy="798.5" rx="0.66" ry="0.51" fill="#8a8266" opacity="0.20"/><ellipse cx="411.9" cy="790.7" rx="0.78" ry="0.60" fill="#8a8266" opacity="0.39"/><ellipse cx="363.9" cy="787.1" rx="0.71" ry="0.55" fill="#8a8266" opacity="0.31"/><ellipse cx="358.3" cy="809.0" rx="0.82" ry="0.63" fill="#8a8266" opacity="0.27"/><ellipse cx="397.0" cy="803.7" rx="0.82" ry="0.63" fill="#8a8266" opacity="0.24"/><ellipse cx="391.6" cy="788.9" rx="0.68" ry="0.52" fill="#8a8266" opacity="0.28"/><ellipse cx="386.2" cy="796.6" rx="0.41" ry="0.31" fill="#8a8266" opacity="0.25"/><ellipse cx="471.7" cy="804.4" rx="0.52" ry="0.40" fill="#8a8266" opacity="0.39"/><ellipse cx="398.2" cy="791.3" rx="0.41" ry="0.31" fill="#8a8266" opacity="0.21"/><ellipse cx="379.5" cy="790.5" rx="0.79" ry="0.61" fill="#8a8266" opacity="0.24"/><ellipse cx="385.3" cy="805.1" rx="0.81" ry="0.62" fill="#8a8266" opacity="0.24"/><ellipse cx="445.7" cy="795.9" rx="0.65" ry="0.50" fill="#8a8266" opacity="0.31"/><ellipse cx="466.9" cy="811.0" rx="0.62" ry="0.48" fill="#8a8266" opacity="0.37"/><ellipse cx="399.2" cy="796.5" rx="0.83" ry="0.64" fill="#8a8266" opacity="0.30"/><ellipse cx="447.1" cy="793.8" rx="0.81" ry="0.62" fill="#8a8266" opacity="0.31"/><ellipse cx="385.2" cy="817.9" rx="0.60" ry="0.46" fill="#8a8266" opacity="0.25"/><ellipse cx="387.0" cy="785.5" rx="0.48" ry="0.37" fill="#8a8266" opacity="0.33"/><ellipse cx="372.6" cy="791.6" rx="0.59" ry="0.46" fill="#8a8266" opacity="0.30"/><ellipse cx="400.8" cy="812.1" rx="0.51" ry="0.39" fill="#8a8266" opacity="0.26"/><ellipse cx="406.1" cy="786.5" rx="0.49" ry="0.38" fill="#8a8266" opacity="0.21"/><ellipse cx="441.4" cy="787.2" rx="0.69" ry="0.53" fill="#8a8266" opacity="0.23"/><ellipse cx="432.2" cy="807.1" rx="0.55" ry="0.42" fill="#8a8266" opacity="0.39"/><ellipse cx="433.3" cy="803.2" rx="0.41" ry="0.32" fill="#8a8266" opacity="0.27"/><ellipse cx="387.4" cy="799.8" rx="0.81" ry="0.63" fill="#8a8266" opacity="0.37"/><ellipse cx="363.4" cy="808.0" rx="0.82" ry="0.63" fill="#8a8266" opacity="0.30"/><ellipse cx="367.5" cy="815.3" rx="0.58" ry="0.45" fill="#8a8266" opacity="0.40"/><ellipse cx="458.9" cy="813.8" rx="0.81" ry="0.63" fill="#8a8266" opacity="0.19"/><ellipse cx="449.4" cy="793.4" rx="0.45" ry="0.35" fill="#8a8266" opacity="0.26"/><ellipse cx="425.4" cy="781.7" rx="0.59" ry="0.46" fill="#8a8266" opacity="0.35"/><ellipse cx="414.3" cy="802.1" rx="0.52" ry="0.40" fill="#8a8266" opacity="0.39"/><ellipse cx="385.3" cy="808.1" rx="0.68" ry="0.53" fill="#8a8266" opacity="0.18"/><ellipse cx="473.3" cy="790.7" rx="0.84" ry="0.65" fill="#8a8266" opacity="0.38"/><ellipse cx="462.1" cy="814.9" rx="0.57" ry="0.44" fill="#8a8266" opacity="0.28"/><ellipse cx="396.8" cy="818.0" rx="0.40" ry="0.31" fill="#8a8266" opacity="0.21"/><ellipse cx="468.6" cy="813.0" rx="0.71" ry="0.55" fill="#8a8266" opacity="0.39"/><ellipse cx="417.7" cy="814.1" rx="0.59" ry="0.46" fill="#8a8266" opacity="0.38"/><ellipse cx="364.3" cy="798.6" rx="0.65" ry="0.50" fill="#8a8266" opacity="0.35"/><ellipse cx="405.8" cy="808.0" rx="0.83" ry="0.64" fill="#8a8266" opacity="0.27"/><ellipse cx="379.6" cy="782.7" rx="0.78" ry="0.60" fill="#8a8266" opacity="0.28"/><ellipse cx="401.7" cy="801.8" rx="0.44" ry="0.34" fill="#8a8266" opacity="0.23"/><ellipse cx="383.8" cy="791.4" rx="0.78" ry="0.60" fill="#8a8266" opacity="0.23"/><ellipse cx="366.7" cy="815.3" rx="0.64" ry="0.50" fill="#8a8266" opacity="0.19"/><ellipse cx="435.5" cy="808.3" rx="0.69" ry="0.53" fill="#8a8266" opacity="0.35"/><ellipse cx="406.0" cy="790.3" rx="0.73" ry="0.56" fill="#8a8266" opacity="0.32"/><ellipse cx="438.9" cy="788.7" rx="0.56" ry="0.43" fill="#8a8266" opacity="0.33"/><circle cx="360.8" cy="815.9" r="0.71" fill="#cfc4a4" stroke="#8d846e" stroke-width="0.45" opacity="0.85"/><circle cx="359.0" cy="819.8" r="0.75" fill="#cfc4a4" stroke="#8d846e" stroke-width="0.45" opacity="0.85"/><circle cx="360.6" cy="819.3" r="0.92" fill="#cfc4a4" stroke="#8d846e" stroke-width="0.45" opacity="0.85"/><circle cx="367.3" cy="817.9" r="0.85" fill="#cfc4a4" stroke="#8d846e" stroke-width="0.45" opacity="0.85"/><circle cx="363.4" cy="816.0" r="1.14" fill="#cfc4a4" stroke="#8d846e" stroke-width="0.45" opacity="0.85"/><circle cx="360.5" cy="817.2" r="1.01" fill="#cfc4a4" stroke="#8d846e" stroke-width="0.45" opacity="0.85"/><circle cx="357.8" cy="819.1" r="1.11" fill="#cfc4a4" stroke="#8d846e" stroke-width="0.45" opacity="0.85"/><circle cx="360.1" cy="821.1" r="0.92" fill="#cfc4a4" stroke="#8d846e" stroke-width="0.45" opacity="0.85"/><circle cx="365.3" cy="817.8" r="0.84" fill="#cfc4a4" stroke="#8d846e" stroke-width="0.45" opacity="0.85"/><circle cx="359.2" cy="814.6" r="0.72" fill="#cfc4a4" stroke="#8d846e" stroke-width="0.45" opacity="0.85"/><circle cx="367.9" cy="818.2" r="0.88" fill="#cfc4a4" stroke="#8d846e" stroke-width="0.45" opacity="0.85"/><circle cx="366.8" cy="818.7" r="1.19" fill="#cfc4a4" stroke="#8d846e" stroke-width="0.45" opacity="0.85"/><circle cx="360.3" cy="816.0" r="1.15" fill="#cfc4a4" stroke="#8d846e" stroke-width="0.45" opacity="0.85"/><circle cx="357.9" cy="820.0" r="0.96" fill="#cfc4a4" stroke="#8d846e" stroke-width="0.45" opacity="0.85"/><circle cx="367.8" cy="821.1" r="1.00" fill="#cfc4a4" stroke="#8d846e" stroke-width="0.45" opacity="0.85"/><circle cx="356.4" cy="814.7" r="0.88" fill="#cfc4a4" stroke="#8d846e" stroke-width="0.45" opacity="0.85"/><circle cx="376.6" cy="817.9" r="0.86" fill="#cfc4a4" stroke="#8d846e" stroke-width="0.45" opacity="0.85"/><circle cx="370.7" cy="819.0" r="0.60" fill="#cfc4a4" stroke="#8d846e" stroke-width="0.45" opacity="0.85"/><circle cx="372.6" cy="820.1" r="0.72" fill="#cfc4a4" stroke="#8d846e" stroke-width="0.45" opacity="0.85"/><circle cx="376.3" cy="817.8" r="0.73" fill="#cfc4a4" stroke="#8d846e" stroke-width="0.45" opacity="0.85"/><circle cx="372.1" cy="819.5" r="1.06" fill="#cfc4a4" stroke="#8d846e" stroke-width="0.45" opacity="0.85"/><circle cx="372.8" cy="821.0" r="1.15" fill="#cfc4a4" stroke="#8d846e" stroke-width="0.45" opacity="0.85"/><circle cx="371.0" cy="821.8" r="0.96" fill="#cfc4a4" stroke="#8d846e" stroke-width="0.45" opacity="0.85"/><circle cx="376.0" cy="820.5" r="0.84" fill="#cfc4a4" stroke="#8d846e" stroke-width="0.45" opacity="0.85"/><circle cx="370.8" cy="818.2" r="0.70" fill="#cfc4a4" stroke="#8d846e" stroke-width="0.45" opacity="0.85"/><circle cx="378.1" cy="810.2" r="0.72" fill="#cfc4a4" stroke="#8d846e" stroke-width="0.45" opacity="0.85"/><circle cx="380.4" cy="813.4" r="1.08" fill="#cfc4a4" stroke="#8d846e" stroke-width="0.45" opacity="0.85"/><circle cx="382.1" cy="810.1" r="1.09" fill="#cfc4a4" stroke="#8d846e" stroke-width="0.45" opacity="0.85"/><circle cx="378.1" cy="809.9" r="0.77" fill="#cfc4a4" stroke="#8d846e" stroke-width="0.45" opacity="0.85"/><circle cx="380.5" cy="809.7" r="0.73" fill="#cfc4a4" stroke="#8d846e" stroke-width="0.45" opacity="0.85"/><circle cx="379.4" cy="813.6" r="0.84" fill="#cfc4a4" stroke="#8d846e" stroke-width="0.45" opacity="0.85"/><circle cx="379.5" cy="811.4" r="0.66" fill="#cfc4a4" stroke="#8d846e" stroke-width="0.45" opacity="0.85"/><circle cx="384.9" cy="803.5" r="1.03" fill="#cfc4a4" stroke="#8d846e" stroke-width="0.45" opacity="0.85"/><circle cx="382.5" cy="800.7" r="0.79" fill="#cfc4a4" stroke="#8d846e" stroke-width="0.45" opacity="0.85"/><circle cx="383.8" cy="801.9" r="0.79" fill="#cfc4a4" stroke="#8d846e" stroke-width="0.45" opacity="0.85"/><circle cx="384.9" cy="802.3" r="0.73" fill="#cfc4a4" stroke="#8d846e" stroke-width="0.45" opacity="0.85"/><circle cx="384.5" cy="802.0" r="0.75" fill="#cfc4a4" stroke="#8d846e" stroke-width="0.45" opacity="0.85"/><circle cx="382.0" cy="802.5" r="0.65" fill="#cfc4a4" stroke="#8d846e" stroke-width="0.45" opacity="0.85"/><circle cx="382.7" cy="803.8" r="0.75" fill="#cfc4a4" stroke="#8d846e" stroke-width="0.45" opacity="0.85"/><circle cx="384.0" cy="792.0" r="1.12" fill="#cfc4a4" stroke="#8d846e" stroke-width="0.45" opacity="0.85"/><circle cx="385.7" cy="790.2" r="1.16" fill="#cfc4a4" stroke="#8d846e" stroke-width="0.45" opacity="0.85"/><circle cx="382.5" cy="791.9" r="0.85" fill="#cfc4a4" stroke="#8d846e" stroke-width="0.45" opacity="0.85"/><circle cx="384.9" cy="790.6" r="0.77" fill="#cfc4a4" stroke="#8d846e" stroke-width="0.45" opacity="0.85"/><circle cx="385.1" cy="790.5" r="1.19" fill="#cfc4a4" stroke="#8d846e" stroke-width="0.45" opacity="0.85"/><circle cx="385.0" cy="789.7" r="0.83" fill="#cfc4a4" stroke="#8d846e" stroke-width="0.45" opacity="0.85"/><circle cx="381.9" cy="782.4" r="1.00" fill="#cfc4a4" stroke="#8d846e" stroke-width="0.45" opacity="0.85"/><circle cx="381.0" cy="784.9" r="0.72" fill="#cfc4a4" stroke="#8d846e" stroke-width="0.45" opacity="0.85"/><circle cx="380.8" cy="781.7" r="0.98" fill="#cfc4a4" stroke="#8d846e" stroke-width="0.45" opacity="0.85"/><circle cx="380.8" cy="784.0" r="1.12" fill="#cfc4a4" stroke="#8d846e" stroke-width="0.45" opacity="0.85"/><circle cx="378.7" cy="784.4" r="0.81" fill="#cfc4a4" stroke="#8d846e" stroke-width="0.45" opacity="0.85"/><circle cx="391.6" cy="785.4" r="0.92" fill="#cfc4a4" stroke="#8d846e" stroke-width="0.45" opacity="0.85"/><circle cx="390.0" cy="786.2" r="1.00" fill="#cfc4a4" stroke="#8d846e" stroke-width="0.45" opacity="0.85"/><circle cx="393.0" cy="785.7" r="1.07" fill="#cfc4a4" stroke="#8d846e" stroke-width="0.45" opacity="0.85"/><circle cx="391.8" cy="785.8" r="1.05" fill="#cfc4a4" stroke="#8d846e" stroke-width="0.45" opacity="0.85"/><circle cx="401.2" cy="817.9" r="0.92" fill="#cfc4a4" stroke="#8d846e" stroke-width="0.45" opacity="0.85"/><circle cx="400.6" cy="818.4" r="1.06" fill="#cfc4a4" stroke="#8d846e" stroke-width="0.45" opacity="0.85"/><circle cx="401.3" cy="817.1" r="0.61" fill="#cfc4a4" stroke="#8d846e" stroke-width="0.45" opacity="0.85"/><circle cx="398.0" cy="817.4" r="0.95" fill="#cfc4a4" stroke="#8d846e" stroke-width="0.45" opacity="0.85"/><circle cx="359.8" cy="810.7" r="0.82" fill="#cfc4a4" stroke="#8d846e" stroke-width="0.45" opacity="0.85"/><circle cx="358.2" cy="812.8" r="0.95" fill="#cfc4a4" stroke="#8d846e" stroke-width="0.45" opacity="0.85"/><circle cx="357.2" cy="812.0" r="1.20" fill="#cfc4a4" stroke="#8d846e" stroke-width="0.45" opacity="0.85"/><circle cx="359.2" cy="810.6" r="0.70" fill="#cfc4a4" stroke="#8d846e" stroke-width="0.45" opacity="0.85"/><circle cx="404.8" cy="813.9" r="0.68" fill="#cfc4a4" stroke="#8d846e" stroke-width="0.45" opacity="0.85"/><circle cx="404.8" cy="816.1" r="1.02" fill="#cfc4a4" stroke="#8d846e" stroke-width="0.45" opacity="0.85"/><circle cx="404.7" cy="816.4" r="0.71" fill="#cfc4a4" stroke="#8d846e" stroke-width="0.45" opacity="0.85"/><circle cx="390.3" cy="793.3" r="0.94" fill="#cfc4a4" stroke="#8d846e" stroke-width="0.45" opacity="0.85"/><circle cx="392.2" cy="793.6" r="1.10" fill="#cfc4a4" stroke="#8d846e" stroke-width="0.45" opacity="0.85"/><circle cx="392.3" cy="793.9" r="1.14" fill="#cfc4a4" stroke="#8d846e" stroke-width="0.45" opacity="0.85"/><path d="M355,771.4 A21,9.5 0 0 0 397,771.4 Z" fill="#efe9d8" opacity="0.55"/><text x="155.04" y="843.80" font-size="13.30" fill="#1a1a1a">low</text><text x="266.09" y="843.80" font-size="14.05" fill="#1a1a1a">medium</text><text x="400.87" y="843.80" font-size="13.30" fill="#1a1a1a">high</text></svg></body></html>
